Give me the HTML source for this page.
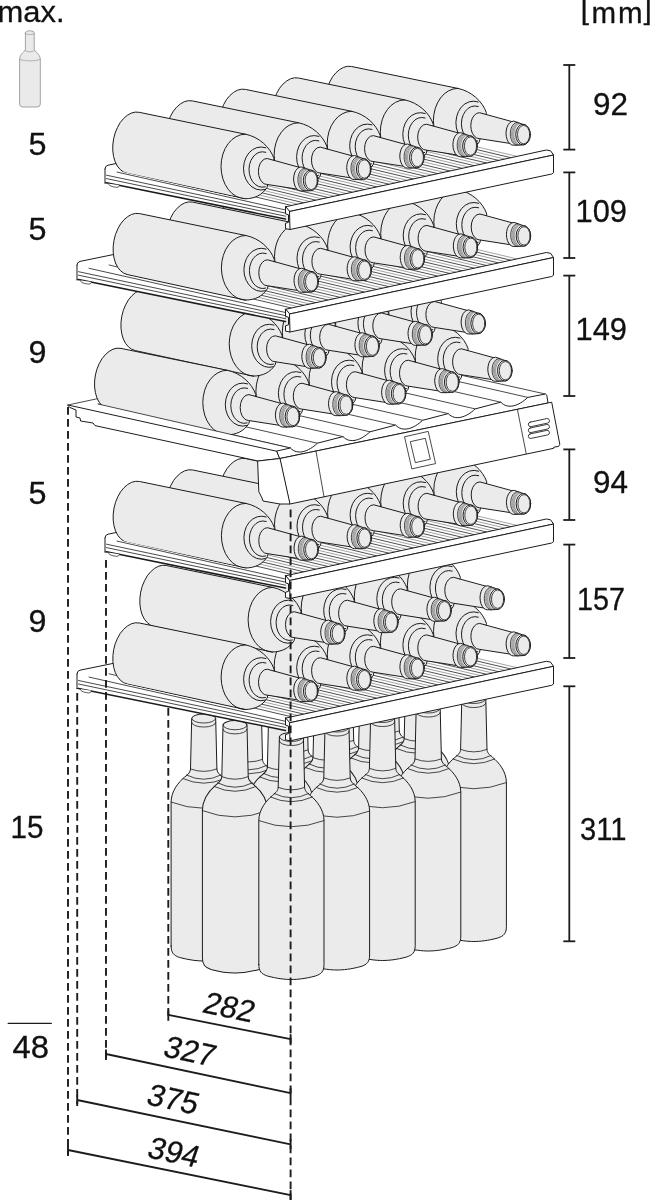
<!DOCTYPE html>
<html><head><meta charset="utf-8"><title>Wine storage capacity</title>
<style>html,body{margin:0;padding:0;background:#fff;}svg{display:block;}text{font-family:"Liberation Sans",sans-serif;fill:#111;stroke:#111;stroke-width:0.3px;}</style>
</head><body>
<svg width="650" height="1200" viewBox="0 0 650 1200" stroke-linecap="round" stroke-linejoin="round">
<rect x="0" y="0" width="650" height="1200" fill="#fff"/>
<g transform="translate(386.1,923) scale(1.000,1.000)">
<path d="M-32.6,-15 L-32.6,-158.9 C-32.6,-170 -25,-179 -19,-184 C-15,-187 -13.4,-189 -13.2,-192.1 L-12,-242.5 A12,4.5 0 0 1 12,-242.5 L13.2,-192.1 C13.4,-189 15,-187 19,-184 C25,-179 32.6,-170 32.6,-158.9 L32.6,-15 C32.6,-8 30,-5.5 24,-3.5 C14,-0.8 6,0 0,0 C-6,0 -14,-0.8 -24,-3.5 C-30,-5.5 -32.6,-8 -32.6,-15Z" fill="#ebebeb" stroke="#1c1c1c" stroke-width="1"/>
<path d="M-32.6,-158.9 Q0,-146.5 32.6,-158.9" fill="none" stroke="#1c1c1c" stroke-width="0.8"/>
<path d="M-20.9,-182.5 Q0,-173 20.9,-182.5" fill="none" stroke="#1c1c1c" stroke-width="0.8"/>
<path d="M-17.3,-186 Q0,-177.4 17.3,-186" fill="none" stroke="#1c1c1c" stroke-width="0.8"/>
<path d="M-13.2,-192.1 Q0,-187 13.2,-192.1" fill="none" stroke="#1c1c1c" stroke-width="0.8"/>
<path d="M-12,-242.5 A12,4.5 0 0 0 12,-242.5" fill="none" stroke="#1c1c1c" stroke-width="0.8"/>
<path d="M-12.1,-238.5 A12,4.5 0 0 0 12.1,-238.5" fill="none" stroke="#1c1c1c" stroke-width="0.8"/>
</g>
<g transform="translate(340.5,932.5) scale(1.000,1.000)">
<path d="M-32.6,-15 L-32.6,-158.9 C-32.6,-170 -25,-179 -19,-184 C-15,-187 -13.4,-189 -13.2,-192.1 L-12,-242.5 A12,4.5 0 0 1 12,-242.5 L13.2,-192.1 C13.4,-189 15,-187 19,-184 C25,-179 32.6,-170 32.6,-158.9 L32.6,-15 C32.6,-8 30,-5.5 24,-3.5 C14,-0.8 6,0 0,0 C-6,0 -14,-0.8 -24,-3.5 C-30,-5.5 -32.6,-8 -32.6,-15Z" fill="#ebebeb" stroke="#1c1c1c" stroke-width="1"/>
<path d="M-32.6,-158.9 Q0,-146.5 32.6,-158.9" fill="none" stroke="#1c1c1c" stroke-width="0.8"/>
<path d="M-20.9,-182.5 Q0,-173 20.9,-182.5" fill="none" stroke="#1c1c1c" stroke-width="0.8"/>
<path d="M-17.3,-186 Q0,-177.4 17.3,-186" fill="none" stroke="#1c1c1c" stroke-width="0.8"/>
<path d="M-13.2,-192.1 Q0,-187 13.2,-192.1" fill="none" stroke="#1c1c1c" stroke-width="0.8"/>
<path d="M-12,-242.5 A12,4.5 0 0 0 12,-242.5" fill="none" stroke="#1c1c1c" stroke-width="0.8"/>
<path d="M-12.1,-238.5 A12,4.5 0 0 0 12.1,-238.5" fill="none" stroke="#1c1c1c" stroke-width="0.8"/>
</g>
<g transform="translate(294.9,942) scale(1.000,1.000)">
<path d="M-32.6,-15 L-32.6,-158.9 C-32.6,-170 -25,-179 -19,-184 C-15,-187 -13.4,-189 -13.2,-192.1 L-12,-242.5 A12,4.5 0 0 1 12,-242.5 L13.2,-192.1 C13.4,-189 15,-187 19,-184 C25,-179 32.6,-170 32.6,-158.9 L32.6,-15 C32.6,-8 30,-5.5 24,-3.5 C14,-0.8 6,0 0,0 C-6,0 -14,-0.8 -24,-3.5 C-30,-5.5 -32.6,-8 -32.6,-15Z" fill="#ebebeb" stroke="#1c1c1c" stroke-width="1"/>
<path d="M-32.6,-158.9 Q0,-146.5 32.6,-158.9" fill="none" stroke="#1c1c1c" stroke-width="0.8"/>
<path d="M-20.9,-182.5 Q0,-173 20.9,-182.5" fill="none" stroke="#1c1c1c" stroke-width="0.8"/>
<path d="M-17.3,-186 Q0,-177.4 17.3,-186" fill="none" stroke="#1c1c1c" stroke-width="0.8"/>
<path d="M-13.2,-192.1 Q0,-187 13.2,-192.1" fill="none" stroke="#1c1c1c" stroke-width="0.8"/>
<path d="M-12,-242.5 A12,4.5 0 0 0 12,-242.5" fill="none" stroke="#1c1c1c" stroke-width="0.8"/>
<path d="M-12.1,-238.5 A12,4.5 0 0 0 12.1,-238.5" fill="none" stroke="#1c1c1c" stroke-width="0.8"/>
</g>
<g transform="translate(249.3,951.5) scale(1.000,1.000)">
<path d="M-32.6,-15 L-32.6,-158.9 C-32.6,-170 -25,-179 -19,-184 C-15,-187 -13.4,-189 -13.2,-192.1 L-12,-242.5 A12,4.5 0 0 1 12,-242.5 L13.2,-192.1 C13.4,-189 15,-187 19,-184 C25,-179 32.6,-170 32.6,-158.9 L32.6,-15 C32.6,-8 30,-5.5 24,-3.5 C14,-0.8 6,0 0,0 C-6,0 -14,-0.8 -24,-3.5 C-30,-5.5 -32.6,-8 -32.6,-15Z" fill="#ebebeb" stroke="#1c1c1c" stroke-width="1"/>
<path d="M-32.6,-158.9 Q0,-146.5 32.6,-158.9" fill="none" stroke="#1c1c1c" stroke-width="0.8"/>
<path d="M-20.9,-182.5 Q0,-173 20.9,-182.5" fill="none" stroke="#1c1c1c" stroke-width="0.8"/>
<path d="M-17.3,-186 Q0,-177.4 17.3,-186" fill="none" stroke="#1c1c1c" stroke-width="0.8"/>
<path d="M-13.2,-192.1 Q0,-187 13.2,-192.1" fill="none" stroke="#1c1c1c" stroke-width="0.8"/>
<path d="M-12,-242.5 A12,4.5 0 0 0 12,-242.5" fill="none" stroke="#1c1c1c" stroke-width="0.8"/>
<path d="M-12.1,-238.5 A12,4.5 0 0 0 12.1,-238.5" fill="none" stroke="#1c1c1c" stroke-width="0.8"/>
</g>
<g transform="translate(203.7,961) scale(1.000,1.000)">
<path d="M-32.6,-15 L-32.6,-158.9 C-32.6,-170 -25,-179 -19,-184 C-15,-187 -13.4,-189 -13.2,-192.1 L-12,-242.5 A12,4.5 0 0 1 12,-242.5 L13.2,-192.1 C13.4,-189 15,-187 19,-184 C25,-179 32.6,-170 32.6,-158.9 L32.6,-15 C32.6,-8 30,-5.5 24,-3.5 C14,-0.8 6,0 0,0 C-6,0 -14,-0.8 -24,-3.5 C-30,-5.5 -32.6,-8 -32.6,-15Z" fill="#ebebeb" stroke="#1c1c1c" stroke-width="1"/>
<path d="M-32.6,-158.9 Q0,-146.5 32.6,-158.9" fill="none" stroke="#1c1c1c" stroke-width="0.8"/>
<path d="M-20.9,-182.5 Q0,-173 20.9,-182.5" fill="none" stroke="#1c1c1c" stroke-width="0.8"/>
<path d="M-17.3,-186 Q0,-177.4 17.3,-186" fill="none" stroke="#1c1c1c" stroke-width="0.8"/>
<path d="M-13.2,-192.1 Q0,-187 13.2,-192.1" fill="none" stroke="#1c1c1c" stroke-width="0.8"/>
<path d="M-12,-242.5 A12,4.5 0 0 0 12,-242.5" fill="none" stroke="#1c1c1c" stroke-width="0.8"/>
<path d="M-12.1,-238.5 A12,4.5 0 0 0 12.1,-238.5" fill="none" stroke="#1c1c1c" stroke-width="0.8"/>
</g>
<g transform="translate(417.4,935) scale(1.000,1.022)">
<path d="M-32.6,-15 L-32.6,-158.9 C-32.6,-170 -25,-179 -19,-184 C-15,-187 -13.4,-189 -13.2,-192.1 L-12,-242.5 A12,4.5 0 0 1 12,-242.5 L13.2,-192.1 C13.4,-189 15,-187 19,-184 C25,-179 32.6,-170 32.6,-158.9 L32.6,-15 C32.6,-8 30,-5.5 24,-3.5 C14,-0.8 6,0 0,0 C-6,0 -14,-0.8 -24,-3.5 C-30,-5.5 -32.6,-8 -32.6,-15Z" fill="#ebebeb" stroke="#1c1c1c" stroke-width="1"/>
<path d="M-32.6,-158.9 Q0,-146.5 32.6,-158.9" fill="none" stroke="#1c1c1c" stroke-width="0.8"/>
<path d="M-20.9,-182.5 Q0,-173 20.9,-182.5" fill="none" stroke="#1c1c1c" stroke-width="0.8"/>
<path d="M-17.3,-186 Q0,-177.4 17.3,-186" fill="none" stroke="#1c1c1c" stroke-width="0.8"/>
<path d="M-13.2,-192.1 Q0,-187 13.2,-192.1" fill="none" stroke="#1c1c1c" stroke-width="0.8"/>
<path d="M-12,-242.5 A12,4.5 0 0 0 12,-242.5" fill="none" stroke="#1c1c1c" stroke-width="0.8"/>
<path d="M-12.1,-238.5 A12,4.5 0 0 0 12.1,-238.5" fill="none" stroke="#1c1c1c" stroke-width="0.8"/>
</g>
<g transform="translate(371.8,944.5) scale(1.000,1.022)">
<path d="M-32.6,-15 L-32.6,-158.9 C-32.6,-170 -25,-179 -19,-184 C-15,-187 -13.4,-189 -13.2,-192.1 L-12,-242.5 A12,4.5 0 0 1 12,-242.5 L13.2,-192.1 C13.4,-189 15,-187 19,-184 C25,-179 32.6,-170 32.6,-158.9 L32.6,-15 C32.6,-8 30,-5.5 24,-3.5 C14,-0.8 6,0 0,0 C-6,0 -14,-0.8 -24,-3.5 C-30,-5.5 -32.6,-8 -32.6,-15Z" fill="#ebebeb" stroke="#1c1c1c" stroke-width="1"/>
<path d="M-32.6,-158.9 Q0,-146.5 32.6,-158.9" fill="none" stroke="#1c1c1c" stroke-width="0.8"/>
<path d="M-20.9,-182.5 Q0,-173 20.9,-182.5" fill="none" stroke="#1c1c1c" stroke-width="0.8"/>
<path d="M-17.3,-186 Q0,-177.4 17.3,-186" fill="none" stroke="#1c1c1c" stroke-width="0.8"/>
<path d="M-13.2,-192.1 Q0,-187 13.2,-192.1" fill="none" stroke="#1c1c1c" stroke-width="0.8"/>
<path d="M-12,-242.5 A12,4.5 0 0 0 12,-242.5" fill="none" stroke="#1c1c1c" stroke-width="0.8"/>
<path d="M-12.1,-238.5 A12,4.5 0 0 0 12.1,-238.5" fill="none" stroke="#1c1c1c" stroke-width="0.8"/>
</g>
<g transform="translate(326.2,954) scale(1.000,1.022)">
<path d="M-32.6,-15 L-32.6,-158.9 C-32.6,-170 -25,-179 -19,-184 C-15,-187 -13.4,-189 -13.2,-192.1 L-12,-242.5 A12,4.5 0 0 1 12,-242.5 L13.2,-192.1 C13.4,-189 15,-187 19,-184 C25,-179 32.6,-170 32.6,-158.9 L32.6,-15 C32.6,-8 30,-5.5 24,-3.5 C14,-0.8 6,0 0,0 C-6,0 -14,-0.8 -24,-3.5 C-30,-5.5 -32.6,-8 -32.6,-15Z" fill="#ebebeb" stroke="#1c1c1c" stroke-width="1"/>
<path d="M-32.6,-158.9 Q0,-146.5 32.6,-158.9" fill="none" stroke="#1c1c1c" stroke-width="0.8"/>
<path d="M-20.9,-182.5 Q0,-173 20.9,-182.5" fill="none" stroke="#1c1c1c" stroke-width="0.8"/>
<path d="M-17.3,-186 Q0,-177.4 17.3,-186" fill="none" stroke="#1c1c1c" stroke-width="0.8"/>
<path d="M-13.2,-192.1 Q0,-187 13.2,-192.1" fill="none" stroke="#1c1c1c" stroke-width="0.8"/>
<path d="M-12,-242.5 A12,4.5 0 0 0 12,-242.5" fill="none" stroke="#1c1c1c" stroke-width="0.8"/>
<path d="M-12.1,-238.5 A12,4.5 0 0 0 12.1,-238.5" fill="none" stroke="#1c1c1c" stroke-width="0.8"/>
</g>
<g transform="translate(280.6,963.5) scale(1.000,1.022)">
<path d="M-32.6,-15 L-32.6,-158.9 C-32.6,-170 -25,-179 -19,-184 C-15,-187 -13.4,-189 -13.2,-192.1 L-12,-242.5 A12,4.5 0 0 1 12,-242.5 L13.2,-192.1 C13.4,-189 15,-187 19,-184 C25,-179 32.6,-170 32.6,-158.9 L32.6,-15 C32.6,-8 30,-5.5 24,-3.5 C14,-0.8 6,0 0,0 C-6,0 -14,-0.8 -24,-3.5 C-30,-5.5 -32.6,-8 -32.6,-15Z" fill="#ebebeb" stroke="#1c1c1c" stroke-width="1"/>
<path d="M-32.6,-158.9 Q0,-146.5 32.6,-158.9" fill="none" stroke="#1c1c1c" stroke-width="0.8"/>
<path d="M-20.9,-182.5 Q0,-173 20.9,-182.5" fill="none" stroke="#1c1c1c" stroke-width="0.8"/>
<path d="M-17.3,-186 Q0,-177.4 17.3,-186" fill="none" stroke="#1c1c1c" stroke-width="0.8"/>
<path d="M-13.2,-192.1 Q0,-187 13.2,-192.1" fill="none" stroke="#1c1c1c" stroke-width="0.8"/>
<path d="M-12,-242.5 A12,4.5 0 0 0 12,-242.5" fill="none" stroke="#1c1c1c" stroke-width="0.8"/>
<path d="M-12.1,-238.5 A12,4.5 0 0 0 12.1,-238.5" fill="none" stroke="#1c1c1c" stroke-width="0.8"/>
</g>
<g transform="translate(235,973) scale(1.000,1.022)">
<path d="M-32.6,-15 L-32.6,-158.9 C-32.6,-170 -25,-179 -19,-184 C-15,-187 -13.4,-189 -13.2,-192.1 L-12,-242.5 A12,4.5 0 0 1 12,-242.5 L13.2,-192.1 C13.4,-189 15,-187 19,-184 C25,-179 32.6,-170 32.6,-158.9 L32.6,-15 C32.6,-8 30,-5.5 24,-3.5 C14,-0.8 6,0 0,0 C-6,0 -14,-0.8 -24,-3.5 C-30,-5.5 -32.6,-8 -32.6,-15Z" fill="#ebebeb" stroke="#1c1c1c" stroke-width="1"/>
<path d="M-32.6,-158.9 Q0,-146.5 32.6,-158.9" fill="none" stroke="#1c1c1c" stroke-width="0.8"/>
<path d="M-20.9,-182.5 Q0,-173 20.9,-182.5" fill="none" stroke="#1c1c1c" stroke-width="0.8"/>
<path d="M-17.3,-186 Q0,-177.4 17.3,-186" fill="none" stroke="#1c1c1c" stroke-width="0.8"/>
<path d="M-13.2,-192.1 Q0,-187 13.2,-192.1" fill="none" stroke="#1c1c1c" stroke-width="0.8"/>
<path d="M-12,-242.5 A12,4.5 0 0 0 12,-242.5" fill="none" stroke="#1c1c1c" stroke-width="0.8"/>
<path d="M-12.1,-238.5 A12,4.5 0 0 0 12.1,-238.5" fill="none" stroke="#1c1c1c" stroke-width="0.8"/>
</g>
<g transform="translate(473.8,941.5) scale(1.000,1.000)">
<path d="M-32.6,-15 L-32.6,-158.9 C-32.6,-170 -25,-179 -19,-184 C-15,-187 -13.4,-189 -13.2,-192.1 L-12,-242.5 A12,4.5 0 0 1 12,-242.5 L13.2,-192.1 C13.4,-189 15,-187 19,-184 C25,-179 32.6,-170 32.6,-158.9 L32.6,-15 C32.6,-8 30,-5.5 24,-3.5 C14,-0.8 6,0 0,0 C-6,0 -14,-0.8 -24,-3.5 C-30,-5.5 -32.6,-8 -32.6,-15Z" fill="#ebebeb" stroke="#1c1c1c" stroke-width="1"/>
<path d="M-32.6,-158.9 Q0,-146.5 32.6,-158.9" fill="none" stroke="#1c1c1c" stroke-width="0.8"/>
<path d="M-20.9,-182.5 Q0,-173 20.9,-182.5" fill="none" stroke="#1c1c1c" stroke-width="0.8"/>
<path d="M-17.3,-186 Q0,-177.4 17.3,-186" fill="none" stroke="#1c1c1c" stroke-width="0.8"/>
<path d="M-13.2,-192.1 Q0,-187 13.2,-192.1" fill="none" stroke="#1c1c1c" stroke-width="0.8"/>
<path d="M-12,-242.5 A12,4.5 0 0 0 12,-242.5" fill="none" stroke="#1c1c1c" stroke-width="0.8"/>
<path d="M-12.1,-238.5 A12,4.5 0 0 0 12.1,-238.5" fill="none" stroke="#1c1c1c" stroke-width="0.8"/>
</g>
<g transform="translate(428.2,951) scale(1.000,1.000)">
<path d="M-32.6,-15 L-32.6,-158.9 C-32.6,-170 -25,-179 -19,-184 C-15,-187 -13.4,-189 -13.2,-192.1 L-12,-242.5 A12,4.5 0 0 1 12,-242.5 L13.2,-192.1 C13.4,-189 15,-187 19,-184 C25,-179 32.6,-170 32.6,-158.9 L32.6,-15 C32.6,-8 30,-5.5 24,-3.5 C14,-0.8 6,0 0,0 C-6,0 -14,-0.8 -24,-3.5 C-30,-5.5 -32.6,-8 -32.6,-15Z" fill="#ebebeb" stroke="#1c1c1c" stroke-width="1"/>
<path d="M-32.6,-158.9 Q0,-146.5 32.6,-158.9" fill="none" stroke="#1c1c1c" stroke-width="0.8"/>
<path d="M-20.9,-182.5 Q0,-173 20.9,-182.5" fill="none" stroke="#1c1c1c" stroke-width="0.8"/>
<path d="M-17.3,-186 Q0,-177.4 17.3,-186" fill="none" stroke="#1c1c1c" stroke-width="0.8"/>
<path d="M-13.2,-192.1 Q0,-187 13.2,-192.1" fill="none" stroke="#1c1c1c" stroke-width="0.8"/>
<path d="M-12,-242.5 A12,4.5 0 0 0 12,-242.5" fill="none" stroke="#1c1c1c" stroke-width="0.8"/>
<path d="M-12.1,-238.5 A12,4.5 0 0 0 12.1,-238.5" fill="none" stroke="#1c1c1c" stroke-width="0.8"/>
</g>
<g transform="translate(382.6,960.5) scale(1.000,1.000)">
<path d="M-32.6,-15 L-32.6,-158.9 C-32.6,-170 -25,-179 -19,-184 C-15,-187 -13.4,-189 -13.2,-192.1 L-12,-242.5 A12,4.5 0 0 1 12,-242.5 L13.2,-192.1 C13.4,-189 15,-187 19,-184 C25,-179 32.6,-170 32.6,-158.9 L32.6,-15 C32.6,-8 30,-5.5 24,-3.5 C14,-0.8 6,0 0,0 C-6,0 -14,-0.8 -24,-3.5 C-30,-5.5 -32.6,-8 -32.6,-15Z" fill="#ebebeb" stroke="#1c1c1c" stroke-width="1"/>
<path d="M-32.6,-158.9 Q0,-146.5 32.6,-158.9" fill="none" stroke="#1c1c1c" stroke-width="0.8"/>
<path d="M-20.9,-182.5 Q0,-173 20.9,-182.5" fill="none" stroke="#1c1c1c" stroke-width="0.8"/>
<path d="M-17.3,-186 Q0,-177.4 17.3,-186" fill="none" stroke="#1c1c1c" stroke-width="0.8"/>
<path d="M-13.2,-192.1 Q0,-187 13.2,-192.1" fill="none" stroke="#1c1c1c" stroke-width="0.8"/>
<path d="M-12,-242.5 A12,4.5 0 0 0 12,-242.5" fill="none" stroke="#1c1c1c" stroke-width="0.8"/>
<path d="M-12.1,-238.5 A12,4.5 0 0 0 12.1,-238.5" fill="none" stroke="#1c1c1c" stroke-width="0.8"/>
</g>
<g transform="translate(337,970) scale(1.000,1.000)">
<path d="M-32.6,-15 L-32.6,-158.9 C-32.6,-170 -25,-179 -19,-184 C-15,-187 -13.4,-189 -13.2,-192.1 L-12,-242.5 A12,4.5 0 0 1 12,-242.5 L13.2,-192.1 C13.4,-189 15,-187 19,-184 C25,-179 32.6,-170 32.6,-158.9 L32.6,-15 C32.6,-8 30,-5.5 24,-3.5 C14,-0.8 6,0 0,0 C-6,0 -14,-0.8 -24,-3.5 C-30,-5.5 -32.6,-8 -32.6,-15Z" fill="#ebebeb" stroke="#1c1c1c" stroke-width="1"/>
<path d="M-32.6,-158.9 Q0,-146.5 32.6,-158.9" fill="none" stroke="#1c1c1c" stroke-width="0.8"/>
<path d="M-20.9,-182.5 Q0,-173 20.9,-182.5" fill="none" stroke="#1c1c1c" stroke-width="0.8"/>
<path d="M-17.3,-186 Q0,-177.4 17.3,-186" fill="none" stroke="#1c1c1c" stroke-width="0.8"/>
<path d="M-13.2,-192.1 Q0,-187 13.2,-192.1" fill="none" stroke="#1c1c1c" stroke-width="0.8"/>
<path d="M-12,-242.5 A12,4.5 0 0 0 12,-242.5" fill="none" stroke="#1c1c1c" stroke-width="0.8"/>
<path d="M-12.1,-238.5 A12,4.5 0 0 0 12.1,-238.5" fill="none" stroke="#1c1c1c" stroke-width="0.8"/>
</g>
<g transform="translate(291.4,979.5) scale(1.000,1.000)">
<path d="M-32.6,-15 L-32.6,-158.9 C-32.6,-170 -25,-179 -19,-184 C-15,-187 -13.4,-189 -13.2,-192.1 L-12,-242.5 A12,4.5 0 0 1 12,-242.5 L13.2,-192.1 C13.4,-189 15,-187 19,-184 C25,-179 32.6,-170 32.6,-158.9 L32.6,-15 C32.6,-8 30,-5.5 24,-3.5 C14,-0.8 6,0 0,0 C-6,0 -14,-0.8 -24,-3.5 C-30,-5.5 -32.6,-8 -32.6,-15Z" fill="#ebebeb" stroke="#1c1c1c" stroke-width="1"/>
<path d="M-32.6,-158.9 Q0,-146.5 32.6,-158.9" fill="none" stroke="#1c1c1c" stroke-width="0.8"/>
<path d="M-20.9,-182.5 Q0,-173 20.9,-182.5" fill="none" stroke="#1c1c1c" stroke-width="0.8"/>
<path d="M-17.3,-186 Q0,-177.4 17.3,-186" fill="none" stroke="#1c1c1c" stroke-width="0.8"/>
<path d="M-13.2,-192.1 Q0,-187 13.2,-192.1" fill="none" stroke="#1c1c1c" stroke-width="0.8"/>
<path d="M-12,-242.5 A12,4.5 0 0 0 12,-242.5" fill="none" stroke="#1c1c1c" stroke-width="0.8"/>
<path d="M-12.1,-238.5 A12,4.5 0 0 0 12.1,-238.5" fill="none" stroke="#1c1c1c" stroke-width="0.8"/>
</g>
<path d="M77,674.3 L285.5,723.1 L285.5,718.1 L546.3,661.3 L337.8,612.5Z" fill="#fff" stroke="none" stroke-width="0"/>
<path d="M109.1,673.8 L291.6,716.8" fill="none" stroke="#222" stroke-width="0.8"/>
<path d="M115.2,672.4 L297.7,715.4" fill="none" stroke="#666" stroke-width="0.6"/>
<path d="M121.3,671.1 L303.8,714.1" fill="none" stroke="#222" stroke-width="0.8"/>
<path d="M127.4,669.8 L309.9,712.8" fill="none" stroke="#666" stroke-width="0.6"/>
<path d="M133.5,668.5 L316,711.5" fill="none" stroke="#222" stroke-width="0.8"/>
<path d="M139.6,667.1 L322.1,710.1" fill="none" stroke="#666" stroke-width="0.6"/>
<path d="M145.6,665.8 L328.1,708.8" fill="none" stroke="#222" stroke-width="0.8"/>
<path d="M151.7,664.5 L334.2,707.5" fill="none" stroke="#666" stroke-width="0.6"/>
<path d="M157.8,663.1 L340.3,706.2" fill="none" stroke="#222" stroke-width="0.8"/>
<path d="M163.9,661.8 L346.4,704.8" fill="none" stroke="#666" stroke-width="0.6"/>
<path d="M170,660.5 L352.5,703.5" fill="none" stroke="#222" stroke-width="0.8"/>
<path d="M176.1,659.2 L358.6,702.2" fill="none" stroke="#666" stroke-width="0.6"/>
<path d="M182.2,657.8 L364.7,700.9" fill="none" stroke="#222" stroke-width="0.8"/>
<path d="M188.3,656.5 L370.8,699.5" fill="none" stroke="#666" stroke-width="0.6"/>
<path d="M194.4,655.2 L376.9,698.2" fill="none" stroke="#222" stroke-width="0.8"/>
<path d="M200.5,653.9 L383,696.9" fill="none" stroke="#666" stroke-width="0.6"/>
<path d="M206.6,652.5 L389.1,695.5" fill="none" stroke="#222" stroke-width="0.8"/>
<path d="M212.7,651.2 L395.2,694.2" fill="none" stroke="#666" stroke-width="0.6"/>
<path d="M218.8,649.9 L401.3,692.9" fill="none" stroke="#222" stroke-width="0.8"/>
<path d="M224.8,648.5 L407.3,691.6" fill="none" stroke="#666" stroke-width="0.6"/>
<path d="M230.9,647.2 L413.4,690.2" fill="none" stroke="#222" stroke-width="0.8"/>
<path d="M237,645.9 L419.5,688.9" fill="none" stroke="#666" stroke-width="0.6"/>
<path d="M243.1,644.6 L425.6,687.6" fill="none" stroke="#222" stroke-width="0.8"/>
<path d="M249.2,643.2 L431.7,686.3" fill="none" stroke="#666" stroke-width="0.6"/>
<path d="M255.3,641.9 L437.8,684.9" fill="none" stroke="#222" stroke-width="0.8"/>
<path d="M261.4,640.6 L443.9,683.6" fill="none" stroke="#666" stroke-width="0.6"/>
<path d="M267.5,639.3 L450,682.3" fill="none" stroke="#222" stroke-width="0.8"/>
<path d="M273.6,637.9 L456.1,680.9" fill="none" stroke="#666" stroke-width="0.6"/>
<path d="M279.7,636.6 L462.2,679.6" fill="none" stroke="#222" stroke-width="0.8"/>
<path d="M285.8,635.3 L468.3,678.3" fill="none" stroke="#666" stroke-width="0.6"/>
<path d="M291.9,634 L474.4,677" fill="none" stroke="#222" stroke-width="0.8"/>
<path d="M298,632.6 L480.5,675.6" fill="none" stroke="#666" stroke-width="0.6"/>
<path d="M304.1,631.3 L486.6,674.3" fill="none" stroke="#222" stroke-width="0.8"/>
<path d="M310.1,630 L492.6,673" fill="none" stroke="#666" stroke-width="0.6"/>
<path d="M316.2,628.6 L498.7,671.7" fill="none" stroke="#222" stroke-width="0.8"/>
<path d="M322.3,627.3 L504.8,670.3" fill="none" stroke="#666" stroke-width="0.6"/>
<path d="M328.4,626 L510.9,669" fill="none" stroke="#222" stroke-width="0.8"/>
<path d="M334.5,624.7 L517,667.7" fill="none" stroke="#666" stroke-width="0.6"/>
<path d="M77,673.9 Q77,670.8 80,670.2 L117,662.6" fill="none" stroke="#1c1c1c" stroke-width="1"/>
<g transform="translate(523.1,645.3)">
<path d="M-183.4,-7.1 L-187.1,-8.4 L-190.4,-10.9 L-193.3,-14.4 L-195.5,-18.7 L-197,-23.8 L-197.8,-29.5 L-197.8,-35.4 L-197,-41.5 L-195.5,-47.3 L-193.2,-52.8 L-190.4,-57.8 L-187,-61.9 L-183.3,-65.1 L-179.4,-67.3 L-175.4,-68.3 L-171.4,-68.1 L-65.1,-46.2 C-51.6,-43.4 -40.6,-33.4 -36.6,-21.9 L-43.6,7.1 C-48.6,14.6 -55.6,18.2 -65.1,18.4Z" fill="#ebebeb" stroke="#1c1c1c" stroke-width="1"/>
<path d="M-65.1,-46.2 L-69.9,-45.6 L-74.5,-43.7 L-78.7,-40.8 L-82.4,-36.7 L-85.5,-31.8 L-87.7,-26.3 L-89.1,-20.2 L-89.6,-13.9 L-89.1,-7.6 L-87.7,-1.5 L-85.5,4 L-82.4,8.9 L-78.7,13 L-74.5,15.9 L-69.9,17.8 L-65.1,18.4" fill="none" stroke="#1c1c1c" stroke-width="1"/>
<path d="M-44.8,-32.6 L-49.3,-33.4 L-53.8,-32.8 L-58.1,-30.7 L-61.8,-27.4 L-64.6,-23 L-66.4,-17.8 L-67.1,-12.3 L-66.6,-6.7 L-64.9,-1.5 L-62.2,3 L-58.6,6.5 L-54.4,8.8 L-49.9,9.6 L-45.4,9" fill="none" stroke="#1c1c1c" stroke-width="1"/>
<path d="M-44.8,-28.1 L-48.3,-28.6 L-51.7,-28 L-54.9,-26.2 L-57.6,-23.4 L-59.7,-19.9 L-61.1,-15.7 L-61.6,-11.2 L-61.2,-6.7 L-60,-2.5 L-58,1.2 L-55.3,4.1 L-52.1,6 L-48.7,6.8 L-45.3,6.4" fill="none" stroke="#1c1c1c" stroke-width="1"/>
<path d="M-43.8,-21.8 L-46.4,-21.2 L-48.7,-19.3 L-50.6,-16.5 L-51.8,-12.9 L-52.2,-8.9 L-51.8,-4.9 L-50.6,-1.3 L-48.7,1.5 L-46.4,3.4 L-43.8,4 L-10.6,9.2 L-10.6,-12.5 Z" fill="#ebebeb" stroke="#1c1c1c" stroke-width="1"/>
<path d="M-9.6,-13.4 L-11.5,-13 L-13.3,-11.8 L-14.8,-9.9 L-16,-7.4 L-16.7,-4.5 L-17,-1.4 L-16.7,1.7 L-16,4.6 L-14.8,7.1 L-13.3,9 L-11.5,10.2 L-9.6,10.6 L-0.2,10.3 L0,10.3 L1.9,9.9 L3.6,8.9 L5.1,7.3 L6.3,5.2 L7,2.7 L7.2,0 L7,-2.7 L6.3,-5.2 L5.1,-7.3 L3.6,-8.9 L1.9,-9.9 L0,-10.3Z" fill="#ebebeb" stroke="#1c1c1c" stroke-width="1"/>
<path d="M-5.7,-12.3 L-7.5,-11.8 L-9.2,-10.6 L-10.7,-8.8 L-11.8,-6.4 L-12.5,-3.7 L-12.7,-0.8 L-12.5,2.1 L-11.8,4.8 L-10.7,7.2 L-9.2,9 L-7.5,10.2 L-5.7,10.7" fill="none" stroke="#1c1c1c" stroke-width="0.8"/>
<path d="M-4.7,-11.9 L-6.8,-11.1 L-8.7,-9.5 L-10.1,-7 L-11.1,-3.9 L-11.4,-0.6 L-11.1,2.7 L-10.1,5.8 L-8.7,8.3 L-6.8,9.9 L-4.7,10.7" fill="none" stroke="#444" stroke-width="0.5"/>
<path d="M-3.6,-11.5 L-5.7,-10.8 L-7.6,-9.1 L-9,-6.7 L-10,-3.7 L-10.3,-0.4 L-10,2.8 L-9,5.8 L-7.6,8.2 L-5.7,9.9 L-3.6,10.6" fill="none" stroke="#444" stroke-width="0.5"/>
<path d="M-2.5,-11.1 L-4.6,-10.4 L-6.5,-8.8 L-7.9,-6.4 L-8.9,-3.5 L-9.2,-0.3 L-8.9,2.9 L-7.9,5.8 L-6.5,8.2 L-4.6,9.8 L-2.5,10.5" fill="none" stroke="#444" stroke-width="0.5"/>
<ellipse cx="0" cy="0" rx="7.25" ry="10.3" fill="#ebebeb" stroke="#1c1c1c" stroke-width="1"/>
<ellipse cx="0.6" cy="0" rx="6.1" ry="9.2" fill="#ebebeb" stroke="#1c1c1c" stroke-width="0.8"/>
</g>
<g transform="translate(497,599.2)">
<path d="M-183.4,-7.1 L-187.1,-8.4 L-190.4,-10.9 L-193.3,-14.4 L-195.5,-18.7 L-197,-23.8 L-197.8,-29.5 L-197.8,-35.4 L-197,-41.5 L-195.5,-47.3 L-193.2,-52.8 L-190.4,-57.8 L-187,-61.9 L-183.3,-65.1 L-179.4,-67.3 L-175.4,-68.3 L-171.4,-68.1 L-65.1,-46.2 C-51.6,-43.4 -40.6,-33.4 -36.6,-21.9 L-43.6,7.1 C-48.6,14.6 -55.6,18.2 -65.1,18.4Z" fill="#ebebeb" stroke="#1c1c1c" stroke-width="1"/>
<path d="M-65.1,-46.2 L-69.9,-45.6 L-74.5,-43.7 L-78.7,-40.8 L-82.4,-36.7 L-85.5,-31.8 L-87.7,-26.3 L-89.1,-20.2 L-89.6,-13.9 L-89.1,-7.6 L-87.7,-1.5 L-85.5,4 L-82.4,8.9 L-78.7,13 L-74.5,15.9 L-69.9,17.8 L-65.1,18.4" fill="none" stroke="#1c1c1c" stroke-width="1"/>
<path d="M-44.8,-32.6 L-49.3,-33.4 L-53.8,-32.8 L-58.1,-30.7 L-61.8,-27.4 L-64.6,-23 L-66.4,-17.8 L-67.1,-12.3 L-66.6,-6.7 L-64.9,-1.5 L-62.2,3 L-58.6,6.5 L-54.4,8.8 L-49.9,9.6 L-45.4,9" fill="none" stroke="#1c1c1c" stroke-width="1"/>
<path d="M-44.8,-28.1 L-48.3,-28.6 L-51.7,-28 L-54.9,-26.2 L-57.6,-23.4 L-59.7,-19.9 L-61.1,-15.7 L-61.6,-11.2 L-61.2,-6.7 L-60,-2.5 L-58,1.2 L-55.3,4.1 L-52.1,6 L-48.7,6.8 L-45.3,6.4" fill="none" stroke="#1c1c1c" stroke-width="1"/>
<path d="M-43.8,-21.8 L-46.4,-21.2 L-48.7,-19.3 L-50.6,-16.5 L-51.8,-12.9 L-52.2,-8.9 L-51.8,-4.9 L-50.6,-1.3 L-48.7,1.5 L-46.4,3.4 L-43.8,4 L-10.6,9.2 L-10.6,-12.5 Z" fill="#ebebeb" stroke="#1c1c1c" stroke-width="1"/>
<path d="M-9.6,-13.4 L-11.5,-13 L-13.3,-11.8 L-14.8,-9.9 L-16,-7.4 L-16.7,-4.5 L-17,-1.4 L-16.7,1.7 L-16,4.6 L-14.8,7.1 L-13.3,9 L-11.5,10.2 L-9.6,10.6 L-0.2,10.3 L0,10.3 L1.9,9.9 L3.6,8.9 L5.1,7.3 L6.3,5.2 L7,2.7 L7.2,0 L7,-2.7 L6.3,-5.2 L5.1,-7.3 L3.6,-8.9 L1.9,-9.9 L0,-10.3Z" fill="#ebebeb" stroke="#1c1c1c" stroke-width="1"/>
<path d="M-5.7,-12.3 L-7.5,-11.8 L-9.2,-10.6 L-10.7,-8.8 L-11.8,-6.4 L-12.5,-3.7 L-12.7,-0.8 L-12.5,2.1 L-11.8,4.8 L-10.7,7.2 L-9.2,9 L-7.5,10.2 L-5.7,10.7" fill="none" stroke="#1c1c1c" stroke-width="0.8"/>
<path d="M-4.7,-11.9 L-6.8,-11.1 L-8.7,-9.5 L-10.1,-7 L-11.1,-3.9 L-11.4,-0.6 L-11.1,2.7 L-10.1,5.8 L-8.7,8.3 L-6.8,9.9 L-4.7,10.7" fill="none" stroke="#444" stroke-width="0.5"/>
<path d="M-3.6,-11.5 L-5.7,-10.8 L-7.6,-9.1 L-9,-6.7 L-10,-3.7 L-10.3,-0.4 L-10,2.8 L-9,5.8 L-7.6,8.2 L-5.7,9.9 L-3.6,10.6" fill="none" stroke="#444" stroke-width="0.5"/>
<path d="M-2.5,-11.1 L-4.6,-10.4 L-6.5,-8.8 L-7.9,-6.4 L-8.9,-3.5 L-9.2,-0.3 L-8.9,2.9 L-7.9,5.8 L-6.5,8.2 L-4.6,9.8 L-2.5,10.5" fill="none" stroke="#444" stroke-width="0.5"/>
<ellipse cx="0" cy="0" rx="7.25" ry="10.3" fill="#ebebeb" stroke="#1c1c1c" stroke-width="1"/>
<ellipse cx="0.6" cy="0" rx="6.1" ry="9.2" fill="#ebebeb" stroke="#1c1c1c" stroke-width="0.8"/>
</g>
<g transform="translate(470,656.8)">
<path d="M-183.4,-7.1 L-187.1,-8.4 L-190.4,-10.9 L-193.3,-14.4 L-195.5,-18.7 L-197,-23.8 L-197.8,-29.5 L-197.8,-35.4 L-197,-41.5 L-195.5,-47.3 L-193.2,-52.8 L-190.4,-57.8 L-187,-61.9 L-183.3,-65.1 L-179.4,-67.3 L-175.4,-68.3 L-171.4,-68.1 L-65.1,-46.2 C-51.6,-43.4 -40.6,-33.4 -36.6,-21.9 L-43.6,7.1 C-48.6,14.6 -55.6,18.2 -65.1,18.4Z" fill="#ebebeb" stroke="#1c1c1c" stroke-width="1"/>
<path d="M-65.1,-46.2 L-69.9,-45.6 L-74.5,-43.7 L-78.7,-40.8 L-82.4,-36.7 L-85.5,-31.8 L-87.7,-26.3 L-89.1,-20.2 L-89.6,-13.9 L-89.1,-7.6 L-87.7,-1.5 L-85.5,4 L-82.4,8.9 L-78.7,13 L-74.5,15.9 L-69.9,17.8 L-65.1,18.4" fill="none" stroke="#1c1c1c" stroke-width="1"/>
<path d="M-44.8,-32.6 L-49.3,-33.4 L-53.8,-32.8 L-58.1,-30.7 L-61.8,-27.4 L-64.6,-23 L-66.4,-17.8 L-67.1,-12.3 L-66.6,-6.7 L-64.9,-1.5 L-62.2,3 L-58.6,6.5 L-54.4,8.8 L-49.9,9.6 L-45.4,9" fill="none" stroke="#1c1c1c" stroke-width="1"/>
<path d="M-44.8,-28.1 L-48.3,-28.6 L-51.7,-28 L-54.9,-26.2 L-57.6,-23.4 L-59.7,-19.9 L-61.1,-15.7 L-61.6,-11.2 L-61.2,-6.7 L-60,-2.5 L-58,1.2 L-55.3,4.1 L-52.1,6 L-48.7,6.8 L-45.3,6.4" fill="none" stroke="#1c1c1c" stroke-width="1"/>
<path d="M-43.8,-21.8 L-46.4,-21.2 L-48.7,-19.3 L-50.6,-16.5 L-51.8,-12.9 L-52.2,-8.9 L-51.8,-4.9 L-50.6,-1.3 L-48.7,1.5 L-46.4,3.4 L-43.8,4 L-10.6,9.2 L-10.6,-12.5 Z" fill="#ebebeb" stroke="#1c1c1c" stroke-width="1"/>
<path d="M-9.6,-13.4 L-11.5,-13 L-13.3,-11.8 L-14.8,-9.9 L-16,-7.4 L-16.7,-4.5 L-17,-1.4 L-16.7,1.7 L-16,4.6 L-14.8,7.1 L-13.3,9 L-11.5,10.2 L-9.6,10.6 L-0.2,10.3 L0,10.3 L1.9,9.9 L3.6,8.9 L5.1,7.3 L6.3,5.2 L7,2.7 L7.2,0 L7,-2.7 L6.3,-5.2 L5.1,-7.3 L3.6,-8.9 L1.9,-9.9 L0,-10.3Z" fill="#ebebeb" stroke="#1c1c1c" stroke-width="1"/>
<path d="M-5.7,-12.3 L-7.5,-11.8 L-9.2,-10.6 L-10.7,-8.8 L-11.8,-6.4 L-12.5,-3.7 L-12.7,-0.8 L-12.5,2.1 L-11.8,4.8 L-10.7,7.2 L-9.2,9 L-7.5,10.2 L-5.7,10.7" fill="none" stroke="#1c1c1c" stroke-width="0.8"/>
<path d="M-4.7,-11.9 L-6.8,-11.1 L-8.7,-9.5 L-10.1,-7 L-11.1,-3.9 L-11.4,-0.6 L-11.1,2.7 L-10.1,5.8 L-8.7,8.3 L-6.8,9.9 L-4.7,10.7" fill="none" stroke="#444" stroke-width="0.5"/>
<path d="M-3.6,-11.5 L-5.7,-10.8 L-7.6,-9.1 L-9,-6.7 L-10,-3.7 L-10.3,-0.4 L-10,2.8 L-9,5.8 L-7.6,8.2 L-5.7,9.9 L-3.6,10.6" fill="none" stroke="#444" stroke-width="0.5"/>
<path d="M-2.5,-11.1 L-4.6,-10.4 L-6.5,-8.8 L-7.9,-6.4 L-8.9,-3.5 L-9.2,-0.3 L-8.9,2.9 L-7.9,5.8 L-6.5,8.2 L-4.6,9.8 L-2.5,10.5" fill="none" stroke="#444" stroke-width="0.5"/>
<ellipse cx="0" cy="0" rx="7.25" ry="10.3" fill="#ebebeb" stroke="#1c1c1c" stroke-width="1"/>
<ellipse cx="0.6" cy="0" rx="6.1" ry="9.2" fill="#ebebeb" stroke="#1c1c1c" stroke-width="0.8"/>
</g>
<g transform="translate(443.9,610.7)">
<path d="M-183.4,-7.1 L-187.1,-8.4 L-190.4,-10.9 L-193.3,-14.4 L-195.5,-18.7 L-197,-23.8 L-197.8,-29.5 L-197.8,-35.4 L-197,-41.5 L-195.5,-47.3 L-193.2,-52.8 L-190.4,-57.8 L-187,-61.9 L-183.3,-65.1 L-179.4,-67.3 L-175.4,-68.3 L-171.4,-68.1 L-65.1,-46.2 C-51.6,-43.4 -40.6,-33.4 -36.6,-21.9 L-43.6,7.1 C-48.6,14.6 -55.6,18.2 -65.1,18.4Z" fill="#ebebeb" stroke="#1c1c1c" stroke-width="1"/>
<path d="M-65.1,-46.2 L-69.9,-45.6 L-74.5,-43.7 L-78.7,-40.8 L-82.4,-36.7 L-85.5,-31.8 L-87.7,-26.3 L-89.1,-20.2 L-89.6,-13.9 L-89.1,-7.6 L-87.7,-1.5 L-85.5,4 L-82.4,8.9 L-78.7,13 L-74.5,15.9 L-69.9,17.8 L-65.1,18.4" fill="none" stroke="#1c1c1c" stroke-width="1"/>
<path d="M-44.8,-32.6 L-49.3,-33.4 L-53.8,-32.8 L-58.1,-30.7 L-61.8,-27.4 L-64.6,-23 L-66.4,-17.8 L-67.1,-12.3 L-66.6,-6.7 L-64.9,-1.5 L-62.2,3 L-58.6,6.5 L-54.4,8.8 L-49.9,9.6 L-45.4,9" fill="none" stroke="#1c1c1c" stroke-width="1"/>
<path d="M-44.8,-28.1 L-48.3,-28.6 L-51.7,-28 L-54.9,-26.2 L-57.6,-23.4 L-59.7,-19.9 L-61.1,-15.7 L-61.6,-11.2 L-61.2,-6.7 L-60,-2.5 L-58,1.2 L-55.3,4.1 L-52.1,6 L-48.7,6.8 L-45.3,6.4" fill="none" stroke="#1c1c1c" stroke-width="1"/>
<path d="M-43.8,-21.8 L-46.4,-21.2 L-48.7,-19.3 L-50.6,-16.5 L-51.8,-12.9 L-52.2,-8.9 L-51.8,-4.9 L-50.6,-1.3 L-48.7,1.5 L-46.4,3.4 L-43.8,4 L-10.6,9.2 L-10.6,-12.5 Z" fill="#ebebeb" stroke="#1c1c1c" stroke-width="1"/>
<path d="M-9.6,-13.4 L-11.5,-13 L-13.3,-11.8 L-14.8,-9.9 L-16,-7.4 L-16.7,-4.5 L-17,-1.4 L-16.7,1.7 L-16,4.6 L-14.8,7.1 L-13.3,9 L-11.5,10.2 L-9.6,10.6 L-0.2,10.3 L0,10.3 L1.9,9.9 L3.6,8.9 L5.1,7.3 L6.3,5.2 L7,2.7 L7.2,0 L7,-2.7 L6.3,-5.2 L5.1,-7.3 L3.6,-8.9 L1.9,-9.9 L0,-10.3Z" fill="#ebebeb" stroke="#1c1c1c" stroke-width="1"/>
<path d="M-5.7,-12.3 L-7.5,-11.8 L-9.2,-10.6 L-10.7,-8.8 L-11.8,-6.4 L-12.5,-3.7 L-12.7,-0.8 L-12.5,2.1 L-11.8,4.8 L-10.7,7.2 L-9.2,9 L-7.5,10.2 L-5.7,10.7" fill="none" stroke="#1c1c1c" stroke-width="0.8"/>
<path d="M-4.7,-11.9 L-6.8,-11.1 L-8.7,-9.5 L-10.1,-7 L-11.1,-3.9 L-11.4,-0.6 L-11.1,2.7 L-10.1,5.8 L-8.7,8.3 L-6.8,9.9 L-4.7,10.7" fill="none" stroke="#444" stroke-width="0.5"/>
<path d="M-3.6,-11.5 L-5.7,-10.8 L-7.6,-9.1 L-9,-6.7 L-10,-3.7 L-10.3,-0.4 L-10,2.8 L-9,5.8 L-7.6,8.2 L-5.7,9.9 L-3.6,10.6" fill="none" stroke="#444" stroke-width="0.5"/>
<path d="M-2.5,-11.1 L-4.6,-10.4 L-6.5,-8.8 L-7.9,-6.4 L-8.9,-3.5 L-9.2,-0.3 L-8.9,2.9 L-7.9,5.8 L-6.5,8.2 L-4.6,9.8 L-2.5,10.5" fill="none" stroke="#444" stroke-width="0.5"/>
<ellipse cx="0" cy="0" rx="7.25" ry="10.3" fill="#ebebeb" stroke="#1c1c1c" stroke-width="1"/>
<ellipse cx="0.6" cy="0" rx="6.1" ry="9.2" fill="#ebebeb" stroke="#1c1c1c" stroke-width="0.8"/>
</g>
<g transform="translate(416.9,668.2)">
<path d="M-183.4,-7.1 L-187.1,-8.4 L-190.4,-10.9 L-193.3,-14.4 L-195.5,-18.7 L-197,-23.8 L-197.8,-29.5 L-197.8,-35.4 L-197,-41.5 L-195.5,-47.3 L-193.2,-52.8 L-190.4,-57.8 L-187,-61.9 L-183.3,-65.1 L-179.4,-67.3 L-175.4,-68.3 L-171.4,-68.1 L-65.1,-46.2 C-51.6,-43.4 -40.6,-33.4 -36.6,-21.9 L-43.6,7.1 C-48.6,14.6 -55.6,18.2 -65.1,18.4Z" fill="#ebebeb" stroke="#1c1c1c" stroke-width="1"/>
<path d="M-65.1,-46.2 L-69.9,-45.6 L-74.5,-43.7 L-78.7,-40.8 L-82.4,-36.7 L-85.5,-31.8 L-87.7,-26.3 L-89.1,-20.2 L-89.6,-13.9 L-89.1,-7.6 L-87.7,-1.5 L-85.5,4 L-82.4,8.9 L-78.7,13 L-74.5,15.9 L-69.9,17.8 L-65.1,18.4" fill="none" stroke="#1c1c1c" stroke-width="1"/>
<path d="M-44.8,-32.6 L-49.3,-33.4 L-53.8,-32.8 L-58.1,-30.7 L-61.8,-27.4 L-64.6,-23 L-66.4,-17.8 L-67.1,-12.3 L-66.6,-6.7 L-64.9,-1.5 L-62.2,3 L-58.6,6.5 L-54.4,8.8 L-49.9,9.6 L-45.4,9" fill="none" stroke="#1c1c1c" stroke-width="1"/>
<path d="M-44.8,-28.1 L-48.3,-28.6 L-51.7,-28 L-54.9,-26.2 L-57.6,-23.4 L-59.7,-19.9 L-61.1,-15.7 L-61.6,-11.2 L-61.2,-6.7 L-60,-2.5 L-58,1.2 L-55.3,4.1 L-52.1,6 L-48.7,6.8 L-45.3,6.4" fill="none" stroke="#1c1c1c" stroke-width="1"/>
<path d="M-43.8,-21.8 L-46.4,-21.2 L-48.7,-19.3 L-50.6,-16.5 L-51.8,-12.9 L-52.2,-8.9 L-51.8,-4.9 L-50.6,-1.3 L-48.7,1.5 L-46.4,3.4 L-43.8,4 L-10.6,9.2 L-10.6,-12.5 Z" fill="#ebebeb" stroke="#1c1c1c" stroke-width="1"/>
<path d="M-9.6,-13.4 L-11.5,-13 L-13.3,-11.8 L-14.8,-9.9 L-16,-7.4 L-16.7,-4.5 L-17,-1.4 L-16.7,1.7 L-16,4.6 L-14.8,7.1 L-13.3,9 L-11.5,10.2 L-9.6,10.6 L-0.2,10.3 L0,10.3 L1.9,9.9 L3.6,8.9 L5.1,7.3 L6.3,5.2 L7,2.7 L7.2,0 L7,-2.7 L6.3,-5.2 L5.1,-7.3 L3.6,-8.9 L1.9,-9.9 L0,-10.3Z" fill="#ebebeb" stroke="#1c1c1c" stroke-width="1"/>
<path d="M-5.7,-12.3 L-7.5,-11.8 L-9.2,-10.6 L-10.7,-8.8 L-11.8,-6.4 L-12.5,-3.7 L-12.7,-0.8 L-12.5,2.1 L-11.8,4.8 L-10.7,7.2 L-9.2,9 L-7.5,10.2 L-5.7,10.7" fill="none" stroke="#1c1c1c" stroke-width="0.8"/>
<path d="M-4.7,-11.9 L-6.8,-11.1 L-8.7,-9.5 L-10.1,-7 L-11.1,-3.9 L-11.4,-0.6 L-11.1,2.7 L-10.1,5.8 L-8.7,8.3 L-6.8,9.9 L-4.7,10.7" fill="none" stroke="#444" stroke-width="0.5"/>
<path d="M-3.6,-11.5 L-5.7,-10.8 L-7.6,-9.1 L-9,-6.7 L-10,-3.7 L-10.3,-0.4 L-10,2.8 L-9,5.8 L-7.6,8.2 L-5.7,9.9 L-3.6,10.6" fill="none" stroke="#444" stroke-width="0.5"/>
<path d="M-2.5,-11.1 L-4.6,-10.4 L-6.5,-8.8 L-7.9,-6.4 L-8.9,-3.5 L-9.2,-0.3 L-8.9,2.9 L-7.9,5.8 L-6.5,8.2 L-4.6,9.8 L-2.5,10.5" fill="none" stroke="#444" stroke-width="0.5"/>
<ellipse cx="0" cy="0" rx="7.25" ry="10.3" fill="#ebebeb" stroke="#1c1c1c" stroke-width="1"/>
<ellipse cx="0.6" cy="0" rx="6.1" ry="9.2" fill="#ebebeb" stroke="#1c1c1c" stroke-width="0.8"/>
</g>
<g transform="translate(390.8,622.1)">
<path d="M-183.4,-7.1 L-187.1,-8.4 L-190.4,-10.9 L-193.3,-14.4 L-195.5,-18.7 L-197,-23.8 L-197.8,-29.5 L-197.8,-35.4 L-197,-41.5 L-195.5,-47.3 L-193.2,-52.8 L-190.4,-57.8 L-187,-61.9 L-183.3,-65.1 L-179.4,-67.3 L-175.4,-68.3 L-171.4,-68.1 L-65.1,-46.2 C-51.6,-43.4 -40.6,-33.4 -36.6,-21.9 L-43.6,7.1 C-48.6,14.6 -55.6,18.2 -65.1,18.4Z" fill="#ebebeb" stroke="#1c1c1c" stroke-width="1"/>
<path d="M-65.1,-46.2 L-69.9,-45.6 L-74.5,-43.7 L-78.7,-40.8 L-82.4,-36.7 L-85.5,-31.8 L-87.7,-26.3 L-89.1,-20.2 L-89.6,-13.9 L-89.1,-7.6 L-87.7,-1.5 L-85.5,4 L-82.4,8.9 L-78.7,13 L-74.5,15.9 L-69.9,17.8 L-65.1,18.4" fill="none" stroke="#1c1c1c" stroke-width="1"/>
<path d="M-44.8,-32.6 L-49.3,-33.4 L-53.8,-32.8 L-58.1,-30.7 L-61.8,-27.4 L-64.6,-23 L-66.4,-17.8 L-67.1,-12.3 L-66.6,-6.7 L-64.9,-1.5 L-62.2,3 L-58.6,6.5 L-54.4,8.8 L-49.9,9.6 L-45.4,9" fill="none" stroke="#1c1c1c" stroke-width="1"/>
<path d="M-44.8,-28.1 L-48.3,-28.6 L-51.7,-28 L-54.9,-26.2 L-57.6,-23.4 L-59.7,-19.9 L-61.1,-15.7 L-61.6,-11.2 L-61.2,-6.7 L-60,-2.5 L-58,1.2 L-55.3,4.1 L-52.1,6 L-48.7,6.8 L-45.3,6.4" fill="none" stroke="#1c1c1c" stroke-width="1"/>
<path d="M-43.8,-21.8 L-46.4,-21.2 L-48.7,-19.3 L-50.6,-16.5 L-51.8,-12.9 L-52.2,-8.9 L-51.8,-4.9 L-50.6,-1.3 L-48.7,1.5 L-46.4,3.4 L-43.8,4 L-10.6,9.2 L-10.6,-12.5 Z" fill="#ebebeb" stroke="#1c1c1c" stroke-width="1"/>
<path d="M-9.6,-13.4 L-11.5,-13 L-13.3,-11.8 L-14.8,-9.9 L-16,-7.4 L-16.7,-4.5 L-17,-1.4 L-16.7,1.7 L-16,4.6 L-14.8,7.1 L-13.3,9 L-11.5,10.2 L-9.6,10.6 L-0.2,10.3 L0,10.3 L1.9,9.9 L3.6,8.9 L5.1,7.3 L6.3,5.2 L7,2.7 L7.2,0 L7,-2.7 L6.3,-5.2 L5.1,-7.3 L3.6,-8.9 L1.9,-9.9 L0,-10.3Z" fill="#ebebeb" stroke="#1c1c1c" stroke-width="1"/>
<path d="M-5.7,-12.3 L-7.5,-11.8 L-9.2,-10.6 L-10.7,-8.8 L-11.8,-6.4 L-12.5,-3.7 L-12.7,-0.8 L-12.5,2.1 L-11.8,4.8 L-10.7,7.2 L-9.2,9 L-7.5,10.2 L-5.7,10.7" fill="none" stroke="#1c1c1c" stroke-width="0.8"/>
<path d="M-4.7,-11.9 L-6.8,-11.1 L-8.7,-9.5 L-10.1,-7 L-11.1,-3.9 L-11.4,-0.6 L-11.1,2.7 L-10.1,5.8 L-8.7,8.3 L-6.8,9.9 L-4.7,10.7" fill="none" stroke="#444" stroke-width="0.5"/>
<path d="M-3.6,-11.5 L-5.7,-10.8 L-7.6,-9.1 L-9,-6.7 L-10,-3.7 L-10.3,-0.4 L-10,2.8 L-9,5.8 L-7.6,8.2 L-5.7,9.9 L-3.6,10.6" fill="none" stroke="#444" stroke-width="0.5"/>
<path d="M-2.5,-11.1 L-4.6,-10.4 L-6.5,-8.8 L-7.9,-6.4 L-8.9,-3.5 L-9.2,-0.3 L-8.9,2.9 L-7.9,5.8 L-6.5,8.2 L-4.6,9.8 L-2.5,10.5" fill="none" stroke="#444" stroke-width="0.5"/>
<ellipse cx="0" cy="0" rx="7.25" ry="10.3" fill="#ebebeb" stroke="#1c1c1c" stroke-width="1"/>
<ellipse cx="0.6" cy="0" rx="6.1" ry="9.2" fill="#ebebeb" stroke="#1c1c1c" stroke-width="0.8"/>
</g>
<g transform="translate(363.8,679.6)">
<path d="M-183.4,-7.1 L-187.1,-8.4 L-190.4,-10.9 L-193.3,-14.4 L-195.5,-18.7 L-197,-23.8 L-197.8,-29.5 L-197.8,-35.4 L-197,-41.5 L-195.5,-47.3 L-193.2,-52.8 L-190.4,-57.8 L-187,-61.9 L-183.3,-65.1 L-179.4,-67.3 L-175.4,-68.3 L-171.4,-68.1 L-65.1,-46.2 C-51.6,-43.4 -40.6,-33.4 -36.6,-21.9 L-43.6,7.1 C-48.6,14.6 -55.6,18.2 -65.1,18.4Z" fill="#ebebeb" stroke="#1c1c1c" stroke-width="1"/>
<path d="M-65.1,-46.2 L-69.9,-45.6 L-74.5,-43.7 L-78.7,-40.8 L-82.4,-36.7 L-85.5,-31.8 L-87.7,-26.3 L-89.1,-20.2 L-89.6,-13.9 L-89.1,-7.6 L-87.7,-1.5 L-85.5,4 L-82.4,8.9 L-78.7,13 L-74.5,15.9 L-69.9,17.8 L-65.1,18.4" fill="none" stroke="#1c1c1c" stroke-width="1"/>
<path d="M-44.8,-32.6 L-49.3,-33.4 L-53.8,-32.8 L-58.1,-30.7 L-61.8,-27.4 L-64.6,-23 L-66.4,-17.8 L-67.1,-12.3 L-66.6,-6.7 L-64.9,-1.5 L-62.2,3 L-58.6,6.5 L-54.4,8.8 L-49.9,9.6 L-45.4,9" fill="none" stroke="#1c1c1c" stroke-width="1"/>
<path d="M-44.8,-28.1 L-48.3,-28.6 L-51.7,-28 L-54.9,-26.2 L-57.6,-23.4 L-59.7,-19.9 L-61.1,-15.7 L-61.6,-11.2 L-61.2,-6.7 L-60,-2.5 L-58,1.2 L-55.3,4.1 L-52.1,6 L-48.7,6.8 L-45.3,6.4" fill="none" stroke="#1c1c1c" stroke-width="1"/>
<path d="M-43.8,-21.8 L-46.4,-21.2 L-48.7,-19.3 L-50.6,-16.5 L-51.8,-12.9 L-52.2,-8.9 L-51.8,-4.9 L-50.6,-1.3 L-48.7,1.5 L-46.4,3.4 L-43.8,4 L-10.6,9.2 L-10.6,-12.5 Z" fill="#ebebeb" stroke="#1c1c1c" stroke-width="1"/>
<path d="M-9.6,-13.4 L-11.5,-13 L-13.3,-11.8 L-14.8,-9.9 L-16,-7.4 L-16.7,-4.5 L-17,-1.4 L-16.7,1.7 L-16,4.6 L-14.8,7.1 L-13.3,9 L-11.5,10.2 L-9.6,10.6 L-0.2,10.3 L0,10.3 L1.9,9.9 L3.6,8.9 L5.1,7.3 L6.3,5.2 L7,2.7 L7.2,0 L7,-2.7 L6.3,-5.2 L5.1,-7.3 L3.6,-8.9 L1.9,-9.9 L0,-10.3Z" fill="#ebebeb" stroke="#1c1c1c" stroke-width="1"/>
<path d="M-5.7,-12.3 L-7.5,-11.8 L-9.2,-10.6 L-10.7,-8.8 L-11.8,-6.4 L-12.5,-3.7 L-12.7,-0.8 L-12.5,2.1 L-11.8,4.8 L-10.7,7.2 L-9.2,9 L-7.5,10.2 L-5.7,10.7" fill="none" stroke="#1c1c1c" stroke-width="0.8"/>
<path d="M-4.7,-11.9 L-6.8,-11.1 L-8.7,-9.5 L-10.1,-7 L-11.1,-3.9 L-11.4,-0.6 L-11.1,2.7 L-10.1,5.8 L-8.7,8.3 L-6.8,9.9 L-4.7,10.7" fill="none" stroke="#444" stroke-width="0.5"/>
<path d="M-3.6,-11.5 L-5.7,-10.8 L-7.6,-9.1 L-9,-6.7 L-10,-3.7 L-10.3,-0.4 L-10,2.8 L-9,5.8 L-7.6,8.2 L-5.7,9.9 L-3.6,10.6" fill="none" stroke="#444" stroke-width="0.5"/>
<path d="M-2.5,-11.1 L-4.6,-10.4 L-6.5,-8.8 L-7.9,-6.4 L-8.9,-3.5 L-9.2,-0.3 L-8.9,2.9 L-7.9,5.8 L-6.5,8.2 L-4.6,9.8 L-2.5,10.5" fill="none" stroke="#444" stroke-width="0.5"/>
<ellipse cx="0" cy="0" rx="7.25" ry="10.3" fill="#ebebeb" stroke="#1c1c1c" stroke-width="1"/>
<ellipse cx="0.6" cy="0" rx="6.1" ry="9.2" fill="#ebebeb" stroke="#1c1c1c" stroke-width="0.8"/>
</g>
<g transform="translate(337.7,633.6)">
<path d="M-183.4,-7.1 L-187.1,-8.4 L-190.4,-10.9 L-193.3,-14.4 L-195.5,-18.7 L-197,-23.8 L-197.8,-29.5 L-197.8,-35.4 L-197,-41.5 L-195.5,-47.3 L-193.2,-52.8 L-190.4,-57.8 L-187,-61.9 L-183.3,-65.1 L-179.4,-67.3 L-175.4,-68.3 L-171.4,-68.1 L-65.1,-46.2 C-51.6,-43.4 -40.6,-33.4 -36.6,-21.9 L-43.6,7.1 C-48.6,14.6 -55.6,18.2 -65.1,18.4Z" fill="#ebebeb" stroke="#1c1c1c" stroke-width="1"/>
<path d="M-65.1,-46.2 L-69.9,-45.6 L-74.5,-43.7 L-78.7,-40.8 L-82.4,-36.7 L-85.5,-31.8 L-87.7,-26.3 L-89.1,-20.2 L-89.6,-13.9 L-89.1,-7.6 L-87.7,-1.5 L-85.5,4 L-82.4,8.9 L-78.7,13 L-74.5,15.9 L-69.9,17.8 L-65.1,18.4" fill="none" stroke="#1c1c1c" stroke-width="1"/>
<path d="M-44.8,-32.6 L-49.3,-33.4 L-53.8,-32.8 L-58.1,-30.7 L-61.8,-27.4 L-64.6,-23 L-66.4,-17.8 L-67.1,-12.3 L-66.6,-6.7 L-64.9,-1.5 L-62.2,3 L-58.6,6.5 L-54.4,8.8 L-49.9,9.6 L-45.4,9" fill="none" stroke="#1c1c1c" stroke-width="1"/>
<path d="M-44.8,-28.1 L-48.3,-28.6 L-51.7,-28 L-54.9,-26.2 L-57.6,-23.4 L-59.7,-19.9 L-61.1,-15.7 L-61.6,-11.2 L-61.2,-6.7 L-60,-2.5 L-58,1.2 L-55.3,4.1 L-52.1,6 L-48.7,6.8 L-45.3,6.4" fill="none" stroke="#1c1c1c" stroke-width="1"/>
<path d="M-43.8,-21.8 L-46.4,-21.2 L-48.7,-19.3 L-50.6,-16.5 L-51.8,-12.9 L-52.2,-8.9 L-51.8,-4.9 L-50.6,-1.3 L-48.7,1.5 L-46.4,3.4 L-43.8,4 L-10.6,9.2 L-10.6,-12.5 Z" fill="#ebebeb" stroke="#1c1c1c" stroke-width="1"/>
<path d="M-9.6,-13.4 L-11.5,-13 L-13.3,-11.8 L-14.8,-9.9 L-16,-7.4 L-16.7,-4.5 L-17,-1.4 L-16.7,1.7 L-16,4.6 L-14.8,7.1 L-13.3,9 L-11.5,10.2 L-9.6,10.6 L-0.2,10.3 L0,10.3 L1.9,9.9 L3.6,8.9 L5.1,7.3 L6.3,5.2 L7,2.7 L7.2,0 L7,-2.7 L6.3,-5.2 L5.1,-7.3 L3.6,-8.9 L1.9,-9.9 L0,-10.3Z" fill="#ebebeb" stroke="#1c1c1c" stroke-width="1"/>
<path d="M-5.7,-12.3 L-7.5,-11.8 L-9.2,-10.6 L-10.7,-8.8 L-11.8,-6.4 L-12.5,-3.7 L-12.7,-0.8 L-12.5,2.1 L-11.8,4.8 L-10.7,7.2 L-9.2,9 L-7.5,10.2 L-5.7,10.7" fill="none" stroke="#1c1c1c" stroke-width="0.8"/>
<path d="M-4.7,-11.9 L-6.8,-11.1 L-8.7,-9.5 L-10.1,-7 L-11.1,-3.9 L-11.4,-0.6 L-11.1,2.7 L-10.1,5.8 L-8.7,8.3 L-6.8,9.9 L-4.7,10.7" fill="none" stroke="#444" stroke-width="0.5"/>
<path d="M-3.6,-11.5 L-5.7,-10.8 L-7.6,-9.1 L-9,-6.7 L-10,-3.7 L-10.3,-0.4 L-10,2.8 L-9,5.8 L-7.6,8.2 L-5.7,9.9 L-3.6,10.6" fill="none" stroke="#444" stroke-width="0.5"/>
<path d="M-2.5,-11.1 L-4.6,-10.4 L-6.5,-8.8 L-7.9,-6.4 L-8.9,-3.5 L-9.2,-0.3 L-8.9,2.9 L-7.9,5.8 L-6.5,8.2 L-4.6,9.8 L-2.5,10.5" fill="none" stroke="#444" stroke-width="0.5"/>
<ellipse cx="0" cy="0" rx="7.25" ry="10.3" fill="#ebebeb" stroke="#1c1c1c" stroke-width="1"/>
<ellipse cx="0.6" cy="0" rx="6.1" ry="9.2" fill="#ebebeb" stroke="#1c1c1c" stroke-width="0.8"/>
</g>
<g transform="translate(310.7,691.1)">
<path d="M-183.4,-7.1 L-187.1,-8.4 L-190.4,-10.9 L-193.3,-14.4 L-195.5,-18.7 L-197,-23.8 L-197.8,-29.5 L-197.8,-35.4 L-197,-41.5 L-195.5,-47.3 L-193.2,-52.8 L-190.4,-57.8 L-187,-61.9 L-183.3,-65.1 L-179.4,-67.3 L-175.4,-68.3 L-171.4,-68.1 L-65.1,-46.2 C-51.6,-43.4 -40.6,-33.4 -36.6,-21.9 L-43.6,7.1 C-48.6,14.6 -55.6,18.2 -65.1,18.4Z" fill="#ebebeb" stroke="#1c1c1c" stroke-width="1"/>
<path d="M-65.1,-46.2 L-69.9,-45.6 L-74.5,-43.7 L-78.7,-40.8 L-82.4,-36.7 L-85.5,-31.8 L-87.7,-26.3 L-89.1,-20.2 L-89.6,-13.9 L-89.1,-7.6 L-87.7,-1.5 L-85.5,4 L-82.4,8.9 L-78.7,13 L-74.5,15.9 L-69.9,17.8 L-65.1,18.4" fill="none" stroke="#1c1c1c" stroke-width="1"/>
<path d="M-44.8,-32.6 L-49.3,-33.4 L-53.8,-32.8 L-58.1,-30.7 L-61.8,-27.4 L-64.6,-23 L-66.4,-17.8 L-67.1,-12.3 L-66.6,-6.7 L-64.9,-1.5 L-62.2,3 L-58.6,6.5 L-54.4,8.8 L-49.9,9.6 L-45.4,9" fill="none" stroke="#1c1c1c" stroke-width="1"/>
<path d="M-44.8,-28.1 L-48.3,-28.6 L-51.7,-28 L-54.9,-26.2 L-57.6,-23.4 L-59.7,-19.9 L-61.1,-15.7 L-61.6,-11.2 L-61.2,-6.7 L-60,-2.5 L-58,1.2 L-55.3,4.1 L-52.1,6 L-48.7,6.8 L-45.3,6.4" fill="none" stroke="#1c1c1c" stroke-width="1"/>
<path d="M-43.8,-21.8 L-46.4,-21.2 L-48.7,-19.3 L-50.6,-16.5 L-51.8,-12.9 L-52.2,-8.9 L-51.8,-4.9 L-50.6,-1.3 L-48.7,1.5 L-46.4,3.4 L-43.8,4 L-10.6,9.2 L-10.6,-12.5 Z" fill="#ebebeb" stroke="#1c1c1c" stroke-width="1"/>
<path d="M-9.6,-13.4 L-11.5,-13 L-13.3,-11.8 L-14.8,-9.9 L-16,-7.4 L-16.7,-4.5 L-17,-1.4 L-16.7,1.7 L-16,4.6 L-14.8,7.1 L-13.3,9 L-11.5,10.2 L-9.6,10.6 L-0.2,10.3 L0,10.3 L1.9,9.9 L3.6,8.9 L5.1,7.3 L6.3,5.2 L7,2.7 L7.2,0 L7,-2.7 L6.3,-5.2 L5.1,-7.3 L3.6,-8.9 L1.9,-9.9 L0,-10.3Z" fill="#ebebeb" stroke="#1c1c1c" stroke-width="1"/>
<path d="M-5.7,-12.3 L-7.5,-11.8 L-9.2,-10.6 L-10.7,-8.8 L-11.8,-6.4 L-12.5,-3.7 L-12.7,-0.8 L-12.5,2.1 L-11.8,4.8 L-10.7,7.2 L-9.2,9 L-7.5,10.2 L-5.7,10.7" fill="none" stroke="#1c1c1c" stroke-width="0.8"/>
<path d="M-4.7,-11.9 L-6.8,-11.1 L-8.7,-9.5 L-10.1,-7 L-11.1,-3.9 L-11.4,-0.6 L-11.1,2.7 L-10.1,5.8 L-8.7,8.3 L-6.8,9.9 L-4.7,10.7" fill="none" stroke="#444" stroke-width="0.5"/>
<path d="M-3.6,-11.5 L-5.7,-10.8 L-7.6,-9.1 L-9,-6.7 L-10,-3.7 L-10.3,-0.4 L-10,2.8 L-9,5.8 L-7.6,8.2 L-5.7,9.9 L-3.6,10.6" fill="none" stroke="#444" stroke-width="0.5"/>
<path d="M-2.5,-11.1 L-4.6,-10.4 L-6.5,-8.8 L-7.9,-6.4 L-8.9,-3.5 L-9.2,-0.3 L-8.9,2.9 L-7.9,5.8 L-6.5,8.2 L-4.6,9.8 L-2.5,10.5" fill="none" stroke="#444" stroke-width="0.5"/>
<ellipse cx="0" cy="0" rx="7.25" ry="10.3" fill="#ebebeb" stroke="#1c1c1c" stroke-width="1"/>
<ellipse cx="0.6" cy="0" rx="6.1" ry="9.2" fill="#ebebeb" stroke="#1c1c1c" stroke-width="0.8"/>
</g>
<path d="M89,675.8 L285.5,720 L285.5,730.4 L78,688.1 L78,674.4Z" fill="#fff" stroke="none" stroke-width="0"/>
<path d="M89,677.1 L285.5,721.3" fill="none" stroke="#1c1c1c" stroke-width="0.8"/>
<path d="M78.5,680.5 L285.5,724.4" fill="none" stroke="#1c1c1c" stroke-width="0.8"/>
<path d="M78.5,684 L285.5,727.5" fill="none" stroke="#1c1c1c" stroke-width="0.8"/>
<path d="M78.5,688.4 L285.5,730.4" fill="none" stroke="#1c1c1c" stroke-width="1.5"/>
<path d="M77,688.6 L77,673.9" fill="none" stroke="#1c1c1c" stroke-width="1"/>
<path d="M77,688.6 L78.5,688.4" fill="none" stroke="#1c1c1c" stroke-width="1"/>
<path d="M80,689 q1,3 5,3.4 l4,0.6 q2.5,-0.3 2.5,-2.2" fill="#fff" stroke="#1c1c1c" stroke-width="0.7"/>
<path d="M285.5,718.1 L546.3,661.3 L550.6,662.1 L553.5,666.3 L553.5,666.3 L289.5,722.8Z" fill="#fff" stroke="#1c1c1c" stroke-width="1"/>
<path d="M289.5,722.8 L553.5,666.3 L553.5,684 L551.7,685.3 L290,740.8Z" fill="#fff" stroke="#1c1c1c" stroke-width="1"/>
<path d="M285.5,718.1 L285.5,725.1 L288.5,726.1 L288.5,733.6 L285.5,734.6 L285.5,739.9 L290,740.8 L289.5,722.8Z" fill="#fff" stroke="#1c1c1c" stroke-width="1"/>
<path d="M105,538.2 L285.5,580.8 L285.5,575.8 L546.3,519 L365.8,476.4Z" fill="#fff" stroke="none" stroke-width="0"/>
<path d="M137.1,537.7 L291.6,574.5" fill="none" stroke="#222" stroke-width="0.8"/>
<path d="M143.2,536.3 L297.7,573.1" fill="none" stroke="#666" stroke-width="0.6"/>
<path d="M149.3,535 L303.8,571.8" fill="none" stroke="#222" stroke-width="0.8"/>
<path d="M155.4,533.7 L309.9,570.5" fill="none" stroke="#666" stroke-width="0.6"/>
<path d="M161.5,532.4 L316,569.2" fill="none" stroke="#222" stroke-width="0.8"/>
<path d="M167.6,531 L322.1,567.8" fill="none" stroke="#666" stroke-width="0.6"/>
<path d="M173.6,529.7 L328.1,566.5" fill="none" stroke="#222" stroke-width="0.8"/>
<path d="M179.7,528.4 L334.2,565.2" fill="none" stroke="#666" stroke-width="0.6"/>
<path d="M185.8,527.1 L340.3,563.9" fill="none" stroke="#222" stroke-width="0.8"/>
<path d="M191.9,525.7 L346.4,562.5" fill="none" stroke="#666" stroke-width="0.6"/>
<path d="M198,524.4 L352.5,561.2" fill="none" stroke="#222" stroke-width="0.8"/>
<path d="M204.1,523.1 L358.6,559.9" fill="none" stroke="#666" stroke-width="0.6"/>
<path d="M210.2,521.8 L364.7,558.6" fill="none" stroke="#222" stroke-width="0.8"/>
<path d="M216.3,520.4 L370.8,557.2" fill="none" stroke="#666" stroke-width="0.6"/>
<path d="M222.4,519.1 L376.9,555.9" fill="none" stroke="#222" stroke-width="0.8"/>
<path d="M228.5,517.8 L383,554.6" fill="none" stroke="#666" stroke-width="0.6"/>
<path d="M234.6,516.4 L389.1,553.2" fill="none" stroke="#222" stroke-width="0.8"/>
<path d="M240.7,515.1 L395.2,551.9" fill="none" stroke="#666" stroke-width="0.6"/>
<path d="M246.8,513.8 L401.3,550.6" fill="none" stroke="#222" stroke-width="0.8"/>
<path d="M252.8,512.5 L407.3,549.3" fill="none" stroke="#666" stroke-width="0.6"/>
<path d="M258.9,511.1 L413.4,547.9" fill="none" stroke="#222" stroke-width="0.8"/>
<path d="M265,509.8 L419.5,546.6" fill="none" stroke="#666" stroke-width="0.6"/>
<path d="M271.1,508.5 L425.6,545.3" fill="none" stroke="#222" stroke-width="0.8"/>
<path d="M277.2,507.2 L431.7,544" fill="none" stroke="#666" stroke-width="0.6"/>
<path d="M283.3,505.8 L437.8,542.6" fill="none" stroke="#222" stroke-width="0.8"/>
<path d="M289.4,504.5 L443.9,541.3" fill="none" stroke="#666" stroke-width="0.6"/>
<path d="M295.5,503.2 L450,540" fill="none" stroke="#222" stroke-width="0.8"/>
<path d="M301.6,501.8 L456.1,538.6" fill="none" stroke="#666" stroke-width="0.6"/>
<path d="M307.7,500.5 L462.2,537.3" fill="none" stroke="#222" stroke-width="0.8"/>
<path d="M313.8,499.2 L468.3,536" fill="none" stroke="#666" stroke-width="0.6"/>
<path d="M319.9,497.9 L474.4,534.7" fill="none" stroke="#222" stroke-width="0.8"/>
<path d="M326,496.5 L480.5,533.3" fill="none" stroke="#666" stroke-width="0.6"/>
<path d="M332.1,495.2 L486.6,532" fill="none" stroke="#222" stroke-width="0.8"/>
<path d="M338.1,493.9 L492.6,530.7" fill="none" stroke="#666" stroke-width="0.6"/>
<path d="M344.2,492.6 L498.7,529.4" fill="none" stroke="#222" stroke-width="0.8"/>
<path d="M350.3,491.2 L504.8,528" fill="none" stroke="#666" stroke-width="0.6"/>
<path d="M356.4,489.9 L510.9,526.7" fill="none" stroke="#222" stroke-width="0.8"/>
<path d="M362.5,488.6 L517,525.4" fill="none" stroke="#666" stroke-width="0.6"/>
<path d="M105,537.9 Q105,534.8 108,534.2 L145,526.6" fill="none" stroke="#1c1c1c" stroke-width="1"/>
<g transform="translate(523.4,503.8)">
<path d="M-183.4,-7.1 L-187.1,-8.4 L-190.4,-10.9 L-193.3,-14.4 L-195.5,-18.7 L-197,-23.8 L-197.8,-29.5 L-197.8,-35.4 L-197,-41.5 L-195.5,-47.3 L-193.2,-52.8 L-190.4,-57.8 L-187,-61.9 L-183.3,-65.1 L-179.4,-67.3 L-175.4,-68.3 L-171.4,-68.1 L-65.1,-46.2 C-51.6,-43.4 -40.6,-33.4 -36.6,-21.9 L-43.6,7.1 C-48.6,14.6 -55.6,18.2 -65.1,18.4Z" fill="#ebebeb" stroke="#1c1c1c" stroke-width="1"/>
<path d="M-65.1,-46.2 L-69.9,-45.6 L-74.5,-43.7 L-78.7,-40.8 L-82.4,-36.7 L-85.5,-31.8 L-87.7,-26.3 L-89.1,-20.2 L-89.6,-13.9 L-89.1,-7.6 L-87.7,-1.5 L-85.5,4 L-82.4,8.9 L-78.7,13 L-74.5,15.9 L-69.9,17.8 L-65.1,18.4" fill="none" stroke="#1c1c1c" stroke-width="1"/>
<path d="M-44.8,-32.6 L-49.3,-33.4 L-53.8,-32.8 L-58.1,-30.7 L-61.8,-27.4 L-64.6,-23 L-66.4,-17.8 L-67.1,-12.3 L-66.6,-6.7 L-64.9,-1.5 L-62.2,3 L-58.6,6.5 L-54.4,8.8 L-49.9,9.6 L-45.4,9" fill="none" stroke="#1c1c1c" stroke-width="1"/>
<path d="M-44.8,-28.1 L-48.3,-28.6 L-51.7,-28 L-54.9,-26.2 L-57.6,-23.4 L-59.7,-19.9 L-61.1,-15.7 L-61.6,-11.2 L-61.2,-6.7 L-60,-2.5 L-58,1.2 L-55.3,4.1 L-52.1,6 L-48.7,6.8 L-45.3,6.4" fill="none" stroke="#1c1c1c" stroke-width="1"/>
<path d="M-43.8,-21.8 L-46.4,-21.2 L-48.7,-19.3 L-50.6,-16.5 L-51.8,-12.9 L-52.2,-8.9 L-51.8,-4.9 L-50.6,-1.3 L-48.7,1.5 L-46.4,3.4 L-43.8,4 L-10.6,9.2 L-10.6,-12.5 Z" fill="#ebebeb" stroke="#1c1c1c" stroke-width="1"/>
<path d="M-9.6,-13.4 L-11.5,-13 L-13.3,-11.8 L-14.8,-9.9 L-16,-7.4 L-16.7,-4.5 L-17,-1.4 L-16.7,1.7 L-16,4.6 L-14.8,7.1 L-13.3,9 L-11.5,10.2 L-9.6,10.6 L-0.2,10.3 L0,10.3 L1.9,9.9 L3.6,8.9 L5.1,7.3 L6.3,5.2 L7,2.7 L7.2,0 L7,-2.7 L6.3,-5.2 L5.1,-7.3 L3.6,-8.9 L1.9,-9.9 L0,-10.3Z" fill="#ebebeb" stroke="#1c1c1c" stroke-width="1"/>
<path d="M-5.7,-12.3 L-7.5,-11.8 L-9.2,-10.6 L-10.7,-8.8 L-11.8,-6.4 L-12.5,-3.7 L-12.7,-0.8 L-12.5,2.1 L-11.8,4.8 L-10.7,7.2 L-9.2,9 L-7.5,10.2 L-5.7,10.7" fill="none" stroke="#1c1c1c" stroke-width="0.8"/>
<path d="M-4.7,-11.9 L-6.8,-11.1 L-8.7,-9.5 L-10.1,-7 L-11.1,-3.9 L-11.4,-0.6 L-11.1,2.7 L-10.1,5.8 L-8.7,8.3 L-6.8,9.9 L-4.7,10.7" fill="none" stroke="#444" stroke-width="0.5"/>
<path d="M-3.6,-11.5 L-5.7,-10.8 L-7.6,-9.1 L-9,-6.7 L-10,-3.7 L-10.3,-0.4 L-10,2.8 L-9,5.8 L-7.6,8.2 L-5.7,9.9 L-3.6,10.6" fill="none" stroke="#444" stroke-width="0.5"/>
<path d="M-2.5,-11.1 L-4.6,-10.4 L-6.5,-8.8 L-7.9,-6.4 L-8.9,-3.5 L-9.2,-0.3 L-8.9,2.9 L-7.9,5.8 L-6.5,8.2 L-4.6,9.8 L-2.5,10.5" fill="none" stroke="#444" stroke-width="0.5"/>
<ellipse cx="0" cy="0" rx="7.25" ry="10.3" fill="#ebebeb" stroke="#1c1c1c" stroke-width="1"/>
<ellipse cx="0.6" cy="0" rx="6.1" ry="9.2" fill="#ebebeb" stroke="#1c1c1c" stroke-width="0.8"/>
</g>
<g transform="translate(470.3,515.2)">
<path d="M-183.4,-7.1 L-187.1,-8.4 L-190.4,-10.9 L-193.3,-14.4 L-195.5,-18.7 L-197,-23.8 L-197.8,-29.5 L-197.8,-35.4 L-197,-41.5 L-195.5,-47.3 L-193.2,-52.8 L-190.4,-57.8 L-187,-61.9 L-183.3,-65.1 L-179.4,-67.3 L-175.4,-68.3 L-171.4,-68.1 L-65.1,-46.2 C-51.6,-43.4 -40.6,-33.4 -36.6,-21.9 L-43.6,7.1 C-48.6,14.6 -55.6,18.2 -65.1,18.4Z" fill="#ebebeb" stroke="#1c1c1c" stroke-width="1"/>
<path d="M-65.1,-46.2 L-69.9,-45.6 L-74.5,-43.7 L-78.7,-40.8 L-82.4,-36.7 L-85.5,-31.8 L-87.7,-26.3 L-89.1,-20.2 L-89.6,-13.9 L-89.1,-7.6 L-87.7,-1.5 L-85.5,4 L-82.4,8.9 L-78.7,13 L-74.5,15.9 L-69.9,17.8 L-65.1,18.4" fill="none" stroke="#1c1c1c" stroke-width="1"/>
<path d="M-44.8,-32.6 L-49.3,-33.4 L-53.8,-32.8 L-58.1,-30.7 L-61.8,-27.4 L-64.6,-23 L-66.4,-17.8 L-67.1,-12.3 L-66.6,-6.7 L-64.9,-1.5 L-62.2,3 L-58.6,6.5 L-54.4,8.8 L-49.9,9.6 L-45.4,9" fill="none" stroke="#1c1c1c" stroke-width="1"/>
<path d="M-44.8,-28.1 L-48.3,-28.6 L-51.7,-28 L-54.9,-26.2 L-57.6,-23.4 L-59.7,-19.9 L-61.1,-15.7 L-61.6,-11.2 L-61.2,-6.7 L-60,-2.5 L-58,1.2 L-55.3,4.1 L-52.1,6 L-48.7,6.8 L-45.3,6.4" fill="none" stroke="#1c1c1c" stroke-width="1"/>
<path d="M-43.8,-21.8 L-46.4,-21.2 L-48.7,-19.3 L-50.6,-16.5 L-51.8,-12.9 L-52.2,-8.9 L-51.8,-4.9 L-50.6,-1.3 L-48.7,1.5 L-46.4,3.4 L-43.8,4 L-10.6,9.2 L-10.6,-12.5 Z" fill="#ebebeb" stroke="#1c1c1c" stroke-width="1"/>
<path d="M-9.6,-13.4 L-11.5,-13 L-13.3,-11.8 L-14.8,-9.9 L-16,-7.4 L-16.7,-4.5 L-17,-1.4 L-16.7,1.7 L-16,4.6 L-14.8,7.1 L-13.3,9 L-11.5,10.2 L-9.6,10.6 L-0.2,10.3 L0,10.3 L1.9,9.9 L3.6,8.9 L5.1,7.3 L6.3,5.2 L7,2.7 L7.2,0 L7,-2.7 L6.3,-5.2 L5.1,-7.3 L3.6,-8.9 L1.9,-9.9 L0,-10.3Z" fill="#ebebeb" stroke="#1c1c1c" stroke-width="1"/>
<path d="M-5.7,-12.3 L-7.5,-11.8 L-9.2,-10.6 L-10.7,-8.8 L-11.8,-6.4 L-12.5,-3.7 L-12.7,-0.8 L-12.5,2.1 L-11.8,4.8 L-10.7,7.2 L-9.2,9 L-7.5,10.2 L-5.7,10.7" fill="none" stroke="#1c1c1c" stroke-width="0.8"/>
<path d="M-4.7,-11.9 L-6.8,-11.1 L-8.7,-9.5 L-10.1,-7 L-11.1,-3.9 L-11.4,-0.6 L-11.1,2.7 L-10.1,5.8 L-8.7,8.3 L-6.8,9.9 L-4.7,10.7" fill="none" stroke="#444" stroke-width="0.5"/>
<path d="M-3.6,-11.5 L-5.7,-10.8 L-7.6,-9.1 L-9,-6.7 L-10,-3.7 L-10.3,-0.4 L-10,2.8 L-9,5.8 L-7.6,8.2 L-5.7,9.9 L-3.6,10.6" fill="none" stroke="#444" stroke-width="0.5"/>
<path d="M-2.5,-11.1 L-4.6,-10.4 L-6.5,-8.8 L-7.9,-6.4 L-8.9,-3.5 L-9.2,-0.3 L-8.9,2.9 L-7.9,5.8 L-6.5,8.2 L-4.6,9.8 L-2.5,10.5" fill="none" stroke="#444" stroke-width="0.5"/>
<ellipse cx="0" cy="0" rx="7.25" ry="10.3" fill="#ebebeb" stroke="#1c1c1c" stroke-width="1"/>
<ellipse cx="0.6" cy="0" rx="6.1" ry="9.2" fill="#ebebeb" stroke="#1c1c1c" stroke-width="0.8"/>
</g>
<g transform="translate(417.2,526.7)">
<path d="M-183.4,-7.1 L-187.1,-8.4 L-190.4,-10.9 L-193.3,-14.4 L-195.5,-18.7 L-197,-23.8 L-197.8,-29.5 L-197.8,-35.4 L-197,-41.5 L-195.5,-47.3 L-193.2,-52.8 L-190.4,-57.8 L-187,-61.9 L-183.3,-65.1 L-179.4,-67.3 L-175.4,-68.3 L-171.4,-68.1 L-65.1,-46.2 C-51.6,-43.4 -40.6,-33.4 -36.6,-21.9 L-43.6,7.1 C-48.6,14.6 -55.6,18.2 -65.1,18.4Z" fill="#ebebeb" stroke="#1c1c1c" stroke-width="1"/>
<path d="M-65.1,-46.2 L-69.9,-45.6 L-74.5,-43.7 L-78.7,-40.8 L-82.4,-36.7 L-85.5,-31.8 L-87.7,-26.3 L-89.1,-20.2 L-89.6,-13.9 L-89.1,-7.6 L-87.7,-1.5 L-85.5,4 L-82.4,8.9 L-78.7,13 L-74.5,15.9 L-69.9,17.8 L-65.1,18.4" fill="none" stroke="#1c1c1c" stroke-width="1"/>
<path d="M-44.8,-32.6 L-49.3,-33.4 L-53.8,-32.8 L-58.1,-30.7 L-61.8,-27.4 L-64.6,-23 L-66.4,-17.8 L-67.1,-12.3 L-66.6,-6.7 L-64.9,-1.5 L-62.2,3 L-58.6,6.5 L-54.4,8.8 L-49.9,9.6 L-45.4,9" fill="none" stroke="#1c1c1c" stroke-width="1"/>
<path d="M-44.8,-28.1 L-48.3,-28.6 L-51.7,-28 L-54.9,-26.2 L-57.6,-23.4 L-59.7,-19.9 L-61.1,-15.7 L-61.6,-11.2 L-61.2,-6.7 L-60,-2.5 L-58,1.2 L-55.3,4.1 L-52.1,6 L-48.7,6.8 L-45.3,6.4" fill="none" stroke="#1c1c1c" stroke-width="1"/>
<path d="M-43.8,-21.8 L-46.4,-21.2 L-48.7,-19.3 L-50.6,-16.5 L-51.8,-12.9 L-52.2,-8.9 L-51.8,-4.9 L-50.6,-1.3 L-48.7,1.5 L-46.4,3.4 L-43.8,4 L-10.6,9.2 L-10.6,-12.5 Z" fill="#ebebeb" stroke="#1c1c1c" stroke-width="1"/>
<path d="M-9.6,-13.4 L-11.5,-13 L-13.3,-11.8 L-14.8,-9.9 L-16,-7.4 L-16.7,-4.5 L-17,-1.4 L-16.7,1.7 L-16,4.6 L-14.8,7.1 L-13.3,9 L-11.5,10.2 L-9.6,10.6 L-0.2,10.3 L0,10.3 L1.9,9.9 L3.6,8.9 L5.1,7.3 L6.3,5.2 L7,2.7 L7.2,0 L7,-2.7 L6.3,-5.2 L5.1,-7.3 L3.6,-8.9 L1.9,-9.9 L0,-10.3Z" fill="#ebebeb" stroke="#1c1c1c" stroke-width="1"/>
<path d="M-5.7,-12.3 L-7.5,-11.8 L-9.2,-10.6 L-10.7,-8.8 L-11.8,-6.4 L-12.5,-3.7 L-12.7,-0.8 L-12.5,2.1 L-11.8,4.8 L-10.7,7.2 L-9.2,9 L-7.5,10.2 L-5.7,10.7" fill="none" stroke="#1c1c1c" stroke-width="0.8"/>
<path d="M-4.7,-11.9 L-6.8,-11.1 L-8.7,-9.5 L-10.1,-7 L-11.1,-3.9 L-11.4,-0.6 L-11.1,2.7 L-10.1,5.8 L-8.7,8.3 L-6.8,9.9 L-4.7,10.7" fill="none" stroke="#444" stroke-width="0.5"/>
<path d="M-3.6,-11.5 L-5.7,-10.8 L-7.6,-9.1 L-9,-6.7 L-10,-3.7 L-10.3,-0.4 L-10,2.8 L-9,5.8 L-7.6,8.2 L-5.7,9.9 L-3.6,10.6" fill="none" stroke="#444" stroke-width="0.5"/>
<path d="M-2.5,-11.1 L-4.6,-10.4 L-6.5,-8.8 L-7.9,-6.4 L-8.9,-3.5 L-9.2,-0.3 L-8.9,2.9 L-7.9,5.8 L-6.5,8.2 L-4.6,9.8 L-2.5,10.5" fill="none" stroke="#444" stroke-width="0.5"/>
<ellipse cx="0" cy="0" rx="7.25" ry="10.3" fill="#ebebeb" stroke="#1c1c1c" stroke-width="1"/>
<ellipse cx="0.6" cy="0" rx="6.1" ry="9.2" fill="#ebebeb" stroke="#1c1c1c" stroke-width="0.8"/>
</g>
<g transform="translate(364.1,538.1)">
<path d="M-183.4,-7.1 L-187.1,-8.4 L-190.4,-10.9 L-193.3,-14.4 L-195.5,-18.7 L-197,-23.8 L-197.8,-29.5 L-197.8,-35.4 L-197,-41.5 L-195.5,-47.3 L-193.2,-52.8 L-190.4,-57.8 L-187,-61.9 L-183.3,-65.1 L-179.4,-67.3 L-175.4,-68.3 L-171.4,-68.1 L-65.1,-46.2 C-51.6,-43.4 -40.6,-33.4 -36.6,-21.9 L-43.6,7.1 C-48.6,14.6 -55.6,18.2 -65.1,18.4Z" fill="#ebebeb" stroke="#1c1c1c" stroke-width="1"/>
<path d="M-65.1,-46.2 L-69.9,-45.6 L-74.5,-43.7 L-78.7,-40.8 L-82.4,-36.7 L-85.5,-31.8 L-87.7,-26.3 L-89.1,-20.2 L-89.6,-13.9 L-89.1,-7.6 L-87.7,-1.5 L-85.5,4 L-82.4,8.9 L-78.7,13 L-74.5,15.9 L-69.9,17.8 L-65.1,18.4" fill="none" stroke="#1c1c1c" stroke-width="1"/>
<path d="M-44.8,-32.6 L-49.3,-33.4 L-53.8,-32.8 L-58.1,-30.7 L-61.8,-27.4 L-64.6,-23 L-66.4,-17.8 L-67.1,-12.3 L-66.6,-6.7 L-64.9,-1.5 L-62.2,3 L-58.6,6.5 L-54.4,8.8 L-49.9,9.6 L-45.4,9" fill="none" stroke="#1c1c1c" stroke-width="1"/>
<path d="M-44.8,-28.1 L-48.3,-28.6 L-51.7,-28 L-54.9,-26.2 L-57.6,-23.4 L-59.7,-19.9 L-61.1,-15.7 L-61.6,-11.2 L-61.2,-6.7 L-60,-2.5 L-58,1.2 L-55.3,4.1 L-52.1,6 L-48.7,6.8 L-45.3,6.4" fill="none" stroke="#1c1c1c" stroke-width="1"/>
<path d="M-43.8,-21.8 L-46.4,-21.2 L-48.7,-19.3 L-50.6,-16.5 L-51.8,-12.9 L-52.2,-8.9 L-51.8,-4.9 L-50.6,-1.3 L-48.7,1.5 L-46.4,3.4 L-43.8,4 L-10.6,9.2 L-10.6,-12.5 Z" fill="#ebebeb" stroke="#1c1c1c" stroke-width="1"/>
<path d="M-9.6,-13.4 L-11.5,-13 L-13.3,-11.8 L-14.8,-9.9 L-16,-7.4 L-16.7,-4.5 L-17,-1.4 L-16.7,1.7 L-16,4.6 L-14.8,7.1 L-13.3,9 L-11.5,10.2 L-9.6,10.6 L-0.2,10.3 L0,10.3 L1.9,9.9 L3.6,8.9 L5.1,7.3 L6.3,5.2 L7,2.7 L7.2,0 L7,-2.7 L6.3,-5.2 L5.1,-7.3 L3.6,-8.9 L1.9,-9.9 L0,-10.3Z" fill="#ebebeb" stroke="#1c1c1c" stroke-width="1"/>
<path d="M-5.7,-12.3 L-7.5,-11.8 L-9.2,-10.6 L-10.7,-8.8 L-11.8,-6.4 L-12.5,-3.7 L-12.7,-0.8 L-12.5,2.1 L-11.8,4.8 L-10.7,7.2 L-9.2,9 L-7.5,10.2 L-5.7,10.7" fill="none" stroke="#1c1c1c" stroke-width="0.8"/>
<path d="M-4.7,-11.9 L-6.8,-11.1 L-8.7,-9.5 L-10.1,-7 L-11.1,-3.9 L-11.4,-0.6 L-11.1,2.7 L-10.1,5.8 L-8.7,8.3 L-6.8,9.9 L-4.7,10.7" fill="none" stroke="#444" stroke-width="0.5"/>
<path d="M-3.6,-11.5 L-5.7,-10.8 L-7.6,-9.1 L-9,-6.7 L-10,-3.7 L-10.3,-0.4 L-10,2.8 L-9,5.8 L-7.6,8.2 L-5.7,9.9 L-3.6,10.6" fill="none" stroke="#444" stroke-width="0.5"/>
<path d="M-2.5,-11.1 L-4.6,-10.4 L-6.5,-8.8 L-7.9,-6.4 L-8.9,-3.5 L-9.2,-0.3 L-8.9,2.9 L-7.9,5.8 L-6.5,8.2 L-4.6,9.8 L-2.5,10.5" fill="none" stroke="#444" stroke-width="0.5"/>
<ellipse cx="0" cy="0" rx="7.25" ry="10.3" fill="#ebebeb" stroke="#1c1c1c" stroke-width="1"/>
<ellipse cx="0.6" cy="0" rx="6.1" ry="9.2" fill="#ebebeb" stroke="#1c1c1c" stroke-width="0.8"/>
</g>
<g transform="translate(311,549.6)">
<path d="M-183.4,-7.1 L-187.1,-8.4 L-190.4,-10.9 L-193.3,-14.4 L-195.5,-18.7 L-197,-23.8 L-197.8,-29.5 L-197.8,-35.4 L-197,-41.5 L-195.5,-47.3 L-193.2,-52.8 L-190.4,-57.8 L-187,-61.9 L-183.3,-65.1 L-179.4,-67.3 L-175.4,-68.3 L-171.4,-68.1 L-65.1,-46.2 C-51.6,-43.4 -40.6,-33.4 -36.6,-21.9 L-43.6,7.1 C-48.6,14.6 -55.6,18.2 -65.1,18.4Z" fill="#ebebeb" stroke="#1c1c1c" stroke-width="1"/>
<path d="M-65.1,-46.2 L-69.9,-45.6 L-74.5,-43.7 L-78.7,-40.8 L-82.4,-36.7 L-85.5,-31.8 L-87.7,-26.3 L-89.1,-20.2 L-89.6,-13.9 L-89.1,-7.6 L-87.7,-1.5 L-85.5,4 L-82.4,8.9 L-78.7,13 L-74.5,15.9 L-69.9,17.8 L-65.1,18.4" fill="none" stroke="#1c1c1c" stroke-width="1"/>
<path d="M-44.8,-32.6 L-49.3,-33.4 L-53.8,-32.8 L-58.1,-30.7 L-61.8,-27.4 L-64.6,-23 L-66.4,-17.8 L-67.1,-12.3 L-66.6,-6.7 L-64.9,-1.5 L-62.2,3 L-58.6,6.5 L-54.4,8.8 L-49.9,9.6 L-45.4,9" fill="none" stroke="#1c1c1c" stroke-width="1"/>
<path d="M-44.8,-28.1 L-48.3,-28.6 L-51.7,-28 L-54.9,-26.2 L-57.6,-23.4 L-59.7,-19.9 L-61.1,-15.7 L-61.6,-11.2 L-61.2,-6.7 L-60,-2.5 L-58,1.2 L-55.3,4.1 L-52.1,6 L-48.7,6.8 L-45.3,6.4" fill="none" stroke="#1c1c1c" stroke-width="1"/>
<path d="M-43.8,-21.8 L-46.4,-21.2 L-48.7,-19.3 L-50.6,-16.5 L-51.8,-12.9 L-52.2,-8.9 L-51.8,-4.9 L-50.6,-1.3 L-48.7,1.5 L-46.4,3.4 L-43.8,4 L-10.6,9.2 L-10.6,-12.5 Z" fill="#ebebeb" stroke="#1c1c1c" stroke-width="1"/>
<path d="M-9.6,-13.4 L-11.5,-13 L-13.3,-11.8 L-14.8,-9.9 L-16,-7.4 L-16.7,-4.5 L-17,-1.4 L-16.7,1.7 L-16,4.6 L-14.8,7.1 L-13.3,9 L-11.5,10.2 L-9.6,10.6 L-0.2,10.3 L0,10.3 L1.9,9.9 L3.6,8.9 L5.1,7.3 L6.3,5.2 L7,2.7 L7.2,0 L7,-2.7 L6.3,-5.2 L5.1,-7.3 L3.6,-8.9 L1.9,-9.9 L0,-10.3Z" fill="#ebebeb" stroke="#1c1c1c" stroke-width="1"/>
<path d="M-5.7,-12.3 L-7.5,-11.8 L-9.2,-10.6 L-10.7,-8.8 L-11.8,-6.4 L-12.5,-3.7 L-12.7,-0.8 L-12.5,2.1 L-11.8,4.8 L-10.7,7.2 L-9.2,9 L-7.5,10.2 L-5.7,10.7" fill="none" stroke="#1c1c1c" stroke-width="0.8"/>
<path d="M-4.7,-11.9 L-6.8,-11.1 L-8.7,-9.5 L-10.1,-7 L-11.1,-3.9 L-11.4,-0.6 L-11.1,2.7 L-10.1,5.8 L-8.7,8.3 L-6.8,9.9 L-4.7,10.7" fill="none" stroke="#444" stroke-width="0.5"/>
<path d="M-3.6,-11.5 L-5.7,-10.8 L-7.6,-9.1 L-9,-6.7 L-10,-3.7 L-10.3,-0.4 L-10,2.8 L-9,5.8 L-7.6,8.2 L-5.7,9.9 L-3.6,10.6" fill="none" stroke="#444" stroke-width="0.5"/>
<path d="M-2.5,-11.1 L-4.6,-10.4 L-6.5,-8.8 L-7.9,-6.4 L-8.9,-3.5 L-9.2,-0.3 L-8.9,2.9 L-7.9,5.8 L-6.5,8.2 L-4.6,9.8 L-2.5,10.5" fill="none" stroke="#444" stroke-width="0.5"/>
<ellipse cx="0" cy="0" rx="7.25" ry="10.3" fill="#ebebeb" stroke="#1c1c1c" stroke-width="1"/>
<ellipse cx="0.6" cy="0" rx="6.1" ry="9.2" fill="#ebebeb" stroke="#1c1c1c" stroke-width="0.8"/>
</g>
<path d="M117,539.8 L285.5,577.7 L285.5,588.1 L106,551.5 L106,538.4Z" fill="#fff" stroke="none" stroke-width="0"/>
<path d="M117,541.1 L285.5,579" fill="none" stroke="#1c1c1c" stroke-width="0.8"/>
<path d="M106.5,544.2 L285.5,582.1" fill="none" stroke="#1c1c1c" stroke-width="0.8"/>
<path d="M106.5,547.6 L285.5,585.2" fill="none" stroke="#1c1c1c" stroke-width="0.8"/>
<path d="M106.5,551.8 L285.5,588.1" fill="none" stroke="#1c1c1c" stroke-width="1.5"/>
<path d="M105,552 L105,537.9" fill="none" stroke="#1c1c1c" stroke-width="1"/>
<path d="M105,552 L106.5,551.8" fill="none" stroke="#1c1c1c" stroke-width="1"/>
<path d="M108,552.4 q1,3 5,3.4 l4,0.6 q2.5,-0.3 2.5,-2.2" fill="#fff" stroke="#1c1c1c" stroke-width="0.7"/>
<path d="M285.5,575.8 L546.3,519 L550.6,519.8 L553.5,524 L553.5,524 L289.5,580.5Z" fill="#fff" stroke="#1c1c1c" stroke-width="1"/>
<path d="M289.5,580.5 L553.5,524 L553.5,541.7 L551.7,543 L290,598.5Z" fill="#fff" stroke="#1c1c1c" stroke-width="1"/>
<path d="M285.5,575.8 L285.5,582.8 L288.5,583.8 L288.5,591.3 L285.5,592.3 L285.5,597.6 L290,598.5 L289.5,580.5Z" fill="#fff" stroke="#1c1c1c" stroke-width="1"/>
<path d="M68,405 L277,451 L280,458.5 L548,403 L545.4,394 L336.4,347.4Z" fill="#fff" stroke="none" stroke-width="0"/>
<path d="M68,405 L336.4,347.4" fill="none" stroke="#1c1c1c" stroke-width="0.8"/>
<path d="M545.4,394 L336.4,347.4" fill="none" stroke="#1c1c1c" stroke-width="0.8"/>
<path d="M290.4,448 L98.4,404.1" fill="none" stroke="#1c1c1c" stroke-width="0.8"/>
<path d="M317.4,443.2 L125.4,399.3" fill="none" stroke="#1c1c1c" stroke-width="0.8"/>
<path d="M343,436.6 L151,392.6" fill="none" stroke="#1c1c1c" stroke-width="0.8"/>
<path d="M370,431.8 L178,387.8" fill="none" stroke="#1c1c1c" stroke-width="0.8"/>
<path d="M395.6,425.1 L203.6,381.2" fill="none" stroke="#1c1c1c" stroke-width="0.8"/>
<path d="M422.6,420.3 L230.6,376.4" fill="none" stroke="#1c1c1c" stroke-width="0.8"/>
<path d="M448.2,413.6 L256.2,369.7" fill="none" stroke="#1c1c1c" stroke-width="0.8"/>
<path d="M475.2,408.9 L283.2,364.9" fill="none" stroke="#1c1c1c" stroke-width="0.8"/>
<path d="M500.8,402.2 L308.8,358.3" fill="none" stroke="#1c1c1c" stroke-width="0.8"/>
<path d="M527.8,397.4 L335.8,353.5" fill="none" stroke="#1c1c1c" stroke-width="0.8"/>
<g transform="translate(504.8,370.7)">
<path d="M-183.4,-7.1 L-187.1,-8.4 L-190.4,-10.9 L-193.3,-14.4 L-195.5,-18.7 L-197,-23.8 L-197.8,-29.5 L-197.8,-35.4 L-197,-41.5 L-195.5,-47.3 L-193.2,-52.8 L-190.4,-57.8 L-187,-61.9 L-183.3,-65.1 L-179.4,-67.3 L-175.4,-68.3 L-171.4,-68.1 L-65.1,-46.2 C-51.6,-43.4 -40.6,-33.4 -36.6,-21.9 L-43.6,7.1 C-48.6,14.6 -55.6,18.2 -65.1,18.4Z" fill="#ebebeb" stroke="#1c1c1c" stroke-width="1"/>
<path d="M-65.1,-46.2 L-69.9,-45.6 L-74.5,-43.7 L-78.7,-40.8 L-82.4,-36.7 L-85.5,-31.8 L-87.7,-26.3 L-89.1,-20.2 L-89.6,-13.9 L-89.1,-7.6 L-87.7,-1.5 L-85.5,4 L-82.4,8.9 L-78.7,13 L-74.5,15.9 L-69.9,17.8 L-65.1,18.4" fill="none" stroke="#1c1c1c" stroke-width="1"/>
<path d="M-44.8,-32.6 L-49.3,-33.4 L-53.8,-32.8 L-58.1,-30.7 L-61.8,-27.4 L-64.6,-23 L-66.4,-17.8 L-67.1,-12.3 L-66.6,-6.7 L-64.9,-1.5 L-62.2,3 L-58.6,6.5 L-54.4,8.8 L-49.9,9.6 L-45.4,9" fill="none" stroke="#1c1c1c" stroke-width="1"/>
<path d="M-44.8,-28.1 L-48.3,-28.6 L-51.7,-28 L-54.9,-26.2 L-57.6,-23.4 L-59.7,-19.9 L-61.1,-15.7 L-61.6,-11.2 L-61.2,-6.7 L-60,-2.5 L-58,1.2 L-55.3,4.1 L-52.1,6 L-48.7,6.8 L-45.3,6.4" fill="none" stroke="#1c1c1c" stroke-width="1"/>
<path d="M-43.8,-21.8 L-46.4,-21.2 L-48.7,-19.3 L-50.6,-16.5 L-51.8,-12.9 L-52.2,-8.9 L-51.8,-4.9 L-50.6,-1.3 L-48.7,1.5 L-46.4,3.4 L-43.8,4 L-10.6,9.2 L-10.6,-12.5 Z" fill="#ebebeb" stroke="#1c1c1c" stroke-width="1"/>
<path d="M-9.6,-13.4 L-11.5,-13 L-13.3,-11.8 L-14.8,-9.9 L-16,-7.4 L-16.7,-4.5 L-17,-1.4 L-16.7,1.7 L-16,4.6 L-14.8,7.1 L-13.3,9 L-11.5,10.2 L-9.6,10.6 L-0.2,10.3 L0,10.3 L1.9,9.9 L3.6,8.9 L5.1,7.3 L6.3,5.2 L7,2.7 L7.2,0 L7,-2.7 L6.3,-5.2 L5.1,-7.3 L3.6,-8.9 L1.9,-9.9 L0,-10.3Z" fill="#ebebeb" stroke="#1c1c1c" stroke-width="1"/>
<path d="M-5.7,-12.3 L-7.5,-11.8 L-9.2,-10.6 L-10.7,-8.8 L-11.8,-6.4 L-12.5,-3.7 L-12.7,-0.8 L-12.5,2.1 L-11.8,4.8 L-10.7,7.2 L-9.2,9 L-7.5,10.2 L-5.7,10.7" fill="none" stroke="#1c1c1c" stroke-width="0.8"/>
<path d="M-4.7,-11.9 L-6.8,-11.1 L-8.7,-9.5 L-10.1,-7 L-11.1,-3.9 L-11.4,-0.6 L-11.1,2.7 L-10.1,5.8 L-8.7,8.3 L-6.8,9.9 L-4.7,10.7" fill="none" stroke="#444" stroke-width="0.5"/>
<path d="M-3.6,-11.5 L-5.7,-10.8 L-7.6,-9.1 L-9,-6.7 L-10,-3.7 L-10.3,-0.4 L-10,2.8 L-9,5.8 L-7.6,8.2 L-5.7,9.9 L-3.6,10.6" fill="none" stroke="#444" stroke-width="0.5"/>
<path d="M-2.5,-11.1 L-4.6,-10.4 L-6.5,-8.8 L-7.9,-6.4 L-8.9,-3.5 L-9.2,-0.3 L-8.9,2.9 L-7.9,5.8 L-6.5,8.2 L-4.6,9.8 L-2.5,10.5" fill="none" stroke="#444" stroke-width="0.5"/>
<ellipse cx="0" cy="0" rx="7.25" ry="10.3" fill="#ebebeb" stroke="#1c1c1c" stroke-width="1"/>
<ellipse cx="0.6" cy="0" rx="6.1" ry="9.2" fill="#ebebeb" stroke="#1c1c1c" stroke-width="0.8"/>
</g>
<g transform="translate(478.1,323.4)">
<path d="M-183.4,-7.1 L-187.1,-8.4 L-190.4,-10.9 L-193.3,-14.4 L-195.5,-18.7 L-197,-23.8 L-197.8,-29.5 L-197.8,-35.4 L-197,-41.5 L-195.5,-47.3 L-193.2,-52.8 L-190.4,-57.8 L-187,-61.9 L-183.3,-65.1 L-179.4,-67.3 L-175.4,-68.3 L-171.4,-68.1 L-65.1,-46.2 C-51.6,-43.4 -40.6,-33.4 -36.6,-21.9 L-43.6,7.1 C-48.6,14.6 -55.6,18.2 -65.1,18.4Z" fill="#ebebeb" stroke="#1c1c1c" stroke-width="1"/>
<path d="M-65.1,-46.2 L-69.9,-45.6 L-74.5,-43.7 L-78.7,-40.8 L-82.4,-36.7 L-85.5,-31.8 L-87.7,-26.3 L-89.1,-20.2 L-89.6,-13.9 L-89.1,-7.6 L-87.7,-1.5 L-85.5,4 L-82.4,8.9 L-78.7,13 L-74.5,15.9 L-69.9,17.8 L-65.1,18.4" fill="none" stroke="#1c1c1c" stroke-width="1"/>
<path d="M-44.8,-32.6 L-49.3,-33.4 L-53.8,-32.8 L-58.1,-30.7 L-61.8,-27.4 L-64.6,-23 L-66.4,-17.8 L-67.1,-12.3 L-66.6,-6.7 L-64.9,-1.5 L-62.2,3 L-58.6,6.5 L-54.4,8.8 L-49.9,9.6 L-45.4,9" fill="none" stroke="#1c1c1c" stroke-width="1"/>
<path d="M-44.8,-28.1 L-48.3,-28.6 L-51.7,-28 L-54.9,-26.2 L-57.6,-23.4 L-59.7,-19.9 L-61.1,-15.7 L-61.6,-11.2 L-61.2,-6.7 L-60,-2.5 L-58,1.2 L-55.3,4.1 L-52.1,6 L-48.7,6.8 L-45.3,6.4" fill="none" stroke="#1c1c1c" stroke-width="1"/>
<path d="M-43.8,-21.8 L-46.4,-21.2 L-48.7,-19.3 L-50.6,-16.5 L-51.8,-12.9 L-52.2,-8.9 L-51.8,-4.9 L-50.6,-1.3 L-48.7,1.5 L-46.4,3.4 L-43.8,4 L-10.6,9.2 L-10.6,-12.5 Z" fill="#ebebeb" stroke="#1c1c1c" stroke-width="1"/>
<path d="M-9.6,-13.4 L-11.5,-13 L-13.3,-11.8 L-14.8,-9.9 L-16,-7.4 L-16.7,-4.5 L-17,-1.4 L-16.7,1.7 L-16,4.6 L-14.8,7.1 L-13.3,9 L-11.5,10.2 L-9.6,10.6 L-0.2,10.3 L0,10.3 L1.9,9.9 L3.6,8.9 L5.1,7.3 L6.3,5.2 L7,2.7 L7.2,0 L7,-2.7 L6.3,-5.2 L5.1,-7.3 L3.6,-8.9 L1.9,-9.9 L0,-10.3Z" fill="#ebebeb" stroke="#1c1c1c" stroke-width="1"/>
<path d="M-5.7,-12.3 L-7.5,-11.8 L-9.2,-10.6 L-10.7,-8.8 L-11.8,-6.4 L-12.5,-3.7 L-12.7,-0.8 L-12.5,2.1 L-11.8,4.8 L-10.7,7.2 L-9.2,9 L-7.5,10.2 L-5.7,10.7" fill="none" stroke="#1c1c1c" stroke-width="0.8"/>
<path d="M-4.7,-11.9 L-6.8,-11.1 L-8.7,-9.5 L-10.1,-7 L-11.1,-3.9 L-11.4,-0.6 L-11.1,2.7 L-10.1,5.8 L-8.7,8.3 L-6.8,9.9 L-4.7,10.7" fill="none" stroke="#444" stroke-width="0.5"/>
<path d="M-3.6,-11.5 L-5.7,-10.8 L-7.6,-9.1 L-9,-6.7 L-10,-3.7 L-10.3,-0.4 L-10,2.8 L-9,5.8 L-7.6,8.2 L-5.7,9.9 L-3.6,10.6" fill="none" stroke="#444" stroke-width="0.5"/>
<path d="M-2.5,-11.1 L-4.6,-10.4 L-6.5,-8.8 L-7.9,-6.4 L-8.9,-3.5 L-9.2,-0.3 L-8.9,2.9 L-7.9,5.8 L-6.5,8.2 L-4.6,9.8 L-2.5,10.5" fill="none" stroke="#444" stroke-width="0.5"/>
<ellipse cx="0" cy="0" rx="7.25" ry="10.3" fill="#ebebeb" stroke="#1c1c1c" stroke-width="1"/>
<ellipse cx="0.6" cy="0" rx="6.1" ry="9.2" fill="#ebebeb" stroke="#1c1c1c" stroke-width="0.8"/>
</g>
<g transform="translate(451.7,382.1)">
<path d="M-183.4,-7.1 L-187.1,-8.4 L-190.4,-10.9 L-193.3,-14.4 L-195.5,-18.7 L-197,-23.8 L-197.8,-29.5 L-197.8,-35.4 L-197,-41.5 L-195.5,-47.3 L-193.2,-52.8 L-190.4,-57.8 L-187,-61.9 L-183.3,-65.1 L-179.4,-67.3 L-175.4,-68.3 L-171.4,-68.1 L-65.1,-46.2 C-51.6,-43.4 -40.6,-33.4 -36.6,-21.9 L-43.6,7.1 C-48.6,14.6 -55.6,18.2 -65.1,18.4Z" fill="#ebebeb" stroke="#1c1c1c" stroke-width="1"/>
<path d="M-65.1,-46.2 L-69.9,-45.6 L-74.5,-43.7 L-78.7,-40.8 L-82.4,-36.7 L-85.5,-31.8 L-87.7,-26.3 L-89.1,-20.2 L-89.6,-13.9 L-89.1,-7.6 L-87.7,-1.5 L-85.5,4 L-82.4,8.9 L-78.7,13 L-74.5,15.9 L-69.9,17.8 L-65.1,18.4" fill="none" stroke="#1c1c1c" stroke-width="1"/>
<path d="M-44.8,-32.6 L-49.3,-33.4 L-53.8,-32.8 L-58.1,-30.7 L-61.8,-27.4 L-64.6,-23 L-66.4,-17.8 L-67.1,-12.3 L-66.6,-6.7 L-64.9,-1.5 L-62.2,3 L-58.6,6.5 L-54.4,8.8 L-49.9,9.6 L-45.4,9" fill="none" stroke="#1c1c1c" stroke-width="1"/>
<path d="M-44.8,-28.1 L-48.3,-28.6 L-51.7,-28 L-54.9,-26.2 L-57.6,-23.4 L-59.7,-19.9 L-61.1,-15.7 L-61.6,-11.2 L-61.2,-6.7 L-60,-2.5 L-58,1.2 L-55.3,4.1 L-52.1,6 L-48.7,6.8 L-45.3,6.4" fill="none" stroke="#1c1c1c" stroke-width="1"/>
<path d="M-43.8,-21.8 L-46.4,-21.2 L-48.7,-19.3 L-50.6,-16.5 L-51.8,-12.9 L-52.2,-8.9 L-51.8,-4.9 L-50.6,-1.3 L-48.7,1.5 L-46.4,3.4 L-43.8,4 L-10.6,9.2 L-10.6,-12.5 Z" fill="#ebebeb" stroke="#1c1c1c" stroke-width="1"/>
<path d="M-9.6,-13.4 L-11.5,-13 L-13.3,-11.8 L-14.8,-9.9 L-16,-7.4 L-16.7,-4.5 L-17,-1.4 L-16.7,1.7 L-16,4.6 L-14.8,7.1 L-13.3,9 L-11.5,10.2 L-9.6,10.6 L-0.2,10.3 L0,10.3 L1.9,9.9 L3.6,8.9 L5.1,7.3 L6.3,5.2 L7,2.7 L7.2,0 L7,-2.7 L6.3,-5.2 L5.1,-7.3 L3.6,-8.9 L1.9,-9.9 L0,-10.3Z" fill="#ebebeb" stroke="#1c1c1c" stroke-width="1"/>
<path d="M-5.7,-12.3 L-7.5,-11.8 L-9.2,-10.6 L-10.7,-8.8 L-11.8,-6.4 L-12.5,-3.7 L-12.7,-0.8 L-12.5,2.1 L-11.8,4.8 L-10.7,7.2 L-9.2,9 L-7.5,10.2 L-5.7,10.7" fill="none" stroke="#1c1c1c" stroke-width="0.8"/>
<path d="M-4.7,-11.9 L-6.8,-11.1 L-8.7,-9.5 L-10.1,-7 L-11.1,-3.9 L-11.4,-0.6 L-11.1,2.7 L-10.1,5.8 L-8.7,8.3 L-6.8,9.9 L-4.7,10.7" fill="none" stroke="#444" stroke-width="0.5"/>
<path d="M-3.6,-11.5 L-5.7,-10.8 L-7.6,-9.1 L-9,-6.7 L-10,-3.7 L-10.3,-0.4 L-10,2.8 L-9,5.8 L-7.6,8.2 L-5.7,9.9 L-3.6,10.6" fill="none" stroke="#444" stroke-width="0.5"/>
<path d="M-2.5,-11.1 L-4.6,-10.4 L-6.5,-8.8 L-7.9,-6.4 L-8.9,-3.5 L-9.2,-0.3 L-8.9,2.9 L-7.9,5.8 L-6.5,8.2 L-4.6,9.8 L-2.5,10.5" fill="none" stroke="#444" stroke-width="0.5"/>
<ellipse cx="0" cy="0" rx="7.25" ry="10.3" fill="#ebebeb" stroke="#1c1c1c" stroke-width="1"/>
<ellipse cx="0.6" cy="0" rx="6.1" ry="9.2" fill="#ebebeb" stroke="#1c1c1c" stroke-width="0.8"/>
</g>
<g transform="translate(425,334.8)">
<path d="M-183.4,-7.1 L-187.1,-8.4 L-190.4,-10.9 L-193.3,-14.4 L-195.5,-18.7 L-197,-23.8 L-197.8,-29.5 L-197.8,-35.4 L-197,-41.5 L-195.5,-47.3 L-193.2,-52.8 L-190.4,-57.8 L-187,-61.9 L-183.3,-65.1 L-179.4,-67.3 L-175.4,-68.3 L-171.4,-68.1 L-65.1,-46.2 C-51.6,-43.4 -40.6,-33.4 -36.6,-21.9 L-43.6,7.1 C-48.6,14.6 -55.6,18.2 -65.1,18.4Z" fill="#ebebeb" stroke="#1c1c1c" stroke-width="1"/>
<path d="M-65.1,-46.2 L-69.9,-45.6 L-74.5,-43.7 L-78.7,-40.8 L-82.4,-36.7 L-85.5,-31.8 L-87.7,-26.3 L-89.1,-20.2 L-89.6,-13.9 L-89.1,-7.6 L-87.7,-1.5 L-85.5,4 L-82.4,8.9 L-78.7,13 L-74.5,15.9 L-69.9,17.8 L-65.1,18.4" fill="none" stroke="#1c1c1c" stroke-width="1"/>
<path d="M-44.8,-32.6 L-49.3,-33.4 L-53.8,-32.8 L-58.1,-30.7 L-61.8,-27.4 L-64.6,-23 L-66.4,-17.8 L-67.1,-12.3 L-66.6,-6.7 L-64.9,-1.5 L-62.2,3 L-58.6,6.5 L-54.4,8.8 L-49.9,9.6 L-45.4,9" fill="none" stroke="#1c1c1c" stroke-width="1"/>
<path d="M-44.8,-28.1 L-48.3,-28.6 L-51.7,-28 L-54.9,-26.2 L-57.6,-23.4 L-59.7,-19.9 L-61.1,-15.7 L-61.6,-11.2 L-61.2,-6.7 L-60,-2.5 L-58,1.2 L-55.3,4.1 L-52.1,6 L-48.7,6.8 L-45.3,6.4" fill="none" stroke="#1c1c1c" stroke-width="1"/>
<path d="M-43.8,-21.8 L-46.4,-21.2 L-48.7,-19.3 L-50.6,-16.5 L-51.8,-12.9 L-52.2,-8.9 L-51.8,-4.9 L-50.6,-1.3 L-48.7,1.5 L-46.4,3.4 L-43.8,4 L-10.6,9.2 L-10.6,-12.5 Z" fill="#ebebeb" stroke="#1c1c1c" stroke-width="1"/>
<path d="M-9.6,-13.4 L-11.5,-13 L-13.3,-11.8 L-14.8,-9.9 L-16,-7.4 L-16.7,-4.5 L-17,-1.4 L-16.7,1.7 L-16,4.6 L-14.8,7.1 L-13.3,9 L-11.5,10.2 L-9.6,10.6 L-0.2,10.3 L0,10.3 L1.9,9.9 L3.6,8.9 L5.1,7.3 L6.3,5.2 L7,2.7 L7.2,0 L7,-2.7 L6.3,-5.2 L5.1,-7.3 L3.6,-8.9 L1.9,-9.9 L0,-10.3Z" fill="#ebebeb" stroke="#1c1c1c" stroke-width="1"/>
<path d="M-5.7,-12.3 L-7.5,-11.8 L-9.2,-10.6 L-10.7,-8.8 L-11.8,-6.4 L-12.5,-3.7 L-12.7,-0.8 L-12.5,2.1 L-11.8,4.8 L-10.7,7.2 L-9.2,9 L-7.5,10.2 L-5.7,10.7" fill="none" stroke="#1c1c1c" stroke-width="0.8"/>
<path d="M-4.7,-11.9 L-6.8,-11.1 L-8.7,-9.5 L-10.1,-7 L-11.1,-3.9 L-11.4,-0.6 L-11.1,2.7 L-10.1,5.8 L-8.7,8.3 L-6.8,9.9 L-4.7,10.7" fill="none" stroke="#444" stroke-width="0.5"/>
<path d="M-3.6,-11.5 L-5.7,-10.8 L-7.6,-9.1 L-9,-6.7 L-10,-3.7 L-10.3,-0.4 L-10,2.8 L-9,5.8 L-7.6,8.2 L-5.7,9.9 L-3.6,10.6" fill="none" stroke="#444" stroke-width="0.5"/>
<path d="M-2.5,-11.1 L-4.6,-10.4 L-6.5,-8.8 L-7.9,-6.4 L-8.9,-3.5 L-9.2,-0.3 L-8.9,2.9 L-7.9,5.8 L-6.5,8.2 L-4.6,9.8 L-2.5,10.5" fill="none" stroke="#444" stroke-width="0.5"/>
<ellipse cx="0" cy="0" rx="7.25" ry="10.3" fill="#ebebeb" stroke="#1c1c1c" stroke-width="1"/>
<ellipse cx="0.6" cy="0" rx="6.1" ry="9.2" fill="#ebebeb" stroke="#1c1c1c" stroke-width="0.8"/>
</g>
<g transform="translate(398.6,393.6)">
<path d="M-183.4,-7.1 L-187.1,-8.4 L-190.4,-10.9 L-193.3,-14.4 L-195.5,-18.7 L-197,-23.8 L-197.8,-29.5 L-197.8,-35.4 L-197,-41.5 L-195.5,-47.3 L-193.2,-52.8 L-190.4,-57.8 L-187,-61.9 L-183.3,-65.1 L-179.4,-67.3 L-175.4,-68.3 L-171.4,-68.1 L-65.1,-46.2 C-51.6,-43.4 -40.6,-33.4 -36.6,-21.9 L-43.6,7.1 C-48.6,14.6 -55.6,18.2 -65.1,18.4Z" fill="#ebebeb" stroke="#1c1c1c" stroke-width="1"/>
<path d="M-65.1,-46.2 L-69.9,-45.6 L-74.5,-43.7 L-78.7,-40.8 L-82.4,-36.7 L-85.5,-31.8 L-87.7,-26.3 L-89.1,-20.2 L-89.6,-13.9 L-89.1,-7.6 L-87.7,-1.5 L-85.5,4 L-82.4,8.9 L-78.7,13 L-74.5,15.9 L-69.9,17.8 L-65.1,18.4" fill="none" stroke="#1c1c1c" stroke-width="1"/>
<path d="M-44.8,-32.6 L-49.3,-33.4 L-53.8,-32.8 L-58.1,-30.7 L-61.8,-27.4 L-64.6,-23 L-66.4,-17.8 L-67.1,-12.3 L-66.6,-6.7 L-64.9,-1.5 L-62.2,3 L-58.6,6.5 L-54.4,8.8 L-49.9,9.6 L-45.4,9" fill="none" stroke="#1c1c1c" stroke-width="1"/>
<path d="M-44.8,-28.1 L-48.3,-28.6 L-51.7,-28 L-54.9,-26.2 L-57.6,-23.4 L-59.7,-19.9 L-61.1,-15.7 L-61.6,-11.2 L-61.2,-6.7 L-60,-2.5 L-58,1.2 L-55.3,4.1 L-52.1,6 L-48.7,6.8 L-45.3,6.4" fill="none" stroke="#1c1c1c" stroke-width="1"/>
<path d="M-43.8,-21.8 L-46.4,-21.2 L-48.7,-19.3 L-50.6,-16.5 L-51.8,-12.9 L-52.2,-8.9 L-51.8,-4.9 L-50.6,-1.3 L-48.7,1.5 L-46.4,3.4 L-43.8,4 L-10.6,9.2 L-10.6,-12.5 Z" fill="#ebebeb" stroke="#1c1c1c" stroke-width="1"/>
<path d="M-9.6,-13.4 L-11.5,-13 L-13.3,-11.8 L-14.8,-9.9 L-16,-7.4 L-16.7,-4.5 L-17,-1.4 L-16.7,1.7 L-16,4.6 L-14.8,7.1 L-13.3,9 L-11.5,10.2 L-9.6,10.6 L-0.2,10.3 L0,10.3 L1.9,9.9 L3.6,8.9 L5.1,7.3 L6.3,5.2 L7,2.7 L7.2,0 L7,-2.7 L6.3,-5.2 L5.1,-7.3 L3.6,-8.9 L1.9,-9.9 L0,-10.3Z" fill="#ebebeb" stroke="#1c1c1c" stroke-width="1"/>
<path d="M-5.7,-12.3 L-7.5,-11.8 L-9.2,-10.6 L-10.7,-8.8 L-11.8,-6.4 L-12.5,-3.7 L-12.7,-0.8 L-12.5,2.1 L-11.8,4.8 L-10.7,7.2 L-9.2,9 L-7.5,10.2 L-5.7,10.7" fill="none" stroke="#1c1c1c" stroke-width="0.8"/>
<path d="M-4.7,-11.9 L-6.8,-11.1 L-8.7,-9.5 L-10.1,-7 L-11.1,-3.9 L-11.4,-0.6 L-11.1,2.7 L-10.1,5.8 L-8.7,8.3 L-6.8,9.9 L-4.7,10.7" fill="none" stroke="#444" stroke-width="0.5"/>
<path d="M-3.6,-11.5 L-5.7,-10.8 L-7.6,-9.1 L-9,-6.7 L-10,-3.7 L-10.3,-0.4 L-10,2.8 L-9,5.8 L-7.6,8.2 L-5.7,9.9 L-3.6,10.6" fill="none" stroke="#444" stroke-width="0.5"/>
<path d="M-2.5,-11.1 L-4.6,-10.4 L-6.5,-8.8 L-7.9,-6.4 L-8.9,-3.5 L-9.2,-0.3 L-8.9,2.9 L-7.9,5.8 L-6.5,8.2 L-4.6,9.8 L-2.5,10.5" fill="none" stroke="#444" stroke-width="0.5"/>
<ellipse cx="0" cy="0" rx="7.25" ry="10.3" fill="#ebebeb" stroke="#1c1c1c" stroke-width="1"/>
<ellipse cx="0.6" cy="0" rx="6.1" ry="9.2" fill="#ebebeb" stroke="#1c1c1c" stroke-width="0.8"/>
</g>
<g transform="translate(371.9,346.2)">
<path d="M-183.4,-7.1 L-187.1,-8.4 L-190.4,-10.9 L-193.3,-14.4 L-195.5,-18.7 L-197,-23.8 L-197.8,-29.5 L-197.8,-35.4 L-197,-41.5 L-195.5,-47.3 L-193.2,-52.8 L-190.4,-57.8 L-187,-61.9 L-183.3,-65.1 L-179.4,-67.3 L-175.4,-68.3 L-171.4,-68.1 L-65.1,-46.2 C-51.6,-43.4 -40.6,-33.4 -36.6,-21.9 L-43.6,7.1 C-48.6,14.6 -55.6,18.2 -65.1,18.4Z" fill="#ebebeb" stroke="#1c1c1c" stroke-width="1"/>
<path d="M-65.1,-46.2 L-69.9,-45.6 L-74.5,-43.7 L-78.7,-40.8 L-82.4,-36.7 L-85.5,-31.8 L-87.7,-26.3 L-89.1,-20.2 L-89.6,-13.9 L-89.1,-7.6 L-87.7,-1.5 L-85.5,4 L-82.4,8.9 L-78.7,13 L-74.5,15.9 L-69.9,17.8 L-65.1,18.4" fill="none" stroke="#1c1c1c" stroke-width="1"/>
<path d="M-44.8,-32.6 L-49.3,-33.4 L-53.8,-32.8 L-58.1,-30.7 L-61.8,-27.4 L-64.6,-23 L-66.4,-17.8 L-67.1,-12.3 L-66.6,-6.7 L-64.9,-1.5 L-62.2,3 L-58.6,6.5 L-54.4,8.8 L-49.9,9.6 L-45.4,9" fill="none" stroke="#1c1c1c" stroke-width="1"/>
<path d="M-44.8,-28.1 L-48.3,-28.6 L-51.7,-28 L-54.9,-26.2 L-57.6,-23.4 L-59.7,-19.9 L-61.1,-15.7 L-61.6,-11.2 L-61.2,-6.7 L-60,-2.5 L-58,1.2 L-55.3,4.1 L-52.1,6 L-48.7,6.8 L-45.3,6.4" fill="none" stroke="#1c1c1c" stroke-width="1"/>
<path d="M-43.8,-21.8 L-46.4,-21.2 L-48.7,-19.3 L-50.6,-16.5 L-51.8,-12.9 L-52.2,-8.9 L-51.8,-4.9 L-50.6,-1.3 L-48.7,1.5 L-46.4,3.4 L-43.8,4 L-10.6,9.2 L-10.6,-12.5 Z" fill="#ebebeb" stroke="#1c1c1c" stroke-width="1"/>
<path d="M-9.6,-13.4 L-11.5,-13 L-13.3,-11.8 L-14.8,-9.9 L-16,-7.4 L-16.7,-4.5 L-17,-1.4 L-16.7,1.7 L-16,4.6 L-14.8,7.1 L-13.3,9 L-11.5,10.2 L-9.6,10.6 L-0.2,10.3 L0,10.3 L1.9,9.9 L3.6,8.9 L5.1,7.3 L6.3,5.2 L7,2.7 L7.2,0 L7,-2.7 L6.3,-5.2 L5.1,-7.3 L3.6,-8.9 L1.9,-9.9 L0,-10.3Z" fill="#ebebeb" stroke="#1c1c1c" stroke-width="1"/>
<path d="M-5.7,-12.3 L-7.5,-11.8 L-9.2,-10.6 L-10.7,-8.8 L-11.8,-6.4 L-12.5,-3.7 L-12.7,-0.8 L-12.5,2.1 L-11.8,4.8 L-10.7,7.2 L-9.2,9 L-7.5,10.2 L-5.7,10.7" fill="none" stroke="#1c1c1c" stroke-width="0.8"/>
<path d="M-4.7,-11.9 L-6.8,-11.1 L-8.7,-9.5 L-10.1,-7 L-11.1,-3.9 L-11.4,-0.6 L-11.1,2.7 L-10.1,5.8 L-8.7,8.3 L-6.8,9.9 L-4.7,10.7" fill="none" stroke="#444" stroke-width="0.5"/>
<path d="M-3.6,-11.5 L-5.7,-10.8 L-7.6,-9.1 L-9,-6.7 L-10,-3.7 L-10.3,-0.4 L-10,2.8 L-9,5.8 L-7.6,8.2 L-5.7,9.9 L-3.6,10.6" fill="none" stroke="#444" stroke-width="0.5"/>
<path d="M-2.5,-11.1 L-4.6,-10.4 L-6.5,-8.8 L-7.9,-6.4 L-8.9,-3.5 L-9.2,-0.3 L-8.9,2.9 L-7.9,5.8 L-6.5,8.2 L-4.6,9.8 L-2.5,10.5" fill="none" stroke="#444" stroke-width="0.5"/>
<ellipse cx="0" cy="0" rx="7.25" ry="10.3" fill="#ebebeb" stroke="#1c1c1c" stroke-width="1"/>
<ellipse cx="0.6" cy="0" rx="6.1" ry="9.2" fill="#ebebeb" stroke="#1c1c1c" stroke-width="0.8"/>
</g>
<g transform="translate(345.5,405.1)">
<path d="M-183.4,-7.1 L-187.1,-8.4 L-190.4,-10.9 L-193.3,-14.4 L-195.5,-18.7 L-197,-23.8 L-197.8,-29.5 L-197.8,-35.4 L-197,-41.5 L-195.5,-47.3 L-193.2,-52.8 L-190.4,-57.8 L-187,-61.9 L-183.3,-65.1 L-179.4,-67.3 L-175.4,-68.3 L-171.4,-68.1 L-65.1,-46.2 C-51.6,-43.4 -40.6,-33.4 -36.6,-21.9 L-43.6,7.1 C-48.6,14.6 -55.6,18.2 -65.1,18.4Z" fill="#ebebeb" stroke="#1c1c1c" stroke-width="1"/>
<path d="M-65.1,-46.2 L-69.9,-45.6 L-74.5,-43.7 L-78.7,-40.8 L-82.4,-36.7 L-85.5,-31.8 L-87.7,-26.3 L-89.1,-20.2 L-89.6,-13.9 L-89.1,-7.6 L-87.7,-1.5 L-85.5,4 L-82.4,8.9 L-78.7,13 L-74.5,15.9 L-69.9,17.8 L-65.1,18.4" fill="none" stroke="#1c1c1c" stroke-width="1"/>
<path d="M-44.8,-32.6 L-49.3,-33.4 L-53.8,-32.8 L-58.1,-30.7 L-61.8,-27.4 L-64.6,-23 L-66.4,-17.8 L-67.1,-12.3 L-66.6,-6.7 L-64.9,-1.5 L-62.2,3 L-58.6,6.5 L-54.4,8.8 L-49.9,9.6 L-45.4,9" fill="none" stroke="#1c1c1c" stroke-width="1"/>
<path d="M-44.8,-28.1 L-48.3,-28.6 L-51.7,-28 L-54.9,-26.2 L-57.6,-23.4 L-59.7,-19.9 L-61.1,-15.7 L-61.6,-11.2 L-61.2,-6.7 L-60,-2.5 L-58,1.2 L-55.3,4.1 L-52.1,6 L-48.7,6.8 L-45.3,6.4" fill="none" stroke="#1c1c1c" stroke-width="1"/>
<path d="M-43.8,-21.8 L-46.4,-21.2 L-48.7,-19.3 L-50.6,-16.5 L-51.8,-12.9 L-52.2,-8.9 L-51.8,-4.9 L-50.6,-1.3 L-48.7,1.5 L-46.4,3.4 L-43.8,4 L-10.6,9.2 L-10.6,-12.5 Z" fill="#ebebeb" stroke="#1c1c1c" stroke-width="1"/>
<path d="M-9.6,-13.4 L-11.5,-13 L-13.3,-11.8 L-14.8,-9.9 L-16,-7.4 L-16.7,-4.5 L-17,-1.4 L-16.7,1.7 L-16,4.6 L-14.8,7.1 L-13.3,9 L-11.5,10.2 L-9.6,10.6 L-0.2,10.3 L0,10.3 L1.9,9.9 L3.6,8.9 L5.1,7.3 L6.3,5.2 L7,2.7 L7.2,0 L7,-2.7 L6.3,-5.2 L5.1,-7.3 L3.6,-8.9 L1.9,-9.9 L0,-10.3Z" fill="#ebebeb" stroke="#1c1c1c" stroke-width="1"/>
<path d="M-5.7,-12.3 L-7.5,-11.8 L-9.2,-10.6 L-10.7,-8.8 L-11.8,-6.4 L-12.5,-3.7 L-12.7,-0.8 L-12.5,2.1 L-11.8,4.8 L-10.7,7.2 L-9.2,9 L-7.5,10.2 L-5.7,10.7" fill="none" stroke="#1c1c1c" stroke-width="0.8"/>
<path d="M-4.7,-11.9 L-6.8,-11.1 L-8.7,-9.5 L-10.1,-7 L-11.1,-3.9 L-11.4,-0.6 L-11.1,2.7 L-10.1,5.8 L-8.7,8.3 L-6.8,9.9 L-4.7,10.7" fill="none" stroke="#444" stroke-width="0.5"/>
<path d="M-3.6,-11.5 L-5.7,-10.8 L-7.6,-9.1 L-9,-6.7 L-10,-3.7 L-10.3,-0.4 L-10,2.8 L-9,5.8 L-7.6,8.2 L-5.7,9.9 L-3.6,10.6" fill="none" stroke="#444" stroke-width="0.5"/>
<path d="M-2.5,-11.1 L-4.6,-10.4 L-6.5,-8.8 L-7.9,-6.4 L-8.9,-3.5 L-9.2,-0.3 L-8.9,2.9 L-7.9,5.8 L-6.5,8.2 L-4.6,9.8 L-2.5,10.5" fill="none" stroke="#444" stroke-width="0.5"/>
<ellipse cx="0" cy="0" rx="7.25" ry="10.3" fill="#ebebeb" stroke="#1c1c1c" stroke-width="1"/>
<ellipse cx="0.6" cy="0" rx="6.1" ry="9.2" fill="#ebebeb" stroke="#1c1c1c" stroke-width="0.8"/>
</g>
<g transform="translate(318.8,357.7)">
<path d="M-183.4,-7.1 L-187.1,-8.4 L-190.4,-10.9 L-193.3,-14.4 L-195.5,-18.7 L-197,-23.8 L-197.8,-29.5 L-197.8,-35.4 L-197,-41.5 L-195.5,-47.3 L-193.2,-52.8 L-190.4,-57.8 L-187,-61.9 L-183.3,-65.1 L-179.4,-67.3 L-175.4,-68.3 L-171.4,-68.1 L-65.1,-46.2 C-51.6,-43.4 -40.6,-33.4 -36.6,-21.9 L-43.6,7.1 C-48.6,14.6 -55.6,18.2 -65.1,18.4Z" fill="#ebebeb" stroke="#1c1c1c" stroke-width="1"/>
<path d="M-65.1,-46.2 L-69.9,-45.6 L-74.5,-43.7 L-78.7,-40.8 L-82.4,-36.7 L-85.5,-31.8 L-87.7,-26.3 L-89.1,-20.2 L-89.6,-13.9 L-89.1,-7.6 L-87.7,-1.5 L-85.5,4 L-82.4,8.9 L-78.7,13 L-74.5,15.9 L-69.9,17.8 L-65.1,18.4" fill="none" stroke="#1c1c1c" stroke-width="1"/>
<path d="M-44.8,-32.6 L-49.3,-33.4 L-53.8,-32.8 L-58.1,-30.7 L-61.8,-27.4 L-64.6,-23 L-66.4,-17.8 L-67.1,-12.3 L-66.6,-6.7 L-64.9,-1.5 L-62.2,3 L-58.6,6.5 L-54.4,8.8 L-49.9,9.6 L-45.4,9" fill="none" stroke="#1c1c1c" stroke-width="1"/>
<path d="M-44.8,-28.1 L-48.3,-28.6 L-51.7,-28 L-54.9,-26.2 L-57.6,-23.4 L-59.7,-19.9 L-61.1,-15.7 L-61.6,-11.2 L-61.2,-6.7 L-60,-2.5 L-58,1.2 L-55.3,4.1 L-52.1,6 L-48.7,6.8 L-45.3,6.4" fill="none" stroke="#1c1c1c" stroke-width="1"/>
<path d="M-43.8,-21.8 L-46.4,-21.2 L-48.7,-19.3 L-50.6,-16.5 L-51.8,-12.9 L-52.2,-8.9 L-51.8,-4.9 L-50.6,-1.3 L-48.7,1.5 L-46.4,3.4 L-43.8,4 L-10.6,9.2 L-10.6,-12.5 Z" fill="#ebebeb" stroke="#1c1c1c" stroke-width="1"/>
<path d="M-9.6,-13.4 L-11.5,-13 L-13.3,-11.8 L-14.8,-9.9 L-16,-7.4 L-16.7,-4.5 L-17,-1.4 L-16.7,1.7 L-16,4.6 L-14.8,7.1 L-13.3,9 L-11.5,10.2 L-9.6,10.6 L-0.2,10.3 L0,10.3 L1.9,9.9 L3.6,8.9 L5.1,7.3 L6.3,5.2 L7,2.7 L7.2,0 L7,-2.7 L6.3,-5.2 L5.1,-7.3 L3.6,-8.9 L1.9,-9.9 L0,-10.3Z" fill="#ebebeb" stroke="#1c1c1c" stroke-width="1"/>
<path d="M-5.7,-12.3 L-7.5,-11.8 L-9.2,-10.6 L-10.7,-8.8 L-11.8,-6.4 L-12.5,-3.7 L-12.7,-0.8 L-12.5,2.1 L-11.8,4.8 L-10.7,7.2 L-9.2,9 L-7.5,10.2 L-5.7,10.7" fill="none" stroke="#1c1c1c" stroke-width="0.8"/>
<path d="M-4.7,-11.9 L-6.8,-11.1 L-8.7,-9.5 L-10.1,-7 L-11.1,-3.9 L-11.4,-0.6 L-11.1,2.7 L-10.1,5.8 L-8.7,8.3 L-6.8,9.9 L-4.7,10.7" fill="none" stroke="#444" stroke-width="0.5"/>
<path d="M-3.6,-11.5 L-5.7,-10.8 L-7.6,-9.1 L-9,-6.7 L-10,-3.7 L-10.3,-0.4 L-10,2.8 L-9,5.8 L-7.6,8.2 L-5.7,9.9 L-3.6,10.6" fill="none" stroke="#444" stroke-width="0.5"/>
<path d="M-2.5,-11.1 L-4.6,-10.4 L-6.5,-8.8 L-7.9,-6.4 L-8.9,-3.5 L-9.2,-0.3 L-8.9,2.9 L-7.9,5.8 L-6.5,8.2 L-4.6,9.8 L-2.5,10.5" fill="none" stroke="#444" stroke-width="0.5"/>
<ellipse cx="0" cy="0" rx="7.25" ry="10.3" fill="#ebebeb" stroke="#1c1c1c" stroke-width="1"/>
<ellipse cx="0.6" cy="0" rx="6.1" ry="9.2" fill="#ebebeb" stroke="#1c1c1c" stroke-width="0.8"/>
</g>
<g transform="translate(292.4,416.5)">
<path d="M-183.4,-7.1 L-187.1,-8.4 L-190.4,-10.9 L-193.3,-14.4 L-195.5,-18.7 L-197,-23.8 L-197.8,-29.5 L-197.8,-35.4 L-197,-41.5 L-195.5,-47.3 L-193.2,-52.8 L-190.4,-57.8 L-187,-61.9 L-183.3,-65.1 L-179.4,-67.3 L-175.4,-68.3 L-171.4,-68.1 L-65.1,-46.2 C-51.6,-43.4 -40.6,-33.4 -36.6,-21.9 L-43.6,7.1 C-48.6,14.6 -55.6,18.2 -65.1,18.4Z" fill="#ebebeb" stroke="#1c1c1c" stroke-width="1"/>
<path d="M-65.1,-46.2 L-69.9,-45.6 L-74.5,-43.7 L-78.7,-40.8 L-82.4,-36.7 L-85.5,-31.8 L-87.7,-26.3 L-89.1,-20.2 L-89.6,-13.9 L-89.1,-7.6 L-87.7,-1.5 L-85.5,4 L-82.4,8.9 L-78.7,13 L-74.5,15.9 L-69.9,17.8 L-65.1,18.4" fill="none" stroke="#1c1c1c" stroke-width="1"/>
<path d="M-44.8,-32.6 L-49.3,-33.4 L-53.8,-32.8 L-58.1,-30.7 L-61.8,-27.4 L-64.6,-23 L-66.4,-17.8 L-67.1,-12.3 L-66.6,-6.7 L-64.9,-1.5 L-62.2,3 L-58.6,6.5 L-54.4,8.8 L-49.9,9.6 L-45.4,9" fill="none" stroke="#1c1c1c" stroke-width="1"/>
<path d="M-44.8,-28.1 L-48.3,-28.6 L-51.7,-28 L-54.9,-26.2 L-57.6,-23.4 L-59.7,-19.9 L-61.1,-15.7 L-61.6,-11.2 L-61.2,-6.7 L-60,-2.5 L-58,1.2 L-55.3,4.1 L-52.1,6 L-48.7,6.8 L-45.3,6.4" fill="none" stroke="#1c1c1c" stroke-width="1"/>
<path d="M-43.8,-21.8 L-46.4,-21.2 L-48.7,-19.3 L-50.6,-16.5 L-51.8,-12.9 L-52.2,-8.9 L-51.8,-4.9 L-50.6,-1.3 L-48.7,1.5 L-46.4,3.4 L-43.8,4 L-10.6,9.2 L-10.6,-12.5 Z" fill="#ebebeb" stroke="#1c1c1c" stroke-width="1"/>
<path d="M-9.6,-13.4 L-11.5,-13 L-13.3,-11.8 L-14.8,-9.9 L-16,-7.4 L-16.7,-4.5 L-17,-1.4 L-16.7,1.7 L-16,4.6 L-14.8,7.1 L-13.3,9 L-11.5,10.2 L-9.6,10.6 L-0.2,10.3 L0,10.3 L1.9,9.9 L3.6,8.9 L5.1,7.3 L6.3,5.2 L7,2.7 L7.2,0 L7,-2.7 L6.3,-5.2 L5.1,-7.3 L3.6,-8.9 L1.9,-9.9 L0,-10.3Z" fill="#ebebeb" stroke="#1c1c1c" stroke-width="1"/>
<path d="M-5.7,-12.3 L-7.5,-11.8 L-9.2,-10.6 L-10.7,-8.8 L-11.8,-6.4 L-12.5,-3.7 L-12.7,-0.8 L-12.5,2.1 L-11.8,4.8 L-10.7,7.2 L-9.2,9 L-7.5,10.2 L-5.7,10.7" fill="none" stroke="#1c1c1c" stroke-width="0.8"/>
<path d="M-4.7,-11.9 L-6.8,-11.1 L-8.7,-9.5 L-10.1,-7 L-11.1,-3.9 L-11.4,-0.6 L-11.1,2.7 L-10.1,5.8 L-8.7,8.3 L-6.8,9.9 L-4.7,10.7" fill="none" stroke="#444" stroke-width="0.5"/>
<path d="M-3.6,-11.5 L-5.7,-10.8 L-7.6,-9.1 L-9,-6.7 L-10,-3.7 L-10.3,-0.4 L-10,2.8 L-9,5.8 L-7.6,8.2 L-5.7,9.9 L-3.6,10.6" fill="none" stroke="#444" stroke-width="0.5"/>
<path d="M-2.5,-11.1 L-4.6,-10.4 L-6.5,-8.8 L-7.9,-6.4 L-8.9,-3.5 L-9.2,-0.3 L-8.9,2.9 L-7.9,5.8 L-6.5,8.2 L-4.6,9.8 L-2.5,10.5" fill="none" stroke="#444" stroke-width="0.5"/>
<ellipse cx="0" cy="0" rx="7.25" ry="10.3" fill="#ebebeb" stroke="#1c1c1c" stroke-width="1"/>
<ellipse cx="0.6" cy="0" rx="6.1" ry="9.2" fill="#ebebeb" stroke="#1c1c1c" stroke-width="0.8"/>
</g>
<path d="M68,405 L98,404 L290.4,448 L277,451Z" fill="#fff" stroke="none" stroke-width="0"/>
<path d="M98,404 L290.4,448" fill="none" stroke="#1c1c1c" stroke-width="0.8"/>
<path d="M68,405 L277,451.3 L280,458.5 L258,461 L95,425.6 L93,423 L80.6,421 L80,418 L76,417 L76,410 L70,407.5Z" fill="#fff" stroke="#1c1c1c" stroke-width="1"/>
<path d="M277,451 L290.4,448 C297.4,455.5 308.4,451.7 317.4,443.2 L343,436.6 C350,444.1 361,440.2 370,431.8 L395.6,425.1 C402.6,432.6 413.6,428.8 422.6,420.3 L448.2,413.6 C455.2,421.1 466.2,417.4 475.2,408.9 L500.8,402.2 C507.8,409.7 518.8,405.9 527.8,397.4 L545.4,394 L546.8,395.2 L548,403 L280,458.5 Z" fill="#fff" stroke="#1c1c1c" stroke-width="1"/>
<path d="M280,458.5 L551.7,402.2 L559.8,444.3 L558.6,446.4 L553.8,447.2 L553.7,448.3 L290,504Z" fill="#fff" stroke="#1c1c1c" stroke-width="1"/>
<path d="M258,461 L280,458.5 L290,504 L280,504 L263,501 L262,498 L259,492Z" fill="#fff" stroke="#1c1c1c" stroke-width="1"/>
<path d="M316,451.2 L324,496.8" fill="none" stroke="#1c1c1c" stroke-width="0.8"/>
<path d="M517.4,409.4 L526.2,453.6" fill="none" stroke="#1c1c1c" stroke-width="0.8"/>
<path d="M404.9,436.7 L428.2,431.4 L435.6,463.6 L412.2,468.8Z" fill="#fff" stroke="#1c1c1c" stroke-width="0.8"/>
<path d="M410.7,441.6 L425.3,438.3 L430.3,459.2 L415.7,462.6Z" fill="#fff" stroke="#1c1c1c" stroke-width="0.8"/>
<rect x="0" y="0" width="21.5" height="4.6" rx="2.3" transform="translate(527.9,422.6) rotate(-12)" fill="#fff" stroke="#1c1c1c" stroke-width="0.8"/>
<rect x="0" y="0" width="21.5" height="4.6" rx="2.3" transform="translate(527.9,428.5) rotate(-12)" fill="#fff" stroke="#1c1c1c" stroke-width="0.8"/>
<rect x="0" y="0" width="21.5" height="4.6" rx="2.3" transform="translate(527.9,434.4) rotate(-12)" fill="#fff" stroke="#1c1c1c" stroke-width="0.8"/>
<path d="M77,265.5 L285.5,314.3 L285.5,309.3 L546.3,252.5 L337.8,203.7Z" fill="#fff" stroke="none" stroke-width="0"/>
<path d="M109.1,265 L291.6,308" fill="none" stroke="#222" stroke-width="0.8"/>
<path d="M115.2,263.6 L297.7,306.6" fill="none" stroke="#666" stroke-width="0.6"/>
<path d="M121.3,262.3 L303.8,305.3" fill="none" stroke="#222" stroke-width="0.8"/>
<path d="M127.4,261 L309.9,304" fill="none" stroke="#666" stroke-width="0.6"/>
<path d="M133.5,259.7 L316,302.7" fill="none" stroke="#222" stroke-width="0.8"/>
<path d="M139.6,258.3 L322.1,301.3" fill="none" stroke="#666" stroke-width="0.6"/>
<path d="M145.6,257 L328.1,300" fill="none" stroke="#222" stroke-width="0.8"/>
<path d="M151.7,255.7 L334.2,298.7" fill="none" stroke="#666" stroke-width="0.6"/>
<path d="M157.8,254.3 L340.3,297.4" fill="none" stroke="#222" stroke-width="0.8"/>
<path d="M163.9,253 L346.4,296" fill="none" stroke="#666" stroke-width="0.6"/>
<path d="M170,251.7 L352.5,294.7" fill="none" stroke="#222" stroke-width="0.8"/>
<path d="M176.1,250.4 L358.6,293.4" fill="none" stroke="#666" stroke-width="0.6"/>
<path d="M182.2,249 L364.7,292.1" fill="none" stroke="#222" stroke-width="0.8"/>
<path d="M188.3,247.7 L370.8,290.7" fill="none" stroke="#666" stroke-width="0.6"/>
<path d="M194.4,246.4 L376.9,289.4" fill="none" stroke="#222" stroke-width="0.8"/>
<path d="M200.5,245.1 L383,288.1" fill="none" stroke="#666" stroke-width="0.6"/>
<path d="M206.6,243.7 L389.1,286.7" fill="none" stroke="#222" stroke-width="0.8"/>
<path d="M212.7,242.4 L395.2,285.4" fill="none" stroke="#666" stroke-width="0.6"/>
<path d="M218.8,241.1 L401.3,284.1" fill="none" stroke="#222" stroke-width="0.8"/>
<path d="M224.8,239.7 L407.3,282.8" fill="none" stroke="#666" stroke-width="0.6"/>
<path d="M230.9,238.4 L413.4,281.4" fill="none" stroke="#222" stroke-width="0.8"/>
<path d="M237,237.1 L419.5,280.1" fill="none" stroke="#666" stroke-width="0.6"/>
<path d="M243.1,235.8 L425.6,278.8" fill="none" stroke="#222" stroke-width="0.8"/>
<path d="M249.2,234.4 L431.7,277.5" fill="none" stroke="#666" stroke-width="0.6"/>
<path d="M255.3,233.1 L437.8,276.1" fill="none" stroke="#222" stroke-width="0.8"/>
<path d="M261.4,231.8 L443.9,274.8" fill="none" stroke="#666" stroke-width="0.6"/>
<path d="M267.5,230.5 L450,273.5" fill="none" stroke="#222" stroke-width="0.8"/>
<path d="M273.6,229.1 L456.1,272.1" fill="none" stroke="#666" stroke-width="0.6"/>
<path d="M279.7,227.8 L462.2,270.8" fill="none" stroke="#222" stroke-width="0.8"/>
<path d="M285.8,226.5 L468.3,269.5" fill="none" stroke="#666" stroke-width="0.6"/>
<path d="M291.9,225.2 L474.4,268.2" fill="none" stroke="#222" stroke-width="0.8"/>
<path d="M298,223.8 L480.5,266.8" fill="none" stroke="#666" stroke-width="0.6"/>
<path d="M304.1,222.5 L486.6,265.5" fill="none" stroke="#222" stroke-width="0.8"/>
<path d="M310.1,221.2 L492.6,264.2" fill="none" stroke="#666" stroke-width="0.6"/>
<path d="M316.2,219.8 L498.7,262.9" fill="none" stroke="#222" stroke-width="0.8"/>
<path d="M322.3,218.5 L504.8,261.5" fill="none" stroke="#666" stroke-width="0.6"/>
<path d="M328.4,217.2 L510.9,260.2" fill="none" stroke="#222" stroke-width="0.8"/>
<path d="M334.5,215.9 L517,258.9" fill="none" stroke="#666" stroke-width="0.6"/>
<path d="M77,265.1 Q77,262 80,261.4 L117,253.8" fill="none" stroke="#1c1c1c" stroke-width="1"/>
<g transform="translate(523.4,235.9)">
<path d="M-183.4,-7.1 L-187.1,-8.4 L-190.4,-10.9 L-193.3,-14.4 L-195.5,-18.7 L-197,-23.8 L-197.8,-29.5 L-197.8,-35.4 L-197,-41.5 L-195.5,-47.3 L-193.2,-52.8 L-190.4,-57.8 L-187,-61.9 L-183.3,-65.1 L-179.4,-67.3 L-175.4,-68.3 L-171.4,-68.1 L-65.1,-46.2 C-51.6,-43.4 -40.6,-33.4 -36.6,-21.9 L-43.6,7.1 C-48.6,14.6 -55.6,18.2 -65.1,18.4Z" fill="#ebebeb" stroke="#1c1c1c" stroke-width="1"/>
<path d="M-65.1,-46.2 L-69.9,-45.6 L-74.5,-43.7 L-78.7,-40.8 L-82.4,-36.7 L-85.5,-31.8 L-87.7,-26.3 L-89.1,-20.2 L-89.6,-13.9 L-89.1,-7.6 L-87.7,-1.5 L-85.5,4 L-82.4,8.9 L-78.7,13 L-74.5,15.9 L-69.9,17.8 L-65.1,18.4" fill="none" stroke="#1c1c1c" stroke-width="1"/>
<path d="M-44.8,-32.6 L-49.3,-33.4 L-53.8,-32.8 L-58.1,-30.7 L-61.8,-27.4 L-64.6,-23 L-66.4,-17.8 L-67.1,-12.3 L-66.6,-6.7 L-64.9,-1.5 L-62.2,3 L-58.6,6.5 L-54.4,8.8 L-49.9,9.6 L-45.4,9" fill="none" stroke="#1c1c1c" stroke-width="1"/>
<path d="M-44.8,-28.1 L-48.3,-28.6 L-51.7,-28 L-54.9,-26.2 L-57.6,-23.4 L-59.7,-19.9 L-61.1,-15.7 L-61.6,-11.2 L-61.2,-6.7 L-60,-2.5 L-58,1.2 L-55.3,4.1 L-52.1,6 L-48.7,6.8 L-45.3,6.4" fill="none" stroke="#1c1c1c" stroke-width="1"/>
<path d="M-43.8,-21.8 L-46.4,-21.2 L-48.7,-19.3 L-50.6,-16.5 L-51.8,-12.9 L-52.2,-8.9 L-51.8,-4.9 L-50.6,-1.3 L-48.7,1.5 L-46.4,3.4 L-43.8,4 L-10.6,9.2 L-10.6,-12.5 Z" fill="#ebebeb" stroke="#1c1c1c" stroke-width="1"/>
<path d="M-9.6,-13.4 L-11.5,-13 L-13.3,-11.8 L-14.8,-9.9 L-16,-7.4 L-16.7,-4.5 L-17,-1.4 L-16.7,1.7 L-16,4.6 L-14.8,7.1 L-13.3,9 L-11.5,10.2 L-9.6,10.6 L-0.2,10.3 L0,10.3 L1.9,9.9 L3.6,8.9 L5.1,7.3 L6.3,5.2 L7,2.7 L7.2,0 L7,-2.7 L6.3,-5.2 L5.1,-7.3 L3.6,-8.9 L1.9,-9.9 L0,-10.3Z" fill="#ebebeb" stroke="#1c1c1c" stroke-width="1"/>
<path d="M-5.7,-12.3 L-7.5,-11.8 L-9.2,-10.6 L-10.7,-8.8 L-11.8,-6.4 L-12.5,-3.7 L-12.7,-0.8 L-12.5,2.1 L-11.8,4.8 L-10.7,7.2 L-9.2,9 L-7.5,10.2 L-5.7,10.7" fill="none" stroke="#1c1c1c" stroke-width="0.8"/>
<path d="M-4.7,-11.9 L-6.8,-11.1 L-8.7,-9.5 L-10.1,-7 L-11.1,-3.9 L-11.4,-0.6 L-11.1,2.7 L-10.1,5.8 L-8.7,8.3 L-6.8,9.9 L-4.7,10.7" fill="none" stroke="#444" stroke-width="0.5"/>
<path d="M-3.6,-11.5 L-5.7,-10.8 L-7.6,-9.1 L-9,-6.7 L-10,-3.7 L-10.3,-0.4 L-10,2.8 L-9,5.8 L-7.6,8.2 L-5.7,9.9 L-3.6,10.6" fill="none" stroke="#444" stroke-width="0.5"/>
<path d="M-2.5,-11.1 L-4.6,-10.4 L-6.5,-8.8 L-7.9,-6.4 L-8.9,-3.5 L-9.2,-0.3 L-8.9,2.9 L-7.9,5.8 L-6.5,8.2 L-4.6,9.8 L-2.5,10.5" fill="none" stroke="#444" stroke-width="0.5"/>
<ellipse cx="0" cy="0" rx="7.25" ry="10.3" fill="#ebebeb" stroke="#1c1c1c" stroke-width="1"/>
<ellipse cx="0.6" cy="0" rx="6.1" ry="9.2" fill="#ebebeb" stroke="#1c1c1c" stroke-width="0.8"/>
</g>
<g transform="translate(470.3,247.3)">
<path d="M-183.4,-7.1 L-187.1,-8.4 L-190.4,-10.9 L-193.3,-14.4 L-195.5,-18.7 L-197,-23.8 L-197.8,-29.5 L-197.8,-35.4 L-197,-41.5 L-195.5,-47.3 L-193.2,-52.8 L-190.4,-57.8 L-187,-61.9 L-183.3,-65.1 L-179.4,-67.3 L-175.4,-68.3 L-171.4,-68.1 L-65.1,-46.2 C-51.6,-43.4 -40.6,-33.4 -36.6,-21.9 L-43.6,7.1 C-48.6,14.6 -55.6,18.2 -65.1,18.4Z" fill="#ebebeb" stroke="#1c1c1c" stroke-width="1"/>
<path d="M-65.1,-46.2 L-69.9,-45.6 L-74.5,-43.7 L-78.7,-40.8 L-82.4,-36.7 L-85.5,-31.8 L-87.7,-26.3 L-89.1,-20.2 L-89.6,-13.9 L-89.1,-7.6 L-87.7,-1.5 L-85.5,4 L-82.4,8.9 L-78.7,13 L-74.5,15.9 L-69.9,17.8 L-65.1,18.4" fill="none" stroke="#1c1c1c" stroke-width="1"/>
<path d="M-44.8,-32.6 L-49.3,-33.4 L-53.8,-32.8 L-58.1,-30.7 L-61.8,-27.4 L-64.6,-23 L-66.4,-17.8 L-67.1,-12.3 L-66.6,-6.7 L-64.9,-1.5 L-62.2,3 L-58.6,6.5 L-54.4,8.8 L-49.9,9.6 L-45.4,9" fill="none" stroke="#1c1c1c" stroke-width="1"/>
<path d="M-44.8,-28.1 L-48.3,-28.6 L-51.7,-28 L-54.9,-26.2 L-57.6,-23.4 L-59.7,-19.9 L-61.1,-15.7 L-61.6,-11.2 L-61.2,-6.7 L-60,-2.5 L-58,1.2 L-55.3,4.1 L-52.1,6 L-48.7,6.8 L-45.3,6.4" fill="none" stroke="#1c1c1c" stroke-width="1"/>
<path d="M-43.8,-21.8 L-46.4,-21.2 L-48.7,-19.3 L-50.6,-16.5 L-51.8,-12.9 L-52.2,-8.9 L-51.8,-4.9 L-50.6,-1.3 L-48.7,1.5 L-46.4,3.4 L-43.8,4 L-10.6,9.2 L-10.6,-12.5 Z" fill="#ebebeb" stroke="#1c1c1c" stroke-width="1"/>
<path d="M-9.6,-13.4 L-11.5,-13 L-13.3,-11.8 L-14.8,-9.9 L-16,-7.4 L-16.7,-4.5 L-17,-1.4 L-16.7,1.7 L-16,4.6 L-14.8,7.1 L-13.3,9 L-11.5,10.2 L-9.6,10.6 L-0.2,10.3 L0,10.3 L1.9,9.9 L3.6,8.9 L5.1,7.3 L6.3,5.2 L7,2.7 L7.2,0 L7,-2.7 L6.3,-5.2 L5.1,-7.3 L3.6,-8.9 L1.9,-9.9 L0,-10.3Z" fill="#ebebeb" stroke="#1c1c1c" stroke-width="1"/>
<path d="M-5.7,-12.3 L-7.5,-11.8 L-9.2,-10.6 L-10.7,-8.8 L-11.8,-6.4 L-12.5,-3.7 L-12.7,-0.8 L-12.5,2.1 L-11.8,4.8 L-10.7,7.2 L-9.2,9 L-7.5,10.2 L-5.7,10.7" fill="none" stroke="#1c1c1c" stroke-width="0.8"/>
<path d="M-4.7,-11.9 L-6.8,-11.1 L-8.7,-9.5 L-10.1,-7 L-11.1,-3.9 L-11.4,-0.6 L-11.1,2.7 L-10.1,5.8 L-8.7,8.3 L-6.8,9.9 L-4.7,10.7" fill="none" stroke="#444" stroke-width="0.5"/>
<path d="M-3.6,-11.5 L-5.7,-10.8 L-7.6,-9.1 L-9,-6.7 L-10,-3.7 L-10.3,-0.4 L-10,2.8 L-9,5.8 L-7.6,8.2 L-5.7,9.9 L-3.6,10.6" fill="none" stroke="#444" stroke-width="0.5"/>
<path d="M-2.5,-11.1 L-4.6,-10.4 L-6.5,-8.8 L-7.9,-6.4 L-8.9,-3.5 L-9.2,-0.3 L-8.9,2.9 L-7.9,5.8 L-6.5,8.2 L-4.6,9.8 L-2.5,10.5" fill="none" stroke="#444" stroke-width="0.5"/>
<ellipse cx="0" cy="0" rx="7.25" ry="10.3" fill="#ebebeb" stroke="#1c1c1c" stroke-width="1"/>
<ellipse cx="0.6" cy="0" rx="6.1" ry="9.2" fill="#ebebeb" stroke="#1c1c1c" stroke-width="0.8"/>
</g>
<g transform="translate(417.2,258.8)">
<path d="M-183.4,-7.1 L-187.1,-8.4 L-190.4,-10.9 L-193.3,-14.4 L-195.5,-18.7 L-197,-23.8 L-197.8,-29.5 L-197.8,-35.4 L-197,-41.5 L-195.5,-47.3 L-193.2,-52.8 L-190.4,-57.8 L-187,-61.9 L-183.3,-65.1 L-179.4,-67.3 L-175.4,-68.3 L-171.4,-68.1 L-65.1,-46.2 C-51.6,-43.4 -40.6,-33.4 -36.6,-21.9 L-43.6,7.1 C-48.6,14.6 -55.6,18.2 -65.1,18.4Z" fill="#ebebeb" stroke="#1c1c1c" stroke-width="1"/>
<path d="M-65.1,-46.2 L-69.9,-45.6 L-74.5,-43.7 L-78.7,-40.8 L-82.4,-36.7 L-85.5,-31.8 L-87.7,-26.3 L-89.1,-20.2 L-89.6,-13.9 L-89.1,-7.6 L-87.7,-1.5 L-85.5,4 L-82.4,8.9 L-78.7,13 L-74.5,15.9 L-69.9,17.8 L-65.1,18.4" fill="none" stroke="#1c1c1c" stroke-width="1"/>
<path d="M-44.8,-32.6 L-49.3,-33.4 L-53.8,-32.8 L-58.1,-30.7 L-61.8,-27.4 L-64.6,-23 L-66.4,-17.8 L-67.1,-12.3 L-66.6,-6.7 L-64.9,-1.5 L-62.2,3 L-58.6,6.5 L-54.4,8.8 L-49.9,9.6 L-45.4,9" fill="none" stroke="#1c1c1c" stroke-width="1"/>
<path d="M-44.8,-28.1 L-48.3,-28.6 L-51.7,-28 L-54.9,-26.2 L-57.6,-23.4 L-59.7,-19.9 L-61.1,-15.7 L-61.6,-11.2 L-61.2,-6.7 L-60,-2.5 L-58,1.2 L-55.3,4.1 L-52.1,6 L-48.7,6.8 L-45.3,6.4" fill="none" stroke="#1c1c1c" stroke-width="1"/>
<path d="M-43.8,-21.8 L-46.4,-21.2 L-48.7,-19.3 L-50.6,-16.5 L-51.8,-12.9 L-52.2,-8.9 L-51.8,-4.9 L-50.6,-1.3 L-48.7,1.5 L-46.4,3.4 L-43.8,4 L-10.6,9.2 L-10.6,-12.5 Z" fill="#ebebeb" stroke="#1c1c1c" stroke-width="1"/>
<path d="M-9.6,-13.4 L-11.5,-13 L-13.3,-11.8 L-14.8,-9.9 L-16,-7.4 L-16.7,-4.5 L-17,-1.4 L-16.7,1.7 L-16,4.6 L-14.8,7.1 L-13.3,9 L-11.5,10.2 L-9.6,10.6 L-0.2,10.3 L0,10.3 L1.9,9.9 L3.6,8.9 L5.1,7.3 L6.3,5.2 L7,2.7 L7.2,0 L7,-2.7 L6.3,-5.2 L5.1,-7.3 L3.6,-8.9 L1.9,-9.9 L0,-10.3Z" fill="#ebebeb" stroke="#1c1c1c" stroke-width="1"/>
<path d="M-5.7,-12.3 L-7.5,-11.8 L-9.2,-10.6 L-10.7,-8.8 L-11.8,-6.4 L-12.5,-3.7 L-12.7,-0.8 L-12.5,2.1 L-11.8,4.8 L-10.7,7.2 L-9.2,9 L-7.5,10.2 L-5.7,10.7" fill="none" stroke="#1c1c1c" stroke-width="0.8"/>
<path d="M-4.7,-11.9 L-6.8,-11.1 L-8.7,-9.5 L-10.1,-7 L-11.1,-3.9 L-11.4,-0.6 L-11.1,2.7 L-10.1,5.8 L-8.7,8.3 L-6.8,9.9 L-4.7,10.7" fill="none" stroke="#444" stroke-width="0.5"/>
<path d="M-3.6,-11.5 L-5.7,-10.8 L-7.6,-9.1 L-9,-6.7 L-10,-3.7 L-10.3,-0.4 L-10,2.8 L-9,5.8 L-7.6,8.2 L-5.7,9.9 L-3.6,10.6" fill="none" stroke="#444" stroke-width="0.5"/>
<path d="M-2.5,-11.1 L-4.6,-10.4 L-6.5,-8.8 L-7.9,-6.4 L-8.9,-3.5 L-9.2,-0.3 L-8.9,2.9 L-7.9,5.8 L-6.5,8.2 L-4.6,9.8 L-2.5,10.5" fill="none" stroke="#444" stroke-width="0.5"/>
<ellipse cx="0" cy="0" rx="7.25" ry="10.3" fill="#ebebeb" stroke="#1c1c1c" stroke-width="1"/>
<ellipse cx="0.6" cy="0" rx="6.1" ry="9.2" fill="#ebebeb" stroke="#1c1c1c" stroke-width="0.8"/>
</g>
<g transform="translate(364.1,270.2)">
<path d="M-183.4,-7.1 L-187.1,-8.4 L-190.4,-10.9 L-193.3,-14.4 L-195.5,-18.7 L-197,-23.8 L-197.8,-29.5 L-197.8,-35.4 L-197,-41.5 L-195.5,-47.3 L-193.2,-52.8 L-190.4,-57.8 L-187,-61.9 L-183.3,-65.1 L-179.4,-67.3 L-175.4,-68.3 L-171.4,-68.1 L-65.1,-46.2 C-51.6,-43.4 -40.6,-33.4 -36.6,-21.9 L-43.6,7.1 C-48.6,14.6 -55.6,18.2 -65.1,18.4Z" fill="#ebebeb" stroke="#1c1c1c" stroke-width="1"/>
<path d="M-65.1,-46.2 L-69.9,-45.6 L-74.5,-43.7 L-78.7,-40.8 L-82.4,-36.7 L-85.5,-31.8 L-87.7,-26.3 L-89.1,-20.2 L-89.6,-13.9 L-89.1,-7.6 L-87.7,-1.5 L-85.5,4 L-82.4,8.9 L-78.7,13 L-74.5,15.9 L-69.9,17.8 L-65.1,18.4" fill="none" stroke="#1c1c1c" stroke-width="1"/>
<path d="M-44.8,-32.6 L-49.3,-33.4 L-53.8,-32.8 L-58.1,-30.7 L-61.8,-27.4 L-64.6,-23 L-66.4,-17.8 L-67.1,-12.3 L-66.6,-6.7 L-64.9,-1.5 L-62.2,3 L-58.6,6.5 L-54.4,8.8 L-49.9,9.6 L-45.4,9" fill="none" stroke="#1c1c1c" stroke-width="1"/>
<path d="M-44.8,-28.1 L-48.3,-28.6 L-51.7,-28 L-54.9,-26.2 L-57.6,-23.4 L-59.7,-19.9 L-61.1,-15.7 L-61.6,-11.2 L-61.2,-6.7 L-60,-2.5 L-58,1.2 L-55.3,4.1 L-52.1,6 L-48.7,6.8 L-45.3,6.4" fill="none" stroke="#1c1c1c" stroke-width="1"/>
<path d="M-43.8,-21.8 L-46.4,-21.2 L-48.7,-19.3 L-50.6,-16.5 L-51.8,-12.9 L-52.2,-8.9 L-51.8,-4.9 L-50.6,-1.3 L-48.7,1.5 L-46.4,3.4 L-43.8,4 L-10.6,9.2 L-10.6,-12.5 Z" fill="#ebebeb" stroke="#1c1c1c" stroke-width="1"/>
<path d="M-9.6,-13.4 L-11.5,-13 L-13.3,-11.8 L-14.8,-9.9 L-16,-7.4 L-16.7,-4.5 L-17,-1.4 L-16.7,1.7 L-16,4.6 L-14.8,7.1 L-13.3,9 L-11.5,10.2 L-9.6,10.6 L-0.2,10.3 L0,10.3 L1.9,9.9 L3.6,8.9 L5.1,7.3 L6.3,5.2 L7,2.7 L7.2,0 L7,-2.7 L6.3,-5.2 L5.1,-7.3 L3.6,-8.9 L1.9,-9.9 L0,-10.3Z" fill="#ebebeb" stroke="#1c1c1c" stroke-width="1"/>
<path d="M-5.7,-12.3 L-7.5,-11.8 L-9.2,-10.6 L-10.7,-8.8 L-11.8,-6.4 L-12.5,-3.7 L-12.7,-0.8 L-12.5,2.1 L-11.8,4.8 L-10.7,7.2 L-9.2,9 L-7.5,10.2 L-5.7,10.7" fill="none" stroke="#1c1c1c" stroke-width="0.8"/>
<path d="M-4.7,-11.9 L-6.8,-11.1 L-8.7,-9.5 L-10.1,-7 L-11.1,-3.9 L-11.4,-0.6 L-11.1,2.7 L-10.1,5.8 L-8.7,8.3 L-6.8,9.9 L-4.7,10.7" fill="none" stroke="#444" stroke-width="0.5"/>
<path d="M-3.6,-11.5 L-5.7,-10.8 L-7.6,-9.1 L-9,-6.7 L-10,-3.7 L-10.3,-0.4 L-10,2.8 L-9,5.8 L-7.6,8.2 L-5.7,9.9 L-3.6,10.6" fill="none" stroke="#444" stroke-width="0.5"/>
<path d="M-2.5,-11.1 L-4.6,-10.4 L-6.5,-8.8 L-7.9,-6.4 L-8.9,-3.5 L-9.2,-0.3 L-8.9,2.9 L-7.9,5.8 L-6.5,8.2 L-4.6,9.8 L-2.5,10.5" fill="none" stroke="#444" stroke-width="0.5"/>
<ellipse cx="0" cy="0" rx="7.25" ry="10.3" fill="#ebebeb" stroke="#1c1c1c" stroke-width="1"/>
<ellipse cx="0.6" cy="0" rx="6.1" ry="9.2" fill="#ebebeb" stroke="#1c1c1c" stroke-width="0.8"/>
</g>
<g transform="translate(311,281.7)">
<path d="M-183.4,-7.1 L-187.1,-8.4 L-190.4,-10.9 L-193.3,-14.4 L-195.5,-18.7 L-197,-23.8 L-197.8,-29.5 L-197.8,-35.4 L-197,-41.5 L-195.5,-47.3 L-193.2,-52.8 L-190.4,-57.8 L-187,-61.9 L-183.3,-65.1 L-179.4,-67.3 L-175.4,-68.3 L-171.4,-68.1 L-65.1,-46.2 C-51.6,-43.4 -40.6,-33.4 -36.6,-21.9 L-43.6,7.1 C-48.6,14.6 -55.6,18.2 -65.1,18.4Z" fill="#ebebeb" stroke="#1c1c1c" stroke-width="1"/>
<path d="M-65.1,-46.2 L-69.9,-45.6 L-74.5,-43.7 L-78.7,-40.8 L-82.4,-36.7 L-85.5,-31.8 L-87.7,-26.3 L-89.1,-20.2 L-89.6,-13.9 L-89.1,-7.6 L-87.7,-1.5 L-85.5,4 L-82.4,8.9 L-78.7,13 L-74.5,15.9 L-69.9,17.8 L-65.1,18.4" fill="none" stroke="#1c1c1c" stroke-width="1"/>
<path d="M-44.8,-32.6 L-49.3,-33.4 L-53.8,-32.8 L-58.1,-30.7 L-61.8,-27.4 L-64.6,-23 L-66.4,-17.8 L-67.1,-12.3 L-66.6,-6.7 L-64.9,-1.5 L-62.2,3 L-58.6,6.5 L-54.4,8.8 L-49.9,9.6 L-45.4,9" fill="none" stroke="#1c1c1c" stroke-width="1"/>
<path d="M-44.8,-28.1 L-48.3,-28.6 L-51.7,-28 L-54.9,-26.2 L-57.6,-23.4 L-59.7,-19.9 L-61.1,-15.7 L-61.6,-11.2 L-61.2,-6.7 L-60,-2.5 L-58,1.2 L-55.3,4.1 L-52.1,6 L-48.7,6.8 L-45.3,6.4" fill="none" stroke="#1c1c1c" stroke-width="1"/>
<path d="M-43.8,-21.8 L-46.4,-21.2 L-48.7,-19.3 L-50.6,-16.5 L-51.8,-12.9 L-52.2,-8.9 L-51.8,-4.9 L-50.6,-1.3 L-48.7,1.5 L-46.4,3.4 L-43.8,4 L-10.6,9.2 L-10.6,-12.5 Z" fill="#ebebeb" stroke="#1c1c1c" stroke-width="1"/>
<path d="M-9.6,-13.4 L-11.5,-13 L-13.3,-11.8 L-14.8,-9.9 L-16,-7.4 L-16.7,-4.5 L-17,-1.4 L-16.7,1.7 L-16,4.6 L-14.8,7.1 L-13.3,9 L-11.5,10.2 L-9.6,10.6 L-0.2,10.3 L0,10.3 L1.9,9.9 L3.6,8.9 L5.1,7.3 L6.3,5.2 L7,2.7 L7.2,0 L7,-2.7 L6.3,-5.2 L5.1,-7.3 L3.6,-8.9 L1.9,-9.9 L0,-10.3Z" fill="#ebebeb" stroke="#1c1c1c" stroke-width="1"/>
<path d="M-5.7,-12.3 L-7.5,-11.8 L-9.2,-10.6 L-10.7,-8.8 L-11.8,-6.4 L-12.5,-3.7 L-12.7,-0.8 L-12.5,2.1 L-11.8,4.8 L-10.7,7.2 L-9.2,9 L-7.5,10.2 L-5.7,10.7" fill="none" stroke="#1c1c1c" stroke-width="0.8"/>
<path d="M-4.7,-11.9 L-6.8,-11.1 L-8.7,-9.5 L-10.1,-7 L-11.1,-3.9 L-11.4,-0.6 L-11.1,2.7 L-10.1,5.8 L-8.7,8.3 L-6.8,9.9 L-4.7,10.7" fill="none" stroke="#444" stroke-width="0.5"/>
<path d="M-3.6,-11.5 L-5.7,-10.8 L-7.6,-9.1 L-9,-6.7 L-10,-3.7 L-10.3,-0.4 L-10,2.8 L-9,5.8 L-7.6,8.2 L-5.7,9.9 L-3.6,10.6" fill="none" stroke="#444" stroke-width="0.5"/>
<path d="M-2.5,-11.1 L-4.6,-10.4 L-6.5,-8.8 L-7.9,-6.4 L-8.9,-3.5 L-9.2,-0.3 L-8.9,2.9 L-7.9,5.8 L-6.5,8.2 L-4.6,9.8 L-2.5,10.5" fill="none" stroke="#444" stroke-width="0.5"/>
<ellipse cx="0" cy="0" rx="7.25" ry="10.3" fill="#ebebeb" stroke="#1c1c1c" stroke-width="1"/>
<ellipse cx="0.6" cy="0" rx="6.1" ry="9.2" fill="#ebebeb" stroke="#1c1c1c" stroke-width="0.8"/>
</g>
<path d="M89,267 L285.5,311.2 L285.5,321.6 L78,279.3 L78,265.6Z" fill="#fff" stroke="none" stroke-width="0"/>
<path d="M89,268.3 L285.5,312.5" fill="none" stroke="#1c1c1c" stroke-width="0.8"/>
<path d="M78.5,271.7 L285.5,315.6" fill="none" stroke="#1c1c1c" stroke-width="0.8"/>
<path d="M78.5,275.2 L285.5,318.7" fill="none" stroke="#1c1c1c" stroke-width="0.8"/>
<path d="M78.5,279.6 L285.5,321.6" fill="none" stroke="#1c1c1c" stroke-width="1.5"/>
<path d="M77,279.8 L77,265.1" fill="none" stroke="#1c1c1c" stroke-width="1"/>
<path d="M77,279.8 L78.5,279.6" fill="none" stroke="#1c1c1c" stroke-width="1"/>
<path d="M80,280.2 q1,3 5,3.4 l4,0.6 q2.5,-0.3 2.5,-2.2" fill="#fff" stroke="#1c1c1c" stroke-width="0.7"/>
<path d="M285.5,309.3 L546.3,252.5 L550.6,253.3 L553.5,257.5 L553.5,257.5 L289.5,314Z" fill="#fff" stroke="#1c1c1c" stroke-width="1"/>
<path d="M289.5,314 L553.5,257.5 L553.5,275.2 L551.7,276.5 L290,332Z" fill="#fff" stroke="#1c1c1c" stroke-width="1"/>
<path d="M285.5,309.3 L285.5,316.3 L288.5,317.3 L288.5,324.8 L285.5,325.8 L285.5,331.1 L290,332 L289.5,314Z" fill="#fff" stroke="#1c1c1c" stroke-width="1"/>
<path d="M105,169.2 L285.5,211.8 L285.5,206.8 L546.3,150 L365.8,107.4Z" fill="#fff" stroke="none" stroke-width="0"/>
<path d="M137.1,168.7 L291.6,205.5" fill="none" stroke="#222" stroke-width="0.8"/>
<path d="M143.2,167.3 L297.7,204.1" fill="none" stroke="#666" stroke-width="0.6"/>
<path d="M149.3,166 L303.8,202.8" fill="none" stroke="#222" stroke-width="0.8"/>
<path d="M155.4,164.7 L309.9,201.5" fill="none" stroke="#666" stroke-width="0.6"/>
<path d="M161.5,163.4 L316,200.2" fill="none" stroke="#222" stroke-width="0.8"/>
<path d="M167.6,162 L322.1,198.8" fill="none" stroke="#666" stroke-width="0.6"/>
<path d="M173.6,160.7 L328.1,197.5" fill="none" stroke="#222" stroke-width="0.8"/>
<path d="M179.7,159.4 L334.2,196.2" fill="none" stroke="#666" stroke-width="0.6"/>
<path d="M185.8,158.1 L340.3,194.9" fill="none" stroke="#222" stroke-width="0.8"/>
<path d="M191.9,156.7 L346.4,193.5" fill="none" stroke="#666" stroke-width="0.6"/>
<path d="M198,155.4 L352.5,192.2" fill="none" stroke="#222" stroke-width="0.8"/>
<path d="M204.1,154.1 L358.6,190.9" fill="none" stroke="#666" stroke-width="0.6"/>
<path d="M210.2,152.8 L364.7,189.6" fill="none" stroke="#222" stroke-width="0.8"/>
<path d="M216.3,151.4 L370.8,188.2" fill="none" stroke="#666" stroke-width="0.6"/>
<path d="M222.4,150.1 L376.9,186.9" fill="none" stroke="#222" stroke-width="0.8"/>
<path d="M228.5,148.8 L383,185.6" fill="none" stroke="#666" stroke-width="0.6"/>
<path d="M234.6,147.4 L389.1,184.2" fill="none" stroke="#222" stroke-width="0.8"/>
<path d="M240.7,146.1 L395.2,182.9" fill="none" stroke="#666" stroke-width="0.6"/>
<path d="M246.8,144.8 L401.3,181.6" fill="none" stroke="#222" stroke-width="0.8"/>
<path d="M252.8,143.5 L407.3,180.3" fill="none" stroke="#666" stroke-width="0.6"/>
<path d="M258.9,142.1 L413.4,178.9" fill="none" stroke="#222" stroke-width="0.8"/>
<path d="M265,140.8 L419.5,177.6" fill="none" stroke="#666" stroke-width="0.6"/>
<path d="M271.1,139.5 L425.6,176.3" fill="none" stroke="#222" stroke-width="0.8"/>
<path d="M277.2,138.2 L431.7,175" fill="none" stroke="#666" stroke-width="0.6"/>
<path d="M283.3,136.8 L437.8,173.6" fill="none" stroke="#222" stroke-width="0.8"/>
<path d="M289.4,135.5 L443.9,172.3" fill="none" stroke="#666" stroke-width="0.6"/>
<path d="M295.5,134.2 L450,171" fill="none" stroke="#222" stroke-width="0.8"/>
<path d="M301.6,132.8 L456.1,169.6" fill="none" stroke="#666" stroke-width="0.6"/>
<path d="M307.7,131.5 L462.2,168.3" fill="none" stroke="#222" stroke-width="0.8"/>
<path d="M313.8,130.2 L468.3,167" fill="none" stroke="#666" stroke-width="0.6"/>
<path d="M319.9,128.9 L474.4,165.7" fill="none" stroke="#222" stroke-width="0.8"/>
<path d="M326,127.5 L480.5,164.3" fill="none" stroke="#666" stroke-width="0.6"/>
<path d="M332.1,126.2 L486.6,163" fill="none" stroke="#222" stroke-width="0.8"/>
<path d="M338.1,124.9 L492.6,161.7" fill="none" stroke="#666" stroke-width="0.6"/>
<path d="M344.2,123.6 L498.7,160.4" fill="none" stroke="#222" stroke-width="0.8"/>
<path d="M350.3,122.2 L504.8,159" fill="none" stroke="#666" stroke-width="0.6"/>
<path d="M356.4,120.9 L510.9,157.7" fill="none" stroke="#222" stroke-width="0.8"/>
<path d="M362.5,119.6 L517,156.4" fill="none" stroke="#666" stroke-width="0.6"/>
<path d="M105,168.9 Q105,165.8 108,165.2 L145,157.6" fill="none" stroke="#1c1c1c" stroke-width="1"/>
<g transform="translate(523,134.6)">
<path d="M-183.4,-7.1 L-187.1,-8.4 L-190.4,-10.9 L-193.3,-14.4 L-195.5,-18.7 L-197,-23.8 L-197.8,-29.5 L-197.8,-35.4 L-197,-41.5 L-195.5,-47.3 L-193.2,-52.8 L-190.4,-57.8 L-187,-61.9 L-183.3,-65.1 L-179.4,-67.3 L-175.4,-68.3 L-171.4,-68.1 L-65.1,-46.2 C-51.6,-43.4 -40.6,-33.4 -36.6,-21.9 L-43.6,7.1 C-48.6,14.6 -55.6,18.2 -65.1,18.4Z" fill="#ebebeb" stroke="#1c1c1c" stroke-width="1"/>
<path d="M-65.1,-46.2 L-69.9,-45.6 L-74.5,-43.7 L-78.7,-40.8 L-82.4,-36.7 L-85.5,-31.8 L-87.7,-26.3 L-89.1,-20.2 L-89.6,-13.9 L-89.1,-7.6 L-87.7,-1.5 L-85.5,4 L-82.4,8.9 L-78.7,13 L-74.5,15.9 L-69.9,17.8 L-65.1,18.4" fill="none" stroke="#1c1c1c" stroke-width="1"/>
<path d="M-44.8,-32.6 L-49.3,-33.4 L-53.8,-32.8 L-58.1,-30.7 L-61.8,-27.4 L-64.6,-23 L-66.4,-17.8 L-67.1,-12.3 L-66.6,-6.7 L-64.9,-1.5 L-62.2,3 L-58.6,6.5 L-54.4,8.8 L-49.9,9.6 L-45.4,9" fill="none" stroke="#1c1c1c" stroke-width="1"/>
<path d="M-44.8,-28.1 L-48.3,-28.6 L-51.7,-28 L-54.9,-26.2 L-57.6,-23.4 L-59.7,-19.9 L-61.1,-15.7 L-61.6,-11.2 L-61.2,-6.7 L-60,-2.5 L-58,1.2 L-55.3,4.1 L-52.1,6 L-48.7,6.8 L-45.3,6.4" fill="none" stroke="#1c1c1c" stroke-width="1"/>
<path d="M-43.8,-21.8 L-46.4,-21.2 L-48.7,-19.3 L-50.6,-16.5 L-51.8,-12.9 L-52.2,-8.9 L-51.8,-4.9 L-50.6,-1.3 L-48.7,1.5 L-46.4,3.4 L-43.8,4 L-10.6,9.2 L-10.6,-12.5 Z" fill="#ebebeb" stroke="#1c1c1c" stroke-width="1"/>
<path d="M-9.6,-13.4 L-11.5,-13 L-13.3,-11.8 L-14.8,-9.9 L-16,-7.4 L-16.7,-4.5 L-17,-1.4 L-16.7,1.7 L-16,4.6 L-14.8,7.1 L-13.3,9 L-11.5,10.2 L-9.6,10.6 L-0.2,10.3 L0,10.3 L1.9,9.9 L3.6,8.9 L5.1,7.3 L6.3,5.2 L7,2.7 L7.2,0 L7,-2.7 L6.3,-5.2 L5.1,-7.3 L3.6,-8.9 L1.9,-9.9 L0,-10.3Z" fill="#ebebeb" stroke="#1c1c1c" stroke-width="1"/>
<path d="M-5.7,-12.3 L-7.5,-11.8 L-9.2,-10.6 L-10.7,-8.8 L-11.8,-6.4 L-12.5,-3.7 L-12.7,-0.8 L-12.5,2.1 L-11.8,4.8 L-10.7,7.2 L-9.2,9 L-7.5,10.2 L-5.7,10.7" fill="none" stroke="#1c1c1c" stroke-width="0.8"/>
<path d="M-4.7,-11.9 L-6.8,-11.1 L-8.7,-9.5 L-10.1,-7 L-11.1,-3.9 L-11.4,-0.6 L-11.1,2.7 L-10.1,5.8 L-8.7,8.3 L-6.8,9.9 L-4.7,10.7" fill="none" stroke="#444" stroke-width="0.5"/>
<path d="M-3.6,-11.5 L-5.7,-10.8 L-7.6,-9.1 L-9,-6.7 L-10,-3.7 L-10.3,-0.4 L-10,2.8 L-9,5.8 L-7.6,8.2 L-5.7,9.9 L-3.6,10.6" fill="none" stroke="#444" stroke-width="0.5"/>
<path d="M-2.5,-11.1 L-4.6,-10.4 L-6.5,-8.8 L-7.9,-6.4 L-8.9,-3.5 L-9.2,-0.3 L-8.9,2.9 L-7.9,5.8 L-6.5,8.2 L-4.6,9.8 L-2.5,10.5" fill="none" stroke="#444" stroke-width="0.5"/>
<ellipse cx="0" cy="0" rx="7.25" ry="10.3" fill="#ebebeb" stroke="#1c1c1c" stroke-width="1"/>
<ellipse cx="0.6" cy="0" rx="6.1" ry="9.2" fill="#ebebeb" stroke="#1c1c1c" stroke-width="0.8"/>
</g>
<g transform="translate(469.9,146.1)">
<path d="M-183.4,-7.1 L-187.1,-8.4 L-190.4,-10.9 L-193.3,-14.4 L-195.5,-18.7 L-197,-23.8 L-197.8,-29.5 L-197.8,-35.4 L-197,-41.5 L-195.5,-47.3 L-193.2,-52.8 L-190.4,-57.8 L-187,-61.9 L-183.3,-65.1 L-179.4,-67.3 L-175.4,-68.3 L-171.4,-68.1 L-65.1,-46.2 C-51.6,-43.4 -40.6,-33.4 -36.6,-21.9 L-43.6,7.1 C-48.6,14.6 -55.6,18.2 -65.1,18.4Z" fill="#ebebeb" stroke="#1c1c1c" stroke-width="1"/>
<path d="M-65.1,-46.2 L-69.9,-45.6 L-74.5,-43.7 L-78.7,-40.8 L-82.4,-36.7 L-85.5,-31.8 L-87.7,-26.3 L-89.1,-20.2 L-89.6,-13.9 L-89.1,-7.6 L-87.7,-1.5 L-85.5,4 L-82.4,8.9 L-78.7,13 L-74.5,15.9 L-69.9,17.8 L-65.1,18.4" fill="none" stroke="#1c1c1c" stroke-width="1"/>
<path d="M-44.8,-32.6 L-49.3,-33.4 L-53.8,-32.8 L-58.1,-30.7 L-61.8,-27.4 L-64.6,-23 L-66.4,-17.8 L-67.1,-12.3 L-66.6,-6.7 L-64.9,-1.5 L-62.2,3 L-58.6,6.5 L-54.4,8.8 L-49.9,9.6 L-45.4,9" fill="none" stroke="#1c1c1c" stroke-width="1"/>
<path d="M-44.8,-28.1 L-48.3,-28.6 L-51.7,-28 L-54.9,-26.2 L-57.6,-23.4 L-59.7,-19.9 L-61.1,-15.7 L-61.6,-11.2 L-61.2,-6.7 L-60,-2.5 L-58,1.2 L-55.3,4.1 L-52.1,6 L-48.7,6.8 L-45.3,6.4" fill="none" stroke="#1c1c1c" stroke-width="1"/>
<path d="M-43.8,-21.8 L-46.4,-21.2 L-48.7,-19.3 L-50.6,-16.5 L-51.8,-12.9 L-52.2,-8.9 L-51.8,-4.9 L-50.6,-1.3 L-48.7,1.5 L-46.4,3.4 L-43.8,4 L-10.6,9.2 L-10.6,-12.5 Z" fill="#ebebeb" stroke="#1c1c1c" stroke-width="1"/>
<path d="M-9.6,-13.4 L-11.5,-13 L-13.3,-11.8 L-14.8,-9.9 L-16,-7.4 L-16.7,-4.5 L-17,-1.4 L-16.7,1.7 L-16,4.6 L-14.8,7.1 L-13.3,9 L-11.5,10.2 L-9.6,10.6 L-0.2,10.3 L0,10.3 L1.9,9.9 L3.6,8.9 L5.1,7.3 L6.3,5.2 L7,2.7 L7.2,0 L7,-2.7 L6.3,-5.2 L5.1,-7.3 L3.6,-8.9 L1.9,-9.9 L0,-10.3Z" fill="#ebebeb" stroke="#1c1c1c" stroke-width="1"/>
<path d="M-5.7,-12.3 L-7.5,-11.8 L-9.2,-10.6 L-10.7,-8.8 L-11.8,-6.4 L-12.5,-3.7 L-12.7,-0.8 L-12.5,2.1 L-11.8,4.8 L-10.7,7.2 L-9.2,9 L-7.5,10.2 L-5.7,10.7" fill="none" stroke="#1c1c1c" stroke-width="0.8"/>
<path d="M-4.7,-11.9 L-6.8,-11.1 L-8.7,-9.5 L-10.1,-7 L-11.1,-3.9 L-11.4,-0.6 L-11.1,2.7 L-10.1,5.8 L-8.7,8.3 L-6.8,9.9 L-4.7,10.7" fill="none" stroke="#444" stroke-width="0.5"/>
<path d="M-3.6,-11.5 L-5.7,-10.8 L-7.6,-9.1 L-9,-6.7 L-10,-3.7 L-10.3,-0.4 L-10,2.8 L-9,5.8 L-7.6,8.2 L-5.7,9.9 L-3.6,10.6" fill="none" stroke="#444" stroke-width="0.5"/>
<path d="M-2.5,-11.1 L-4.6,-10.4 L-6.5,-8.8 L-7.9,-6.4 L-8.9,-3.5 L-9.2,-0.3 L-8.9,2.9 L-7.9,5.8 L-6.5,8.2 L-4.6,9.8 L-2.5,10.5" fill="none" stroke="#444" stroke-width="0.5"/>
<ellipse cx="0" cy="0" rx="7.25" ry="10.3" fill="#ebebeb" stroke="#1c1c1c" stroke-width="1"/>
<ellipse cx="0.6" cy="0" rx="6.1" ry="9.2" fill="#ebebeb" stroke="#1c1c1c" stroke-width="0.8"/>
</g>
<g transform="translate(416.8,157.5)">
<path d="M-183.4,-7.1 L-187.1,-8.4 L-190.4,-10.9 L-193.3,-14.4 L-195.5,-18.7 L-197,-23.8 L-197.8,-29.5 L-197.8,-35.4 L-197,-41.5 L-195.5,-47.3 L-193.2,-52.8 L-190.4,-57.8 L-187,-61.9 L-183.3,-65.1 L-179.4,-67.3 L-175.4,-68.3 L-171.4,-68.1 L-65.1,-46.2 C-51.6,-43.4 -40.6,-33.4 -36.6,-21.9 L-43.6,7.1 C-48.6,14.6 -55.6,18.2 -65.1,18.4Z" fill="#ebebeb" stroke="#1c1c1c" stroke-width="1"/>
<path d="M-65.1,-46.2 L-69.9,-45.6 L-74.5,-43.7 L-78.7,-40.8 L-82.4,-36.7 L-85.5,-31.8 L-87.7,-26.3 L-89.1,-20.2 L-89.6,-13.9 L-89.1,-7.6 L-87.7,-1.5 L-85.5,4 L-82.4,8.9 L-78.7,13 L-74.5,15.9 L-69.9,17.8 L-65.1,18.4" fill="none" stroke="#1c1c1c" stroke-width="1"/>
<path d="M-44.8,-32.6 L-49.3,-33.4 L-53.8,-32.8 L-58.1,-30.7 L-61.8,-27.4 L-64.6,-23 L-66.4,-17.8 L-67.1,-12.3 L-66.6,-6.7 L-64.9,-1.5 L-62.2,3 L-58.6,6.5 L-54.4,8.8 L-49.9,9.6 L-45.4,9" fill="none" stroke="#1c1c1c" stroke-width="1"/>
<path d="M-44.8,-28.1 L-48.3,-28.6 L-51.7,-28 L-54.9,-26.2 L-57.6,-23.4 L-59.7,-19.9 L-61.1,-15.7 L-61.6,-11.2 L-61.2,-6.7 L-60,-2.5 L-58,1.2 L-55.3,4.1 L-52.1,6 L-48.7,6.8 L-45.3,6.4" fill="none" stroke="#1c1c1c" stroke-width="1"/>
<path d="M-43.8,-21.8 L-46.4,-21.2 L-48.7,-19.3 L-50.6,-16.5 L-51.8,-12.9 L-52.2,-8.9 L-51.8,-4.9 L-50.6,-1.3 L-48.7,1.5 L-46.4,3.4 L-43.8,4 L-10.6,9.2 L-10.6,-12.5 Z" fill="#ebebeb" stroke="#1c1c1c" stroke-width="1"/>
<path d="M-9.6,-13.4 L-11.5,-13 L-13.3,-11.8 L-14.8,-9.9 L-16,-7.4 L-16.7,-4.5 L-17,-1.4 L-16.7,1.7 L-16,4.6 L-14.8,7.1 L-13.3,9 L-11.5,10.2 L-9.6,10.6 L-0.2,10.3 L0,10.3 L1.9,9.9 L3.6,8.9 L5.1,7.3 L6.3,5.2 L7,2.7 L7.2,0 L7,-2.7 L6.3,-5.2 L5.1,-7.3 L3.6,-8.9 L1.9,-9.9 L0,-10.3Z" fill="#ebebeb" stroke="#1c1c1c" stroke-width="1"/>
<path d="M-5.7,-12.3 L-7.5,-11.8 L-9.2,-10.6 L-10.7,-8.8 L-11.8,-6.4 L-12.5,-3.7 L-12.7,-0.8 L-12.5,2.1 L-11.8,4.8 L-10.7,7.2 L-9.2,9 L-7.5,10.2 L-5.7,10.7" fill="none" stroke="#1c1c1c" stroke-width="0.8"/>
<path d="M-4.7,-11.9 L-6.8,-11.1 L-8.7,-9.5 L-10.1,-7 L-11.1,-3.9 L-11.4,-0.6 L-11.1,2.7 L-10.1,5.8 L-8.7,8.3 L-6.8,9.9 L-4.7,10.7" fill="none" stroke="#444" stroke-width="0.5"/>
<path d="M-3.6,-11.5 L-5.7,-10.8 L-7.6,-9.1 L-9,-6.7 L-10,-3.7 L-10.3,-0.4 L-10,2.8 L-9,5.8 L-7.6,8.2 L-5.7,9.9 L-3.6,10.6" fill="none" stroke="#444" stroke-width="0.5"/>
<path d="M-2.5,-11.1 L-4.6,-10.4 L-6.5,-8.8 L-7.9,-6.4 L-8.9,-3.5 L-9.2,-0.3 L-8.9,2.9 L-7.9,5.8 L-6.5,8.2 L-4.6,9.8 L-2.5,10.5" fill="none" stroke="#444" stroke-width="0.5"/>
<ellipse cx="0" cy="0" rx="7.25" ry="10.3" fill="#ebebeb" stroke="#1c1c1c" stroke-width="1"/>
<ellipse cx="0.6" cy="0" rx="6.1" ry="9.2" fill="#ebebeb" stroke="#1c1c1c" stroke-width="0.8"/>
</g>
<g transform="translate(363.7,169)">
<path d="M-183.4,-7.1 L-187.1,-8.4 L-190.4,-10.9 L-193.3,-14.4 L-195.5,-18.7 L-197,-23.8 L-197.8,-29.5 L-197.8,-35.4 L-197,-41.5 L-195.5,-47.3 L-193.2,-52.8 L-190.4,-57.8 L-187,-61.9 L-183.3,-65.1 L-179.4,-67.3 L-175.4,-68.3 L-171.4,-68.1 L-65.1,-46.2 C-51.6,-43.4 -40.6,-33.4 -36.6,-21.9 L-43.6,7.1 C-48.6,14.6 -55.6,18.2 -65.1,18.4Z" fill="#ebebeb" stroke="#1c1c1c" stroke-width="1"/>
<path d="M-65.1,-46.2 L-69.9,-45.6 L-74.5,-43.7 L-78.7,-40.8 L-82.4,-36.7 L-85.5,-31.8 L-87.7,-26.3 L-89.1,-20.2 L-89.6,-13.9 L-89.1,-7.6 L-87.7,-1.5 L-85.5,4 L-82.4,8.9 L-78.7,13 L-74.5,15.9 L-69.9,17.8 L-65.1,18.4" fill="none" stroke="#1c1c1c" stroke-width="1"/>
<path d="M-44.8,-32.6 L-49.3,-33.4 L-53.8,-32.8 L-58.1,-30.7 L-61.8,-27.4 L-64.6,-23 L-66.4,-17.8 L-67.1,-12.3 L-66.6,-6.7 L-64.9,-1.5 L-62.2,3 L-58.6,6.5 L-54.4,8.8 L-49.9,9.6 L-45.4,9" fill="none" stroke="#1c1c1c" stroke-width="1"/>
<path d="M-44.8,-28.1 L-48.3,-28.6 L-51.7,-28 L-54.9,-26.2 L-57.6,-23.4 L-59.7,-19.9 L-61.1,-15.7 L-61.6,-11.2 L-61.2,-6.7 L-60,-2.5 L-58,1.2 L-55.3,4.1 L-52.1,6 L-48.7,6.8 L-45.3,6.4" fill="none" stroke="#1c1c1c" stroke-width="1"/>
<path d="M-43.8,-21.8 L-46.4,-21.2 L-48.7,-19.3 L-50.6,-16.5 L-51.8,-12.9 L-52.2,-8.9 L-51.8,-4.9 L-50.6,-1.3 L-48.7,1.5 L-46.4,3.4 L-43.8,4 L-10.6,9.2 L-10.6,-12.5 Z" fill="#ebebeb" stroke="#1c1c1c" stroke-width="1"/>
<path d="M-9.6,-13.4 L-11.5,-13 L-13.3,-11.8 L-14.8,-9.9 L-16,-7.4 L-16.7,-4.5 L-17,-1.4 L-16.7,1.7 L-16,4.6 L-14.8,7.1 L-13.3,9 L-11.5,10.2 L-9.6,10.6 L-0.2,10.3 L0,10.3 L1.9,9.9 L3.6,8.9 L5.1,7.3 L6.3,5.2 L7,2.7 L7.2,0 L7,-2.7 L6.3,-5.2 L5.1,-7.3 L3.6,-8.9 L1.9,-9.9 L0,-10.3Z" fill="#ebebeb" stroke="#1c1c1c" stroke-width="1"/>
<path d="M-5.7,-12.3 L-7.5,-11.8 L-9.2,-10.6 L-10.7,-8.8 L-11.8,-6.4 L-12.5,-3.7 L-12.7,-0.8 L-12.5,2.1 L-11.8,4.8 L-10.7,7.2 L-9.2,9 L-7.5,10.2 L-5.7,10.7" fill="none" stroke="#1c1c1c" stroke-width="0.8"/>
<path d="M-4.7,-11.9 L-6.8,-11.1 L-8.7,-9.5 L-10.1,-7 L-11.1,-3.9 L-11.4,-0.6 L-11.1,2.7 L-10.1,5.8 L-8.7,8.3 L-6.8,9.9 L-4.7,10.7" fill="none" stroke="#444" stroke-width="0.5"/>
<path d="M-3.6,-11.5 L-5.7,-10.8 L-7.6,-9.1 L-9,-6.7 L-10,-3.7 L-10.3,-0.4 L-10,2.8 L-9,5.8 L-7.6,8.2 L-5.7,9.9 L-3.6,10.6" fill="none" stroke="#444" stroke-width="0.5"/>
<path d="M-2.5,-11.1 L-4.6,-10.4 L-6.5,-8.8 L-7.9,-6.4 L-8.9,-3.5 L-9.2,-0.3 L-8.9,2.9 L-7.9,5.8 L-6.5,8.2 L-4.6,9.8 L-2.5,10.5" fill="none" stroke="#444" stroke-width="0.5"/>
<ellipse cx="0" cy="0" rx="7.25" ry="10.3" fill="#ebebeb" stroke="#1c1c1c" stroke-width="1"/>
<ellipse cx="0.6" cy="0" rx="6.1" ry="9.2" fill="#ebebeb" stroke="#1c1c1c" stroke-width="0.8"/>
</g>
<g transform="translate(310.6,180.4)">
<path d="M-183.4,-7.1 L-187.1,-8.4 L-190.4,-10.9 L-193.3,-14.4 L-195.5,-18.7 L-197,-23.8 L-197.8,-29.5 L-197.8,-35.4 L-197,-41.5 L-195.5,-47.3 L-193.2,-52.8 L-190.4,-57.8 L-187,-61.9 L-183.3,-65.1 L-179.4,-67.3 L-175.4,-68.3 L-171.4,-68.1 L-65.1,-46.2 C-51.6,-43.4 -40.6,-33.4 -36.6,-21.9 L-43.6,7.1 C-48.6,14.6 -55.6,18.2 -65.1,18.4Z" fill="#ebebeb" stroke="#1c1c1c" stroke-width="1"/>
<path d="M-65.1,-46.2 L-69.9,-45.6 L-74.5,-43.7 L-78.7,-40.8 L-82.4,-36.7 L-85.5,-31.8 L-87.7,-26.3 L-89.1,-20.2 L-89.6,-13.9 L-89.1,-7.6 L-87.7,-1.5 L-85.5,4 L-82.4,8.9 L-78.7,13 L-74.5,15.9 L-69.9,17.8 L-65.1,18.4" fill="none" stroke="#1c1c1c" stroke-width="1"/>
<path d="M-44.8,-32.6 L-49.3,-33.4 L-53.8,-32.8 L-58.1,-30.7 L-61.8,-27.4 L-64.6,-23 L-66.4,-17.8 L-67.1,-12.3 L-66.6,-6.7 L-64.9,-1.5 L-62.2,3 L-58.6,6.5 L-54.4,8.8 L-49.9,9.6 L-45.4,9" fill="none" stroke="#1c1c1c" stroke-width="1"/>
<path d="M-44.8,-28.1 L-48.3,-28.6 L-51.7,-28 L-54.9,-26.2 L-57.6,-23.4 L-59.7,-19.9 L-61.1,-15.7 L-61.6,-11.2 L-61.2,-6.7 L-60,-2.5 L-58,1.2 L-55.3,4.1 L-52.1,6 L-48.7,6.8 L-45.3,6.4" fill="none" stroke="#1c1c1c" stroke-width="1"/>
<path d="M-43.8,-21.8 L-46.4,-21.2 L-48.7,-19.3 L-50.6,-16.5 L-51.8,-12.9 L-52.2,-8.9 L-51.8,-4.9 L-50.6,-1.3 L-48.7,1.5 L-46.4,3.4 L-43.8,4 L-10.6,9.2 L-10.6,-12.5 Z" fill="#ebebeb" stroke="#1c1c1c" stroke-width="1"/>
<path d="M-9.6,-13.4 L-11.5,-13 L-13.3,-11.8 L-14.8,-9.9 L-16,-7.4 L-16.7,-4.5 L-17,-1.4 L-16.7,1.7 L-16,4.6 L-14.8,7.1 L-13.3,9 L-11.5,10.2 L-9.6,10.6 L-0.2,10.3 L0,10.3 L1.9,9.9 L3.6,8.9 L5.1,7.3 L6.3,5.2 L7,2.7 L7.2,0 L7,-2.7 L6.3,-5.2 L5.1,-7.3 L3.6,-8.9 L1.9,-9.9 L0,-10.3Z" fill="#ebebeb" stroke="#1c1c1c" stroke-width="1"/>
<path d="M-5.7,-12.3 L-7.5,-11.8 L-9.2,-10.6 L-10.7,-8.8 L-11.8,-6.4 L-12.5,-3.7 L-12.7,-0.8 L-12.5,2.1 L-11.8,4.8 L-10.7,7.2 L-9.2,9 L-7.5,10.2 L-5.7,10.7" fill="none" stroke="#1c1c1c" stroke-width="0.8"/>
<path d="M-4.7,-11.9 L-6.8,-11.1 L-8.7,-9.5 L-10.1,-7 L-11.1,-3.9 L-11.4,-0.6 L-11.1,2.7 L-10.1,5.8 L-8.7,8.3 L-6.8,9.9 L-4.7,10.7" fill="none" stroke="#444" stroke-width="0.5"/>
<path d="M-3.6,-11.5 L-5.7,-10.8 L-7.6,-9.1 L-9,-6.7 L-10,-3.7 L-10.3,-0.4 L-10,2.8 L-9,5.8 L-7.6,8.2 L-5.7,9.9 L-3.6,10.6" fill="none" stroke="#444" stroke-width="0.5"/>
<path d="M-2.5,-11.1 L-4.6,-10.4 L-6.5,-8.8 L-7.9,-6.4 L-8.9,-3.5 L-9.2,-0.3 L-8.9,2.9 L-7.9,5.8 L-6.5,8.2 L-4.6,9.8 L-2.5,10.5" fill="none" stroke="#444" stroke-width="0.5"/>
<ellipse cx="0" cy="0" rx="7.25" ry="10.3" fill="#ebebeb" stroke="#1c1c1c" stroke-width="1"/>
<ellipse cx="0.6" cy="0" rx="6.1" ry="9.2" fill="#ebebeb" stroke="#1c1c1c" stroke-width="0.8"/>
</g>
<path d="M117,170.8 L285.5,208.7 L285.5,219.1 L106,182.5 L106,169.4Z" fill="#fff" stroke="none" stroke-width="0"/>
<path d="M117,172.1 L285.5,210" fill="none" stroke="#1c1c1c" stroke-width="0.8"/>
<path d="M106.5,175.2 L285.5,213.1" fill="none" stroke="#1c1c1c" stroke-width="0.8"/>
<path d="M106.5,178.6 L285.5,216.2" fill="none" stroke="#1c1c1c" stroke-width="0.8"/>
<path d="M106.5,182.8 L285.5,219.1" fill="none" stroke="#1c1c1c" stroke-width="1.5"/>
<path d="M105,183 L105,168.9" fill="none" stroke="#1c1c1c" stroke-width="1"/>
<path d="M105,183 L106.5,182.8" fill="none" stroke="#1c1c1c" stroke-width="1"/>
<path d="M108,183.4 q1,3 5,3.4 l4,0.6 q2.5,-0.3 2.5,-2.2" fill="#fff" stroke="#1c1c1c" stroke-width="0.7"/>
<path d="M285.5,206.8 L546.3,150 L550.6,150.8 L553.5,155 L553.5,155 L289.5,211.5Z" fill="#fff" stroke="#1c1c1c" stroke-width="1"/>
<path d="M289.5,211.5 L553.5,155 L553.5,172.7 L551.7,174 L290,229.5Z" fill="#fff" stroke="#1c1c1c" stroke-width="1"/>
<path d="M285.5,206.8 L285.5,213.8 L288.5,214.8 L288.5,222.3 L285.5,223.3 L285.5,228.6 L290,229.5 L289.5,211.5Z" fill="#fff" stroke="#1c1c1c" stroke-width="1"/>
<path d="M68,407 L68,1154" fill="none" stroke="#1c1c1c" stroke-width="1.9" stroke-dasharray="7.8 4.2" stroke-linecap="butt"/>
<path d="M77.2,693 L77.2,1104" fill="none" stroke="#1c1c1c" stroke-width="1.9" stroke-dasharray="7.8 4.2" stroke-linecap="butt"/>
<path d="M106,560 L106,1058" fill="none" stroke="#1c1c1c" stroke-width="1.9" stroke-dasharray="7.8 4.2" stroke-linecap="butt"/>
<path d="M168.3,708 L168.3,1019" fill="none" stroke="#1c1c1c" stroke-width="1.9" stroke-dasharray="7.8 4.2" stroke-linecap="butt"/>
<path d="M290.6,509.5 L290.6,1200" fill="none" stroke="#1c1c1c" stroke-width="1.9" stroke-dasharray="7.8 4.2" stroke-linecap="butt"/>
<g opacity="0.999">
<path d="M168.3,1014.8 L290.6,1039.2" fill="none" stroke="#1c1c1c" stroke-width="1.8" stroke-linecap="butt"/>
<path d="M168.3,1010.3 L168.3,1020.8" fill="none" stroke="#1c1c1c" stroke-width="1.9" stroke-linecap="butt"/>
<path d="M290.6,1034.2 L290.6,1043.7" fill="none" stroke="#1c1c1c" stroke-width="1.9" stroke-linecap="butt"/>
<text x="0" y="0" transform="translate(226,1017.2) rotate(12) skewX(-7)" text-anchor="middle" font-size="31" textLength="51" lengthAdjust="spacingAndGlyphs">282</text>
<path d="M106,1054 L290.6,1093.2" fill="none" stroke="#1c1c1c" stroke-width="1.8" stroke-linecap="butt"/>
<path d="M106,1049.5 L106,1060" fill="none" stroke="#1c1c1c" stroke-width="1.9" stroke-linecap="butt"/>
<path d="M290.6,1088.2 L290.6,1097.7" fill="none" stroke="#1c1c1c" stroke-width="1.9" stroke-linecap="butt"/>
<text x="0" y="0" transform="translate(186.8,1061.2) rotate(12) skewX(-7)" text-anchor="middle" font-size="31" textLength="51" lengthAdjust="spacingAndGlyphs">327</text>
<path d="M77.2,1100 L290.6,1144.4" fill="none" stroke="#1c1c1c" stroke-width="1.8" stroke-linecap="butt"/>
<path d="M77.2,1095.5 L77.2,1106" fill="none" stroke="#1c1c1c" stroke-width="1.9" stroke-linecap="butt"/>
<path d="M290.6,1139.4 L290.6,1148.9" fill="none" stroke="#1c1c1c" stroke-width="1.9" stroke-linecap="butt"/>
<text x="0" y="0" transform="translate(170,1109.2) rotate(12) skewX(-7)" text-anchor="middle" font-size="31" textLength="51" lengthAdjust="spacingAndGlyphs">375</text>
<path d="M68,1150 L290.6,1195.2" fill="none" stroke="#1c1c1c" stroke-width="1.8" stroke-linecap="butt"/>
<path d="M68,1145.5 L68,1156" fill="none" stroke="#1c1c1c" stroke-width="1.9" stroke-linecap="butt"/>
<path d="M290.6,1190.2 L290.6,1199.7" fill="none" stroke="#1c1c1c" stroke-width="1.9" stroke-linecap="butt"/>
<text x="0" y="0" transform="translate(170.7,1162.2) rotate(12) skewX(-7)" text-anchor="middle" font-size="31" textLength="51" lengthAdjust="spacingAndGlyphs">394</text>
<path d="M569.3,65 L569.3,149.6" fill="none" stroke="#1c1c1c" stroke-width="1.8" stroke-linecap="butt"/>
<path d="M563.3,65 L575.3,65" fill="none" stroke="#1c1c1c" stroke-width="1.8" stroke-linecap="butt"/>
<path d="M563.3,149.6 L575.3,149.6" fill="none" stroke="#1c1c1c" stroke-width="1.8" stroke-linecap="butt"/>
<text x="593" y="114.7" font-size="31" textLength="35" lengthAdjust="spacingAndGlyphs">92</text>
<path d="M569.3,172.4 L569.3,258" fill="none" stroke="#1c1c1c" stroke-width="1.8" stroke-linecap="butt"/>
<path d="M563.3,172.4 L575.3,172.4" fill="none" stroke="#1c1c1c" stroke-width="1.8" stroke-linecap="butt"/>
<path d="M563.3,258 L575.3,258" fill="none" stroke="#1c1c1c" stroke-width="1.8" stroke-linecap="butt"/>
<text x="575.5" y="221.9" font-size="31" textLength="51.5" lengthAdjust="spacingAndGlyphs">109</text>
<path d="M569.3,275.6 L569.3,396" fill="none" stroke="#1c1c1c" stroke-width="1.8" stroke-linecap="butt"/>
<path d="M563.3,275.6 L575.3,275.6" fill="none" stroke="#1c1c1c" stroke-width="1.8" stroke-linecap="butt"/>
<path d="M563.3,396 L575.3,396" fill="none" stroke="#1c1c1c" stroke-width="1.8" stroke-linecap="butt"/>
<text x="575.5" y="339.9" font-size="31" textLength="51.5" lengthAdjust="spacingAndGlyphs">149</text>
<path d="M569.3,449.4 L569.3,520" fill="none" stroke="#1c1c1c" stroke-width="1.8" stroke-linecap="butt"/>
<path d="M563.3,449.4 L575.3,449.4" fill="none" stroke="#1c1c1c" stroke-width="1.8" stroke-linecap="butt"/>
<path d="M563.3,520 L575.3,520" fill="none" stroke="#1c1c1c" stroke-width="1.8" stroke-linecap="butt"/>
<text x="593" y="493.3" font-size="31" textLength="35" lengthAdjust="spacingAndGlyphs">94</text>
<path d="M569.3,544.6 L569.3,658" fill="none" stroke="#1c1c1c" stroke-width="1.8" stroke-linecap="butt"/>
<path d="M563.3,544.6 L575.3,544.6" fill="none" stroke="#1c1c1c" stroke-width="1.8" stroke-linecap="butt"/>
<path d="M563.3,658 L575.3,658" fill="none" stroke="#1c1c1c" stroke-width="1.8" stroke-linecap="butt"/>
<text x="577" y="610.1" font-size="31" textLength="48" lengthAdjust="spacingAndGlyphs">157</text>
<path d="M569.3,686.3 L569.3,941.3" fill="none" stroke="#1c1c1c" stroke-width="1.8" stroke-linecap="butt"/>
<path d="M563.3,686.3 L575.3,686.3" fill="none" stroke="#1c1c1c" stroke-width="1.8" stroke-linecap="butt"/>
<path d="M563.3,941.3 L575.3,941.3" fill="none" stroke="#1c1c1c" stroke-width="1.8" stroke-linecap="butt"/>
<text x="580" y="840.3" font-size="31" textLength="46.5" lengthAdjust="spacingAndGlyphs">311</text>
<text x="28.5" y="155" font-size="31" textLength="18" lengthAdjust="spacingAndGlyphs">5</text>
<text x="28.5" y="239.5" font-size="31" textLength="18" lengthAdjust="spacingAndGlyphs">5</text>
<text x="28.5" y="362.9" font-size="31" textLength="18" lengthAdjust="spacingAndGlyphs">9</text>
<text x="28.5" y="503.7" font-size="31" textLength="18" lengthAdjust="spacingAndGlyphs">5</text>
<text x="28.5" y="631.6" font-size="31" textLength="18" lengthAdjust="spacingAndGlyphs">9</text>
<text x="10.5" y="838.1" font-size="31" textLength="33" lengthAdjust="spacingAndGlyphs">15</text>
<text x="12.5" y="1058" font-size="31" textLength="36.5" lengthAdjust="spacingAndGlyphs">48</text>
<path d="M8.2,1023.4 L51.3,1023.4" fill="none" stroke="#1c1c1c" stroke-width="1.3"/>
<text x="-2.5" y="21.5" font-size="30" textLength="67" lengthAdjust="spacingAndGlyphs">max.</text>
<text font-size="29.5"><tspan x="580.8" y="19.3">[</tspan><tspan x="591.6" y="23.1">m</tspan><tspan x="618.1" y="23.1">m</tspan><tspan x="643.4" y="19.3">]</tspan></text>
</g>
<path d="M25.4,33 L25.4,49 C25.4,52 19.6,53 19.6,60 L19.6,104 Q19.6,107 23,107 L37,107 Q40.3,107 40.3,104 L40.3,60 C40.3,53 34.2,52 34.2,49 L34.2,33 Q34.2,30.8 29.8,30.8 Q25.4,30.8 25.4,33Z" fill="#eaeaea" stroke="#9a9a9a" stroke-width="0.9"/>
<path d="M19.6,59.5 Q30,62.5 40.3,59.5" fill="none" stroke="#9a9a9a" stroke-width="0.7"/>
<path d="M25.4,51 Q29.8,53 34.2,51" fill="none" stroke="#9a9a9a" stroke-width="0.7"/>
<path d="M25.4,34 Q29.8,35.5 34.2,34" fill="none" stroke="#9a9a9a" stroke-width="0.7"/>
</svg>
</body></html>
